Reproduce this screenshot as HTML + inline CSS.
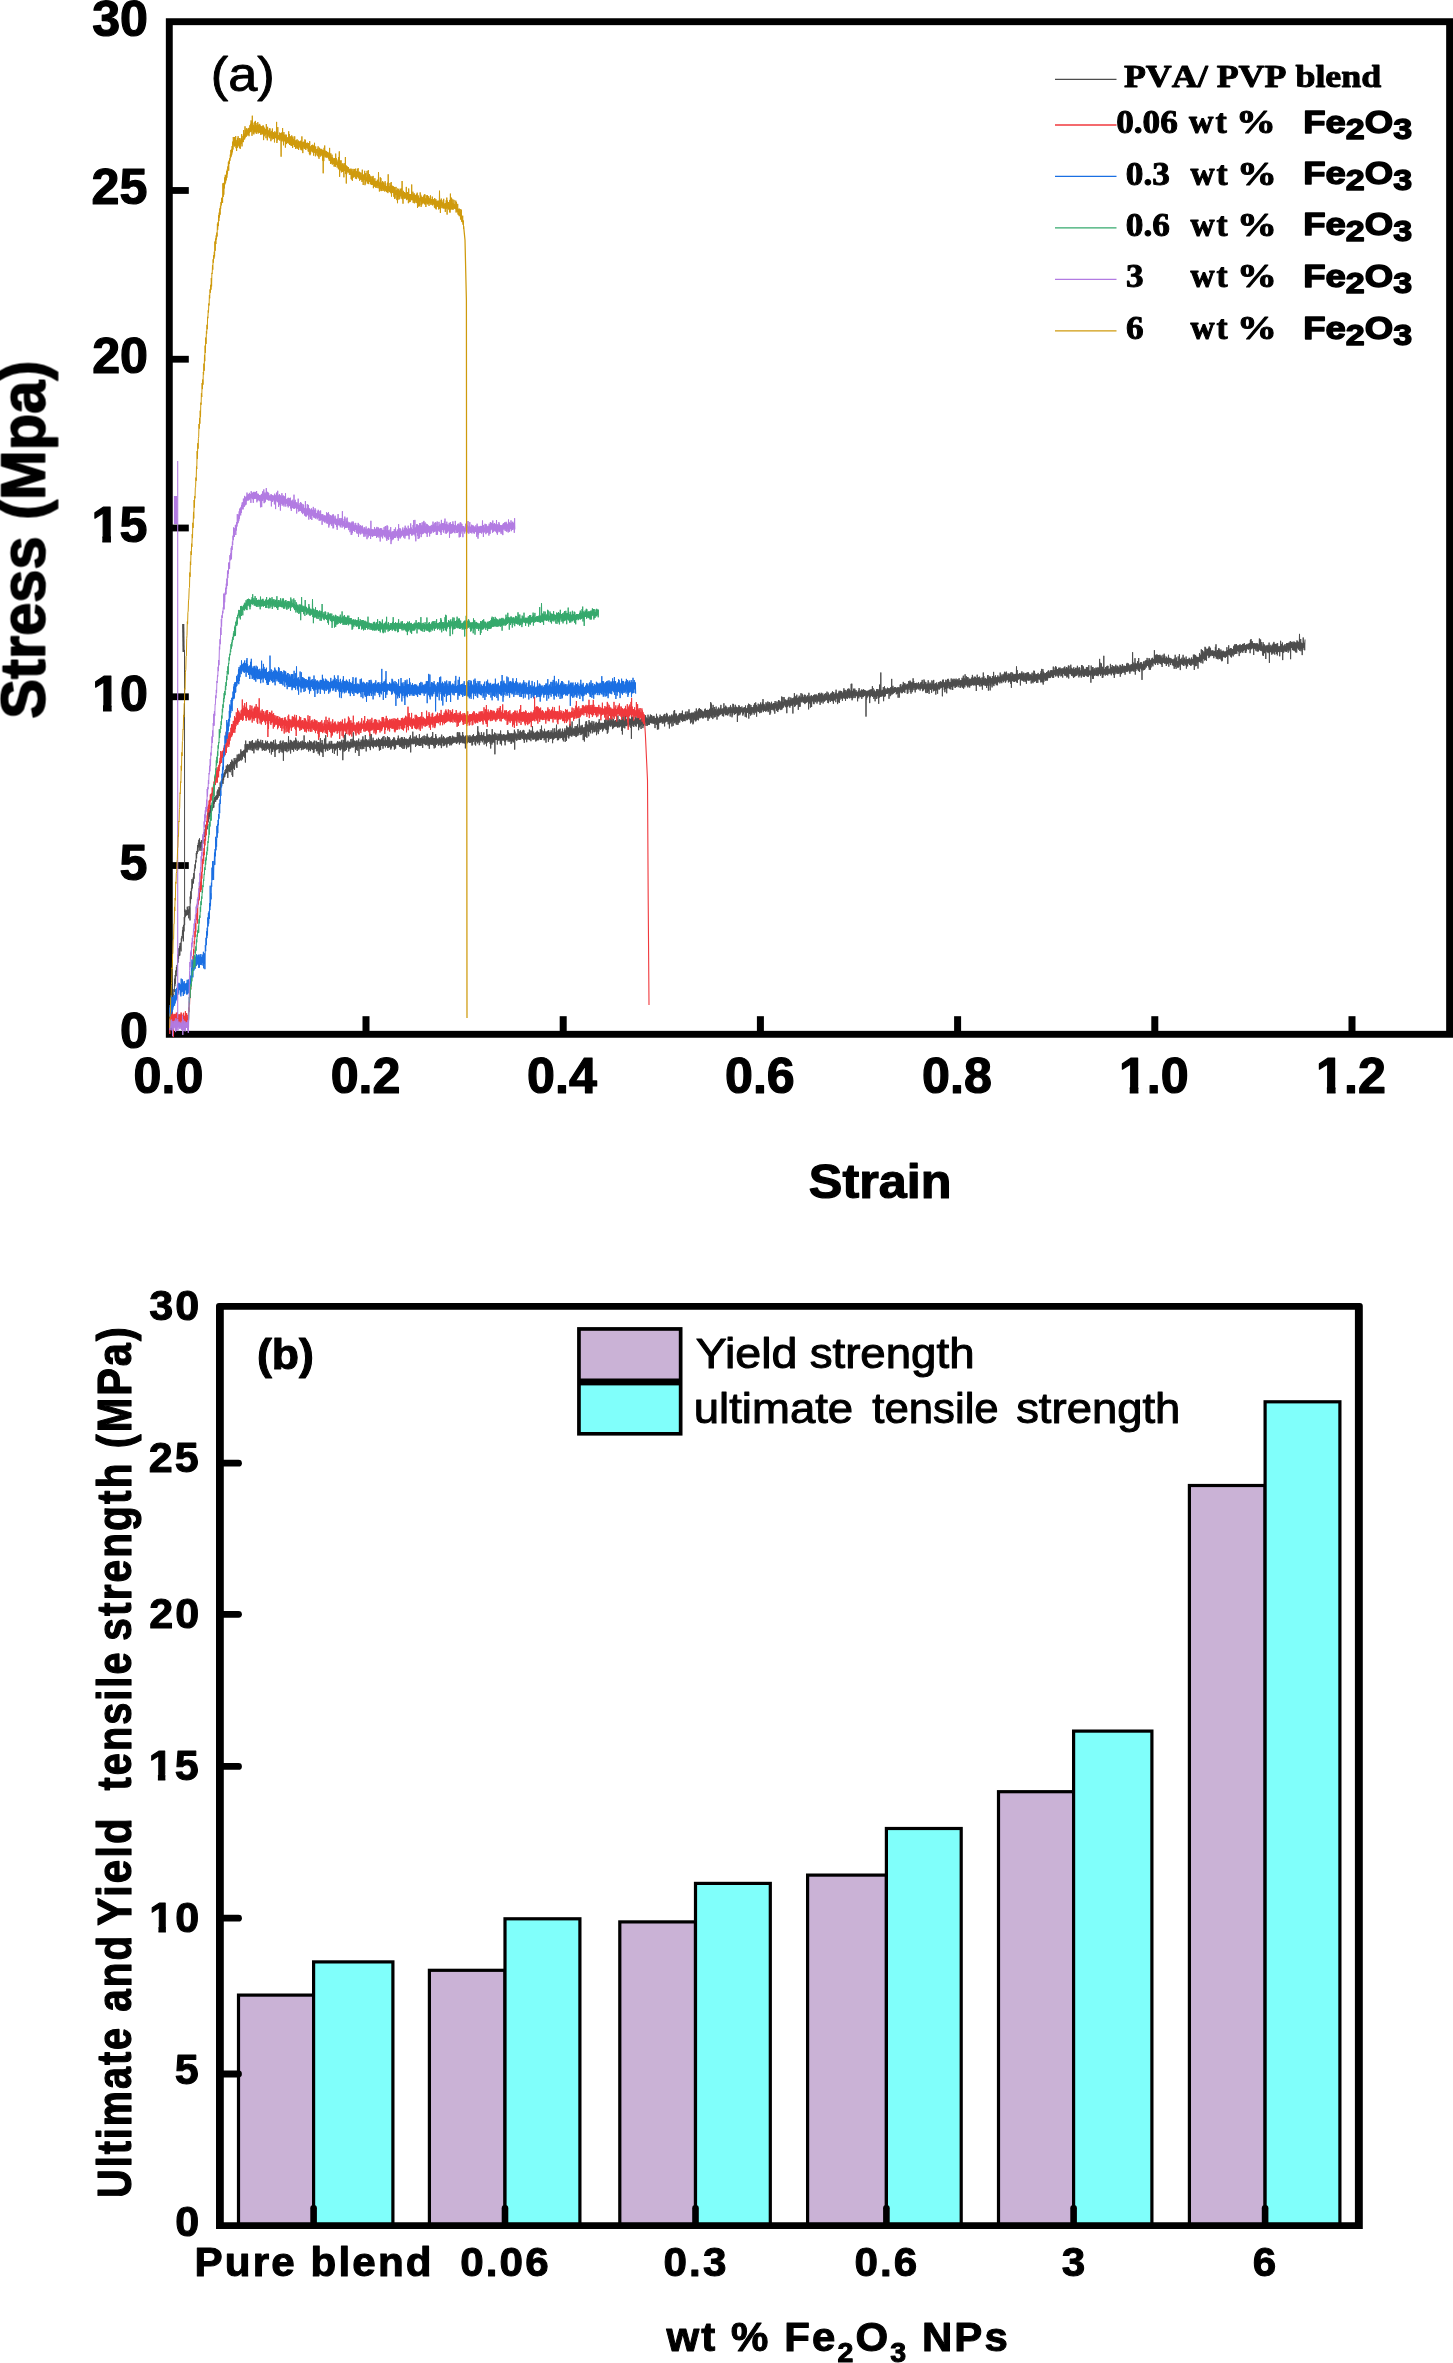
<!DOCTYPE html>
<html><head><meta charset="utf-8"><title>Figure</title>
<style>html,body{margin:0;padding:0;background:#fff;}body{width:1453px;height:2363px;overflow:hidden;font-family:"Liberation Sans",sans-serif;}</style>
</head><body>
<svg width="1453" height="2363" viewBox="0 0 1453 2363" style="display:block">
<rect x="0" y="0" width="1453" height="2363" fill="#fff"/>
<defs><clipPath id="c1" clipPathUnits="userSpaceOnUse"><path d="M-20,-120 H400 V40 H55.6 V-12.6 H38.7 V10 H21.5 V-12.6 H-20 Z"/></clipPath></defs>
<rect x="169.3" y="21.7" width="1280.3" height="1012.5999999999999" fill="none" stroke="#000" stroke-width="6.9"/>
<rect x="169.3" y="862.13" width="19.50" height="6.8" fill="#000"/>
<rect x="169.3" y="693.37" width="19.50" height="6.8" fill="#000"/>
<rect x="169.3" y="524.60" width="19.50" height="6.8" fill="#000"/>
<rect x="169.3" y="355.83" width="19.50" height="6.8" fill="#000"/>
<rect x="169.3" y="187.07" width="19.50" height="6.8" fill="#000"/>
<rect x="362.50" y="1016.2" width="7" height="18.10" fill="#000"/>
<rect x="559.70" y="1016.2" width="7" height="18.10" fill="#000"/>
<rect x="756.90" y="1016.2" width="7" height="18.10" fill="#000"/>
<rect x="954.10" y="1016.2" width="7" height="18.10" fill="#000"/>
<rect x="1151.30" y="1016.2" width="7" height="18.10" fill="#000"/>
<rect x="1348.50" y="1016.2" width="7" height="18.10" fill="#000"/>
<g>
<path d="M169.5,1029.1 169.8,1030.2 170.1,1022.9 170.5,1025.7 170.8,1014.2 171.1,1019.9 171.4,1011.2 171.7,1017.9 172.1,1004.3 172.4,1010.2 172.7,998.1 173.0,1000.8 173.3,994.1 173.6,997.2 173.9,989.2 174.3,991.9 174.6,978.7 174.9,986.2 175.2,975.0 175.5,983.6 175.8,970.5 176.1,976.2 176.4,966.9 176.7,971.7 177.0,965.0 177.4,966.6 177.7,954.5 178.0,962.7 178.3,955.7 178.6,958.7 178.9,948.2 179.2,955.9 179.5,946.3 179.8,955.5 180.1,943.1 180.4,949.3 180.7,942.7 181.0,951.4 181.3,938.4 181.6,941.5 181.9,936.2 182.2,938.4 182.5,930.2 182.8,935.2 183.1,926.8 183.4,941.3 183.7,924.9 184.0,931.4 184.3,917.0 184.6,925.2 184.9,909.4 185.2,917.2 185.5,910.9 185.8,915.5 186.1,910.4 186.4,915.4 186.7,910.4 187.0,915.1 187.3,906.7 187.6,915.1 187.9,909.7 188.2,914.5 188.5,909.7 188.8,918.3 189.1,906.0 189.4,913.1 189.7,907.4 190.0,920.4 190.2,896.6 190.5,903.3 190.8,891.3 191.1,899.1 191.4,888.2 191.7,890.7 192.0,879.1 192.3,888.4 192.6,881.0 192.9,884.0 193.2,877.5 193.5,883.1 193.8,873.2 194.1,878.7 194.4,868.8 194.7,870.7 195.0,864.4 195.3,868.4 195.7,860.3 196.0,862.3 196.3,853.0 196.6,858.3 196.9,851.0 197.2,853.8 197.6,845.0 198.0,851.7 198.3,842.8 198.6,847.4 198.9,839.8 199.2,846.7 199.5,838.4 199.8,850.6 200.2,841.9 200.5,847.8 200.8,842.0 201.1,850.9 201.4,840.3 201.7,847.0 202.0,840.3 202.3,845.4 202.6,839.5 202.9,843.8 203.2,835.7 203.5,840.7 203.8,832.6 204.1,837.1 204.4,832.4 204.7,836.9 205.0,829.1 205.3,833.7 205.6,824.9 205.9,829.6 206.2,824.6 206.6,828.3 206.9,822.1 207.2,829.3 207.5,813.5 207.8,822.9 208.1,812.5 208.4,821.7 208.7,811.0 209.0,819.2 209.3,810.7 209.6,816.7 209.9,810.2 210.2,816.3 210.5,805.4 210.8,813.9 211.1,806.4 211.4,810.1 211.7,805.1 212.0,810.5 212.3,801.7 212.6,808.4 212.9,803.2 213.2,807.8 213.5,800.5 213.8,807.5 214.1,797.6 214.4,803.6 214.8,797.1 215.1,801.9 215.4,796.6 215.7,801.7 216.0,795.7 216.3,799.8 216.6,795.1 216.9,799.3 217.2,791.4 217.5,799.3 217.8,789.6 218.1,797.8 218.4,789.9 218.7,795.5 219.0,787.0 219.3,796.1 219.6,788.1 219.9,792.3 220.2,782.4 220.5,790.5 220.8,784.4 221.1,786.9 221.4,780.8 221.7,785.9 222.0,779.3 222.4,783.2 222.7,776.1 223.0,783.9 223.3,773.5 223.6,780.2 223.9,774.3 224.2,777.4 224.5,772.3 224.8,776.7 225.1,770.0 225.4,774.4 225.7,769.2 226.0,772.1 226.3,765.6 226.6,773.3 226.9,767.3 227.2,772.4 227.5,764.4 227.8,777.9 228.1,765.0 228.4,770.7 228.7,765.6 229.0,771.7 229.3,764.4 229.6,771.5 229.9,764.6 230.2,772.2 230.5,762.2 230.8,770.1 231.2,763.5 231.5,769.7 231.8,759.6 232.1,775.2 232.4,760.9 232.7,776.8 233.0,761.4 233.3,768.6 233.6,762.5 233.9,767.5 234.2,758.0 234.5,769.8 234.8,760.6 235.1,764.3 235.4,760.2 235.7,763.5 236.0,757.9 236.3,766.4 236.6,758.9 236.9,767.9 237.2,754.6 237.5,762.4 237.8,757.4 238.1,761.5 238.4,754.5 238.7,761.1 239.0,753.8 239.3,761.1 239.6,755.0 239.9,760.1 240.2,753.8 240.5,759.8 240.8,749.4 241.2,760.6 241.5,751.6 241.8,756.8 242.1,753.0 242.4,759.4 242.7,751.1 243.0,756.8 243.3,751.3 243.6,756.1 243.9,749.9 244.2,756.1 244.5,749.8 244.8,757.9 245.1,744.2 245.4,762.5 245.7,740.6 246.0,752.5 246.3,744.5 246.6,751.9 246.9,744.3 247.2,752.3 247.5,743.9 247.8,749.9 248.2,745.8 248.5,748.9 248.8,744.1 249.1,750.1 249.4,741.3 249.7,748.2 250.0,741.8 250.3,748.7 250.6,742.7 250.9,750.2 251.2,741.1 251.5,747.7 251.8,744.2 252.1,750.5 252.4,740.0 252.7,750.8 253.0,742.9 253.3,748.9 253.6,742.9 253.9,753.3 254.2,743.4 254.5,747.4 254.8,742.7 255.1,749.4 255.4,742.9 255.7,748.1 256.0,740.6 256.3,747.4 256.6,743.4 256.9,750.2 257.2,742.2 257.5,747.4 257.8,738.9 258.1,750.3 258.4,741.0 258.7,748.9 259.0,741.9 259.3,747.1 259.6,741.7 259.9,747.4 260.2,743.1 260.5,746.7 260.8,739.8 261.1,748.1 261.4,743.5 261.7,748.3 262.0,742.2 262.3,750.7 262.6,740.1 262.9,747.4 263.2,743.2 263.6,750.1 263.9,744.2 264.2,749.7 264.5,743.5 264.8,750.9 265.1,744.2 265.4,747.9 265.7,740.6 266.0,750.5 266.3,742.3 266.6,749.7 266.9,742.4 267.2,749.0 267.5,740.9 267.8,748.4 268.1,743.0 268.4,748.1 268.7,744.5 269.0,750.1 269.3,743.6 269.6,752.6 269.9,744.0 270.2,748.1 270.5,741.9 270.8,748.5 271.1,741.7 271.4,754.5 271.7,741.9 272.0,750.4 272.3,742.5 272.6,752.0 272.9,744.5 273.2,749.6 273.5,740.3 273.8,748.8 274.1,743.6 274.4,751.5 274.7,744.8 275.0,757.0 275.3,739.6 275.6,750.6 275.9,743.1 276.2,749.8 276.5,744.8 276.8,749.1 277.1,744.7 277.4,749.3 277.7,744.8 278.0,748.9 278.3,744.1 278.6,749.0 278.9,744.3 279.2,753.1 279.5,744.1 279.8,748.8 280.1,741.3 280.4,749.4 280.7,740.6 281.0,751.8 281.3,743.2 281.6,750.1 281.9,745.0 282.2,752.6 282.5,741.8 282.8,750.1 283.1,740.5 283.4,760.8 283.7,744.9 284.0,750.5 284.3,742.3 284.6,748.6 284.9,744.9 285.2,751.2 285.5,742.6 285.8,750.9 286.1,742.3 286.4,750.6 286.7,742.2 287.0,752.2 287.3,743.5 287.6,748.4 287.9,743.9 288.2,748.8 288.5,736.2 288.8,751.2 289.1,742.7 289.4,748.2 289.7,742.9 290.0,749.7 290.3,739.9 290.6,753.5 290.9,743.4 291.2,748.0 291.5,740.7 291.8,749.5 292.1,743.2 292.4,749.9 292.7,741.8 293.0,748.9 293.3,742.8 293.6,751.6 293.9,740.7 294.2,748.6 294.5,740.7 294.8,748.0 295.1,741.0 295.4,749.7 295.7,737.7 296.0,747.2 296.3,739.7 296.6,748.4 296.9,743.2 297.2,751.0 297.5,742.8 297.8,749.3 298.1,740.8 298.4,749.3 298.7,742.7 299.0,749.3 299.3,742.4 299.6,747.7 299.9,743.3 300.2,748.0 300.5,741.7 300.8,747.6 301.1,741.3 301.4,750.2 301.7,744.0 302.0,749.6 302.3,740.6 302.6,747.4 302.9,742.6 303.2,749.6 303.5,741.8 303.8,748.5 304.1,735.4 304.4,748.8 304.7,742.7 305.0,747.4 305.3,742.0 305.6,748.2 305.9,743.3 306.2,748.4 306.5,743.6 306.8,749.6 307.1,743.8 307.4,747.3 307.7,741.8 308.0,749.4 308.3,744.0 308.6,751.5 308.9,742.6 309.2,750.0 309.5,740.0 309.8,747.8 310.1,741.7 310.4,751.1 310.7,741.5 311.0,749.2 311.3,741.6 311.6,748.5 311.9,742.3 312.2,749.5 312.5,743.5 312.8,749.9 313.1,743.7 313.4,752.9 313.7,741.9 314.0,752.5 314.3,740.6 314.6,749.2 314.9,744.5 315.2,748.3 315.5,744.8 315.8,748.9 316.1,740.8 316.4,751.2 316.7,741.7 317.0,751.2 317.3,742.2 317.6,750.6 317.9,743.6 318.2,753.7 318.5,742.0 318.8,749.5 319.1,742.3 319.4,755.4 319.7,744.1 320.0,751.3 320.3,738.1 320.6,751.2 320.9,744.8 321.2,752.3 321.5,743.1 321.8,752.0 322.1,740.0 322.4,752.9 322.7,743.3 323.0,757.0 323.3,744.6 323.6,748.8 323.9,745.2 324.2,748.8 324.5,738.6 324.8,748.4 325.1,744.9 325.4,751.5 325.7,735.2 326.0,749.0 326.3,743.7 326.6,749.1 326.9,744.0 327.2,750.3 327.5,745.0 327.8,750.9 328.1,743.5 328.4,748.3 328.7,744.0 329.0,748.2 329.3,741.4 329.6,750.0 329.9,743.9 330.2,749.0 330.5,743.8 330.8,747.5 331.1,740.9 331.4,747.7 331.7,741.1 332.0,749.1 332.3,743.8 332.6,752.8 332.9,744.5 333.2,748.3 333.5,744.3 333.8,748.7 334.1,743.6 334.4,754.0 334.7,743.9 335.0,749.2 335.3,744.3 335.6,750.4 335.9,743.7 336.2,749.1 336.5,743.8 336.8,748.1 337.1,742.6 337.4,755.6 337.7,741.0 338.0,747.4 338.3,743.1 338.6,747.7 338.9,742.0 339.2,747.2 339.5,741.6 339.8,750.0 340.1,742.8 340.4,750.3 340.7,742.1 341.0,749.4 341.3,740.9 341.6,747.2 341.9,739.8 342.2,749.0 342.5,743.0 342.8,760.2 343.1,742.3 343.4,750.0 343.7,740.1 344.0,751.7 344.3,734.9 344.6,750.5 344.9,742.8 345.2,750.9 345.5,732.9 345.8,747.1 346.1,742.9 346.4,749.9 346.7,741.8 347.0,747.6 347.3,742.4 347.6,746.7 347.9,740.7 348.2,748.2 348.5,742.9 348.8,751.5 349.1,741.7 349.4,748.8 349.7,742.1 350.0,746.9 350.3,742.2 350.6,748.5 350.9,739.1 351.2,747.5 351.5,742.7 351.8,746.9 352.1,738.8 352.4,746.9 352.7,741.3 353.0,747.8 353.3,732.3 353.6,746.2 353.9,740.2 354.2,746.7 354.5,741.3 354.8,745.9 355.1,740.9 355.4,752.7 355.7,742.7 356.0,747.3 356.3,741.0 356.6,750.1 356.9,740.2 357.2,746.7 357.5,741.9 357.8,750.8 358.1,741.4 358.4,746.0 358.7,738.6 359.0,756.0 359.3,742.0 359.6,745.7 359.9,741.7 360.2,748.5 360.5,742.2 360.8,749.1 361.1,739.8 361.4,745.7 361.7,741.4 362.0,749.3 362.3,739.4 362.6,748.7 362.9,736.4 363.2,746.2 363.5,740.5 363.8,749.0 364.1,739.7 364.4,746.5 364.7,741.1 365.0,746.4 365.3,735.1 365.6,746.6 365.9,739.0 366.2,751.4 366.5,739.5 366.8,745.2 367.1,739.8 367.4,746.3 367.7,740.9 368.0,747.0 368.3,741.3 368.6,745.4 368.9,739.4 369.2,746.6 369.5,740.9 369.8,748.1 370.1,733.8 370.4,750.1 370.7,742.1 371.0,745.9 371.3,734.1 371.6,745.8 371.9,739.7 372.2,746.5 372.5,740.7 372.8,746.9 373.1,737.7 373.4,748.3 373.7,740.1 374.0,746.7 374.3,741.4 374.6,745.5 374.9,740.3 375.2,745.5 375.5,740.5 375.8,746.8 376.1,740.7 376.4,747.1 376.7,738.8 377.0,744.9 377.3,739.9 377.6,745.7 377.9,741.1 378.2,746.3 378.5,737.8 378.8,747.2 379.1,740.5 379.4,750.6 379.7,739.0 380.0,745.0 380.3,739.8 380.6,749.9 380.9,740.4 381.2,745.7 381.5,738.5 381.8,745.9 382.1,739.9 382.4,745.9 382.7,736.8 383.0,748.7 383.3,740.0 383.6,746.0 383.9,736.0 384.2,745.7 384.5,740.8 384.8,745.7 385.1,739.8 385.4,747.4 385.7,737.4 386.0,745.8 386.3,739.9 386.6,745.6 386.9,740.1 387.2,745.7 387.5,736.3 387.8,747.9 388.1,741.1 388.4,747.6 388.7,737.1 389.0,745.0 389.3,737.5 389.6,747.2 389.9,738.8 390.2,745.8 390.5,741.4 390.8,749.5 391.1,740.5 391.4,748.2 391.7,740.6 392.0,744.8 392.3,740.5 392.6,746.0 392.9,739.0 393.2,746.5 393.5,737.7 393.8,744.9 394.1,737.3 394.4,749.6 394.7,738.5 395.0,746.5 395.3,740.2 395.6,748.6 395.9,741.6 396.2,744.9 396.5,740.7 396.8,744.7 397.1,740.1 397.4,744.6 397.7,738.4 398.0,745.1 398.3,735.6 398.6,744.2 398.9,740.3 399.2,745.3 399.5,739.3 399.8,746.9 400.1,738.2 400.5,746.5 400.8,740.4 401.1,744.5 401.4,737.1 401.7,747.7 402.0,740.9 402.3,745.6 402.6,737.4 402.9,748.9 403.2,739.3 403.5,745.4 403.8,739.2 404.1,748.9 404.4,737.1 404.7,747.6 405.0,738.7 405.3,744.7 405.6,739.3 405.9,745.2 406.2,738.6 406.5,749.1 406.8,739.9 407.1,747.4 407.4,739.2 407.7,744.6 408.0,739.5 408.3,747.3 408.6,739.7 408.9,747.0 409.2,738.2 409.5,745.4 409.8,737.0 410.1,744.2 410.4,735.4 410.7,752.4 411.0,738.5 411.3,743.7 411.6,739.3 411.9,744.3 412.2,738.5 412.5,743.3 412.8,731.7 413.1,744.1 413.4,739.0 413.7,744.2 414.0,736.6 414.3,743.6 414.6,739.2 414.9,743.5 415.2,736.7 415.5,746.9 415.8,739.5 416.1,745.8 416.4,735.5 416.7,743.4 417.0,738.8 417.3,745.0 417.6,737.9 417.9,745.1 418.2,738.8 418.5,745.1 418.8,738.7 419.1,745.8 419.4,734.1 419.7,745.9 420.0,739.0 420.3,745.2 420.6,738.0 420.9,745.9 421.2,738.5 421.5,742.9 421.8,737.2 422.1,745.3 422.4,738.6 422.7,747.9 423.0,736.1 423.3,743.6 423.6,739.2 423.9,743.4 424.2,735.5 424.5,744.1 424.8,737.8 425.1,744.5 425.4,739.6 425.7,745.2 426.0,736.0 426.3,744.6 426.6,737.0 426.9,744.9 427.2,733.8 427.5,743.4 427.8,736.7 428.1,746.1 428.4,737.5 428.7,744.5 429.0,739.3 429.3,748.8 429.6,737.8 429.9,744.3 430.2,739.8 430.5,743.9 430.8,737.3 431.1,745.0 431.5,736.5 431.8,744.4 432.1,740.5 432.4,744.7 432.7,732.0 433.0,744.3 433.3,738.4 433.6,746.0 433.9,738.1 434.2,748.4 434.5,738.1 434.8,743.6 435.1,739.5 435.4,747.5 435.7,734.0 436.0,744.5 436.3,736.5 436.6,744.8 436.9,738.8 437.2,743.7 437.5,739.1 437.8,743.3 438.1,738.2 438.4,745.7 438.7,739.6 439.0,745.0 439.3,737.3 439.6,743.4 439.9,737.9 440.2,745.3 440.5,739.0 440.8,745.2 441.1,736.7 441.4,748.1 441.7,734.6 442.0,743.2 442.3,737.6 442.6,742.9 442.9,739.1 443.2,746.2 443.5,736.1 443.8,745.2 444.1,737.2 444.4,745.6 444.7,738.5 445.0,743.8 445.3,738.5 445.6,744.1 445.9,739.1 446.2,745.3 446.5,738.0 446.8,747.5 447.1,737.2 447.4,744.2 447.7,739.1 448.0,742.8 448.3,736.9 448.6,743.7 448.9,737.6 449.2,742.7 449.5,736.1 449.8,745.5 450.1,736.1 450.4,743.8 450.7,736.3 451.0,745.1 451.3,738.7 451.6,745.2 451.9,737.8 452.2,743.9 452.5,735.7 452.8,742.6 453.1,737.2 453.4,743.1 453.7,736.6 454.0,742.4 454.3,738.2 454.6,742.5 454.9,736.9 455.2,741.6 455.5,738.1 455.8,742.6 456.1,737.0 456.4,743.9 456.7,737.7 457.0,743.3 457.3,732.5 457.6,742.4 457.9,732.0 458.2,742.2 458.5,734.9 458.8,740.9 459.1,732.6 459.4,744.5 459.7,732.5 460.0,742.8 460.3,735.7 460.6,742.6 460.9,735.6 461.2,740.8 461.5,736.4 461.8,742.4 462.1,737.5 462.4,743.2 462.7,732.0 463.0,742.2 463.3,735.2 463.6,743.2 463.9,737.2 464.2,743.2 464.5,737.0 464.8,743.4 465.1,735.9 465.4,748.4 465.7,735.8 466.0,742.4 466.3,735.5 466.6,741.5 466.9,735.4 467.2,743.3 467.5,737.9 467.8,742.7 468.1,735.6 468.4,742.0 468.7,737.2 469.0,741.3 469.3,737.5 469.6,743.0 469.9,735.2 470.2,741.9 470.5,736.7 470.8,742.9 471.1,736.9 471.4,741.8 471.7,736.6 472.0,745.6 472.3,736.6 472.6,744.9 472.9,735.0 473.2,742.0 473.5,734.2 473.8,741.4 474.1,736.8 474.4,740.2 474.7,736.2 475.0,744.5 475.3,736.5 475.6,745.5 475.9,736.3 476.2,741.9 476.5,735.4 476.8,740.7 477.1,736.3 477.4,743.4 477.8,726.2 478.1,742.5 478.4,731.6 478.7,741.9 479.0,732.6 479.3,745.2 479.6,734.9 479.9,742.8 480.2,735.6 480.5,740.2 480.8,735.2 481.1,740.9 481.4,732.2 481.7,740.3 482.0,736.5 482.3,742.3 482.6,735.4 482.9,740.7 483.2,734.7 483.5,740.1 483.8,732.4 484.1,744.6 484.4,736.1 484.7,742.3 485.0,736.1 485.3,742.3 485.6,736.6 485.9,743.7 486.2,737.0 486.5,746.2 486.8,729.0 487.1,742.9 487.4,734.9 487.7,740.9 488.0,734.5 488.3,742.0 488.6,735.1 488.9,742.0 489.2,734.5 489.5,740.8 489.8,734.2 490.1,743.7 490.4,735.1 490.7,748.5 491.0,735.1 491.3,741.6 491.6,735.8 491.9,744.6 492.2,729.1 492.5,742.7 492.8,734.4 493.1,742.4 493.4,734.6 493.7,741.8 494.0,736.1 494.3,743.1 494.6,732.5 494.9,754.3 495.2,733.2 495.5,739.9 495.8,735.6 496.1,739.7 496.4,735.5 496.7,740.0 497.0,733.6 497.3,744.5 497.6,736.1 497.9,741.0 498.2,735.8 498.5,740.0 498.8,733.8 499.1,740.6 499.4,733.8 499.7,739.8 500.0,734.2 500.3,744.1 500.6,730.5 500.9,742.9 501.2,735.6 501.5,745.4 501.8,734.1 502.1,739.6 502.4,735.4 502.7,740.5 503.0,735.4 503.3,740.5 503.6,734.1 503.9,740.1 504.2,734.7 504.5,741.8 504.8,734.7 505.1,745.3 505.4,735.2 505.7,741.3 506.0,734.9 506.3,740.1 506.6,734.7 506.9,739.1 507.2,735.7 507.5,739.7 507.8,730.2 508.1,741.6 508.4,732.4 508.7,739.4 509.0,733.6 509.3,741.7 509.6,733.6 509.9,738.8 510.2,733.6 510.5,741.2 510.8,733.6 511.1,744.0 511.4,733.3 511.7,743.1 512.0,735.1 512.3,741.0 512.6,733.7 512.9,741.6 513.2,733.2 513.5,742.3 513.8,734.2 514.1,738.1 514.4,729.7 514.7,749.6 515.0,731.6 515.3,738.2 515.6,733.9 515.9,739.8 516.2,733.5 516.5,740.6 516.8,734.6 517.1,740.3 517.4,734.6 517.7,738.0 518.0,729.1 518.3,739.7 518.6,734.2 518.9,738.0 519.2,731.3 519.5,739.9 519.8,733.0 520.1,739.3 520.4,730.4 520.7,739.8 521.0,733.0 521.3,737.6 521.6,731.9 521.9,738.5 522.2,734.3 522.5,738.7 522.8,730.6 523.1,738.1 523.4,729.9 523.7,740.2 524.0,730.5 524.3,742.8 524.6,733.5 524.9,738.0 525.2,733.3 525.5,739.4 525.8,734.3 526.1,737.6 526.4,734.4 526.7,742.2 527.0,734.0 527.3,739.5 527.6,732.8 527.9,737.7 528.2,732.5 528.5,739.2 528.8,732.8 529.1,739.6 529.4,729.6 529.7,740.1 530.0,730.6 530.3,737.5 530.6,733.4 530.9,741.2 531.2,730.6 531.5,737.8 531.9,732.8 532.2,738.4 532.5,726.3 532.8,739.6 533.1,734.2 533.4,739.5 533.7,731.6 534.0,737.6 534.3,733.5 534.6,739.3 534.9,733.0 535.2,737.7 535.5,732.5 535.8,741.5 536.1,733.7 536.4,740.6 536.7,731.7 537.0,740.3 537.3,730.7 537.6,740.0 537.9,732.9 538.2,740.3 538.5,731.9 538.8,739.7 539.1,732.6 539.4,738.4 539.7,732.9 540.0,737.6 540.3,729.2 540.6,739.9 540.9,731.1 541.2,739.9 541.5,725.6 541.8,738.7 542.1,730.4 542.4,737.7 542.7,733.3 543.0,738.0 543.3,731.7 543.6,738.0 543.9,731.4 544.2,740.3 544.5,728.8 544.8,737.4 545.1,731.3 545.4,739.3 545.7,732.7 546.0,742.7 546.3,732.0 546.6,738.0 546.9,731.4 547.2,737.5 547.5,730.8 547.8,738.1 548.1,731.2 548.4,741.8 548.7,730.0 549.0,739.7 549.3,733.0 549.6,737.7 549.9,731.8 550.2,738.5 550.5,732.3 550.8,738.9 551.1,730.3 551.4,738.3 551.7,731.9 552.0,737.4 552.3,733.1 552.6,743.2 552.9,728.4 553.2,739.8 553.5,733.2 553.8,738.2 554.1,731.6 554.4,738.5 554.7,728.3 555.0,737.4 555.3,731.9 555.6,738.1 555.9,732.3 556.2,738.0 556.5,724.7 556.8,737.4 557.1,730.7 557.4,740.2 557.7,733.0 558.0,740.2 558.3,730.5 558.6,739.8 558.9,729.3 559.2,738.3 559.5,730.0 559.8,737.4 560.1,728.6 560.4,738.3 560.7,732.6 561.0,736.3 561.3,732.5 561.6,738.0 561.9,731.4 562.2,736.8 562.5,728.7 562.8,739.7 563.1,731.9 563.4,741.3 563.7,732.0 564.0,737.7 564.3,730.2 564.6,737.3 564.9,728.4 565.2,741.9 565.5,730.5 565.8,738.7 566.1,731.3 566.4,740.9 566.7,725.7 567.0,735.0 567.3,727.3 567.6,735.0 567.9,730.4 568.2,737.5 568.5,727.6 568.8,738.5 569.1,730.8 569.4,736.1 569.7,724.5 570.0,735.7 570.3,723.9 570.6,735.2 570.9,727.3 571.2,736.2 571.5,727.9 571.8,736.6 572.1,721.5 572.4,735.1 572.7,729.6 573.0,735.4 573.3,729.1 573.6,734.1 573.9,727.9 574.2,736.0 574.5,729.3 574.8,734.2 575.1,726.1 575.4,735.6 575.7,728.2 576.0,737.1 576.3,726.1 576.6,736.5 576.9,728.9 577.2,733.4 577.5,724.4 577.8,735.9 578.1,727.5 578.4,734.5 578.7,728.6 579.0,733.0 579.3,718.5 579.6,733.0 579.9,726.2 580.2,735.1 580.5,727.9 580.8,732.6 581.1,725.4 581.4,734.6 581.7,726.5 582.0,733.6 582.3,724.9 582.6,733.7 582.9,727.6 583.2,740.1 583.5,728.1 583.8,732.9 584.1,727.1 584.4,741.5 584.7,727.6 585.0,734.8 585.3,724.2 585.6,736.5 585.9,721.5 586.3,736.9 586.6,721.2 586.9,737.9 587.2,725.1 587.5,731.1 587.8,724.5 588.1,731.8 588.4,725.5 588.7,736.3 589.0,720.1 589.3,731.5 589.6,722.2 589.9,732.0 590.2,723.0 590.5,733.3 590.8,722.7 591.1,729.6 591.4,723.2 591.7,729.7 592.0,720.9 592.3,733.4 592.6,725.1 592.9,731.8 593.2,723.6 593.5,729.6 593.8,721.4 594.1,732.3 594.4,725.9 594.7,732.0 595.0,723.8 595.3,729.6 595.6,723.2 595.9,731.5 596.2,721.9 596.5,735.2 596.8,724.8 597.1,732.3 597.4,723.1 597.7,728.8 598.0,722.9 598.3,734.1 598.6,721.8 598.9,731.5 599.2,719.2 599.5,729.0 599.8,722.8 600.1,729.5 600.4,723.7 600.7,729.6 601.0,722.8 601.3,728.3 601.6,723.0 601.9,728.9 602.2,723.3 602.5,731.5 602.8,722.8 603.1,730.4 603.4,723.3 603.7,728.8 604.0,723.1 604.3,727.7 604.6,719.9 604.9,728.6 605.2,721.2 605.5,728.4 605.8,719.0 606.1,730.1 606.4,722.5 606.7,730.0 607.0,719.6 607.3,733.7 607.6,721.4 607.9,732.6 608.2,716.4 608.5,729.4 608.8,719.8 609.1,725.7 609.4,721.6 609.7,725.2 610.0,718.1 610.3,726.7 610.6,720.7 610.9,725.4 611.2,718.9 611.5,725.2 611.8,716.2 612.1,726.5 612.4,721.0 612.7,729.1 613.0,718.6 613.3,727.9 613.6,719.2 613.9,725.9 614.2,721.5 614.5,727.1 614.8,720.8 615.1,726.0 615.4,720.2 615.7,726.5 616.0,720.1 616.3,726.5 616.6,719.8 616.9,725.7 617.3,721.6 617.6,727.6 617.9,715.6 618.2,727.3 618.5,721.9 618.8,725.7 619.1,719.9 619.4,727.3 619.7,719.2 620.0,725.6 620.3,720.3 620.6,726.4 620.9,720.3 621.2,724.9 621.5,718.2 621.8,731.0 622.1,716.4 622.4,734.5 622.7,719.3 623.0,727.9 623.3,720.5 623.6,726.1 623.9,714.7 624.2,727.4 624.5,718.5 624.8,728.4 625.1,720.0 625.4,725.9 625.7,714.7 626.0,725.7 626.3,719.7 626.6,726.1 626.9,719.0 627.2,725.4 627.5,720.3 627.8,724.3 628.1,719.7 628.4,727.2 628.7,715.7 629.0,726.6 629.3,718.5 629.6,724.4 629.9,720.3 630.2,724.9 630.5,719.3 630.8,727.9 631.1,718.6 631.4,738.8 631.7,715.7 632.0,725.9 632.3,717.8 632.6,723.6 632.9,716.8 633.2,726.3 633.5,717.2 633.8,726.9 634.1,719.5 634.4,724.4 634.7,719.9 635.0,724.6 635.3,716.5 635.6,726.0 635.9,718.4 636.2,726.7 636.5,718.6 636.8,723.7 637.1,707.0 637.4,723.2 637.7,717.2 638.0,724.2 638.3,716.0 638.6,730.2 638.9,717.2 639.2,726.8 639.5,719.8 639.8,727.4 640.2,719.4 640.5,725.6 640.8,720.0 641.1,729.0 641.4,717.9 641.7,725.0 642.0,720.2 642.3,723.8 642.6,719.0 642.9,728.1 643.2,720.0 643.5,726.1 643.8,718.7 644.1,724.7 644.4,718.2 644.7,723.0 645.0,717.8 645.3,722.5 645.6,715.3 645.9,725.8 646.2,717.4 646.5,723.9 646.8,718.8 647.1,726.0 647.4,718.4 647.7,725.0 648.0,714.7 648.3,724.7 648.6,718.9 648.9,724.7 649.2,716.6 649.5,724.7 649.8,718.4 650.1,723.0 650.4,714.5 650.7,722.9 651.0,718.6 651.3,723.3 651.6,715.1 651.9,723.1 652.2,719.0 652.5,722.6 652.8,716.4 653.1,724.0 653.4,716.2 653.7,723.0 654.0,715.9 654.3,723.9 654.6,717.6 655.0,728.1 655.3,718.0 655.6,722.8 655.9,718.3 656.2,724.8 656.5,713.8 656.8,724.4 657.1,716.5 657.4,729.6 657.7,716.8 658.0,727.1 658.3,718.4 658.6,729.3 658.9,718.8 659.2,723.1 659.5,717.1 659.8,722.3 660.1,714.7 660.4,722.6 660.7,717.0 661.0,721.9 661.3,716.1 661.6,722.1 661.9,716.1 662.2,723.4 662.5,717.5 662.8,723.7 663.1,716.4 663.4,721.6 663.7,715.3 664.0,723.3 664.3,714.2 664.6,726.4 664.9,713.9 665.2,722.5 665.5,716.7 665.8,721.7 666.1,716.3 666.4,721.4 666.7,712.9 667.0,721.4 667.3,714.3 667.6,721.5 667.9,716.3 668.2,724.3 668.5,717.3 668.8,720.7 669.1,716.7 669.4,728.5 669.8,715.3 670.1,721.8 670.4,716.5 670.7,723.4 671.0,717.2 671.3,722.0 671.6,714.6 671.9,726.5 672.2,715.4 672.5,721.4 672.8,716.9 673.1,725.9 673.4,713.8 673.7,720.7 674.0,710.8 674.3,723.2 674.6,710.0 674.9,722.3 675.2,716.0 675.5,722.2 675.8,713.5 676.1,724.3 676.4,713.8 676.7,724.5 677.0,716.3 677.3,721.4 677.6,716.6 677.9,725.0 678.2,715.4 678.5,723.2 678.8,714.8 679.1,720.6 679.4,713.5 679.7,722.5 680.0,713.3 680.3,718.9 680.6,714.3 680.9,720.2 681.2,713.2 681.5,720.6 681.8,713.4 682.1,720.0 682.4,710.6 682.7,721.8 683.0,714.5 683.3,720.5 683.6,714.7 683.9,721.0 684.2,714.5 684.5,721.0 684.8,714.8 685.1,721.2 685.4,712.0 685.7,718.2 686.0,711.4 686.3,718.6 686.6,714.8 686.9,720.2 687.2,714.1 687.5,719.8 687.8,711.5 688.1,719.2 688.4,713.7 688.7,718.4 689.0,709.3 689.3,717.8 689.6,713.0 689.9,719.7 690.2,714.6 690.5,723.4 690.8,713.2 691.1,719.4 691.4,712.7 691.7,722.4 692.0,713.0 692.3,718.4 692.6,712.7 692.9,724.3 693.2,713.1 693.5,723.3 693.8,712.5 694.1,719.1 694.4,713.5 694.7,719.8 695.0,711.2 695.3,721.3 695.6,712.1 696.0,721.2 696.3,708.5 696.6,719.8 696.9,711.9 697.2,719.8 697.5,711.7 697.8,717.4 698.1,710.3 698.4,720.3 698.7,709.2 699.0,718.3 699.3,708.0 699.6,716.8 699.9,711.8 700.2,718.2 700.5,709.1 700.8,717.6 701.1,710.3 701.4,717.1 701.7,709.8 702.0,717.4 702.3,711.0 702.6,718.3 702.9,712.4 703.2,718.4 703.5,711.7 703.8,717.6 704.1,711.4 704.4,715.5 704.7,709.4 705.0,717.2 705.3,708.6 705.6,717.6 705.9,710.2 706.2,716.6 706.5,710.0 706.8,717.2 707.1,710.4 707.4,717.9 707.7,709.8 708.0,720.8 708.3,710.0 708.6,717.3 708.9,711.4 709.2,718.6 709.5,708.8 709.8,717.8 710.1,710.8 710.4,715.8 710.7,702.1 711.0,716.6 711.3,703.5 711.6,717.6 711.9,710.2 712.2,715.2 712.5,707.9 712.8,719.1 713.1,704.9 713.4,715.0 713.7,710.5 714.0,717.6 714.3,707.0 714.6,716.8 714.9,709.4 715.2,717.1 715.5,709.4 715.8,715.2 716.1,706.6 716.4,715.2 716.7,710.7 717.0,719.6 717.3,709.9 717.6,715.9 717.9,708.8 718.2,716.5 718.5,707.6 718.8,716.1 719.1,708.7 719.4,714.8 719.7,709.5 720.0,714.4 720.3,707.6 720.6,714.4 720.9,704.9 721.2,714.1 721.5,708.8 721.8,713.8 722.1,709.2 722.4,716.1 722.7,708.5 723.0,713.5 723.3,708.5 723.6,716.5 723.9,703.3 724.2,713.7 724.5,707.3 724.8,712.9 725.1,707.0 725.4,715.2 725.7,705.7 726.0,713.4 726.3,706.8 726.6,715.0 726.9,708.6 727.2,715.3 727.5,709.3 727.8,715.4 728.1,707.2 728.4,714.1 728.7,708.0 729.0,713.3 729.3,708.7 729.6,713.0 729.9,706.9 730.2,716.5 730.5,705.3 730.8,712.7 731.1,706.9 731.4,712.9 731.7,708.7 732.0,717.3 732.3,708.4 732.6,715.3 732.9,703.8 733.2,713.2 733.5,704.0 733.8,712.7 734.1,706.9 734.4,714.7 734.7,708.2 735.0,714.1 735.3,704.8 735.6,714.0 735.9,707.8 736.2,713.0 736.5,706.8 736.8,713.1 737.1,708.6 737.4,722.0 737.7,707.4 738.0,715.8 738.3,707.3 738.6,714.8 738.9,705.1 739.2,712.5 739.5,706.3 739.8,715.2 740.1,707.5 740.4,713.6 740.7,707.0 741.0,712.2 741.3,708.8 741.6,712.1 741.9,706.5 742.2,712.5 742.5,708.7 742.8,715.6 743.1,708.1 743.4,714.2 743.7,707.7 744.0,712.0 744.3,707.4 744.6,712.3 744.9,707.2 745.2,716.8 745.5,705.5 745.8,713.2 746.1,708.7 746.4,717.4 746.7,708.3 747.0,713.0 747.3,707.9 747.6,712.6 747.9,705.3 748.2,711.9 748.5,703.7 748.8,718.6 749.1,706.9 749.4,714.0 749.7,704.2 750.0,712.2 750.3,707.7 750.6,715.6 750.9,705.0 751.2,713.8 751.5,707.2 751.8,714.7 752.1,707.9 752.4,711.5 752.7,707.3 753.0,712.9 753.3,707.0 753.6,712.9 753.9,704.9 754.2,714.7 754.5,703.3 754.8,711.4 755.1,706.8 755.4,712.2 755.7,702.4 756.0,713.2 756.3,705.0 756.6,716.7 756.9,707.4 757.2,711.3 757.5,706.7 757.9,711.3 758.2,703.7 758.5,712.0 758.8,706.7 759.1,710.9 759.4,704.9 759.7,713.2 760.0,704.2 760.3,711.4 760.6,702.5 760.9,712.8 761.2,704.5 761.5,712.3 761.8,704.7 762.1,710.5 762.4,702.5 762.7,709.4 763.0,699.1 763.3,712.1 763.6,703.8 763.9,711.0 764.2,705.7 764.5,710.6 764.8,704.3 765.1,710.3 765.4,706.5 765.7,711.7 766.0,702.3 766.3,711.1 766.6,703.6 766.9,709.5 767.2,704.4 767.5,710.3 767.8,701.5 768.1,712.1 768.4,704.1 768.7,710.9 769.0,702.1 769.3,709.0 769.6,702.4 769.9,714.8 770.3,704.8 770.6,713.3 770.9,703.3 771.2,708.3 771.5,701.8 771.8,710.0 772.1,704.0 772.4,708.9 772.7,704.6 773.0,710.2 773.3,703.0 773.6,709.4 773.9,703.5 774.2,711.4 774.5,703.0 774.8,713.7 775.1,701.0 775.4,708.1 775.7,703.0 776.0,708.7 776.3,704.1 776.6,710.7 776.9,701.5 777.2,710.5 777.5,704.2 777.8,712.0 778.1,701.9 778.4,709.9 778.7,700.0 779.0,709.3 779.3,700.7 779.6,708.3 779.9,703.1 780.2,706.6 780.5,702.4 780.8,710.1 781.1,701.0 781.4,709.3 781.7,696.5 782.0,709.4 782.3,701.9 782.6,707.6 782.9,697.0 783.2,707.7 783.5,702.2 783.8,706.6 784.1,697.1 784.4,705.3 784.7,699.8 785.0,705.2 785.3,699.5 785.6,706.8 785.9,700.8 786.2,707.5 786.5,700.6 786.8,713.2 787.1,699.8 787.4,707.0 787.7,700.7 788.0,706.1 788.3,698.2 788.6,704.7 789.0,696.9 789.3,706.7 789.6,700.5 789.9,707.7 790.2,700.4 790.5,705.7 790.8,697.5 791.1,705.7 791.4,699.7 791.7,704.5 792.0,698.2 792.3,706.0 792.6,698.5 792.9,713.5 793.2,699.1 793.5,703.7 793.8,697.6 794.1,704.8 794.4,693.1 794.7,706.9 795.0,695.9 795.3,706.0 795.6,697.5 795.9,703.0 796.2,696.3 796.5,704.6 796.8,694.7 797.1,704.4 797.4,698.0 797.7,704.3 798.0,697.8 798.3,709.8 798.6,697.5 798.9,703.3 799.2,695.7 799.5,706.6 799.8,696.6 800.1,706.8 800.4,697.8 800.7,701.5 801.0,693.1 801.3,701.7 801.6,697.0 801.9,702.4 802.2,693.8 802.5,701.1 802.8,695.1 803.1,702.1 803.4,696.9 803.7,702.7 804.0,697.3 804.3,703.0 804.6,694.7 804.9,704.1 805.2,694.9 805.5,703.1 805.8,697.4 806.1,703.0 806.4,697.3 806.7,702.0 807.0,695.9 807.4,701.5 807.7,695.3 808.0,702.2 808.3,697.1 808.6,709.4 808.9,692.8 809.2,702.9 809.5,696.9 809.8,703.6 810.1,696.0 810.4,707.6 810.7,697.5 811.0,704.3 811.3,695.1 811.6,707.0 811.9,696.4 812.2,700.9 812.5,696.8 812.8,701.5 813.1,695.9 813.4,703.6 813.7,695.0 814.0,704.2 814.3,694.9 814.6,701.1 814.9,694.4 815.2,702.2 815.5,694.8 815.8,702.1 816.1,696.1 816.4,700.5 816.7,694.5 817.0,703.6 817.3,696.0 817.6,701.6 817.9,695.5 818.2,701.1 818.5,693.0 818.8,701.3 819.1,695.1 819.4,701.7 819.8,692.8 820.1,704.9 820.4,694.0 820.7,700.8 821.0,696.3 821.3,702.6 821.6,692.8 821.9,701.2 822.2,695.2 822.5,701.3 822.8,693.5 823.1,703.5 823.4,696.1 823.7,700.5 824.0,695.0 824.3,701.7 824.6,693.9 824.9,701.1 825.2,696.5 825.5,700.2 825.8,693.0 826.1,700.0 826.4,694.1 826.7,699.9 827.0,691.6 827.3,700.7 827.6,695.2 827.9,703.0 828.2,692.6 828.5,703.2 828.8,694.0 829.1,700.5 829.4,695.3 829.7,699.9 830.0,695.2 830.3,702.0 830.6,693.7 830.9,699.3 831.2,693.5 831.5,700.6 831.8,692.7 832.2,701.0 832.5,691.4 832.8,701.3 833.1,693.5 833.4,703.8 833.7,692.1 834.0,700.1 834.3,693.9 834.6,700.4 834.9,693.9 835.2,698.3 835.5,692.7 835.8,702.2 836.1,689.7 836.4,698.4 836.7,693.4 837.0,698.7 837.3,693.7 837.6,704.1 837.9,693.7 838.2,698.4 838.5,692.6 838.8,702.3 839.1,690.8 839.4,702.9 839.7,691.8 840.0,699.7 840.3,690.8 840.6,697.6 840.9,691.9 841.2,698.4 841.5,691.2 841.8,698.5 842.1,692.8 842.4,700.8 842.7,692.8 843.0,696.5 843.3,691.4 843.6,697.9 843.9,688.3 844.2,698.8 844.6,690.2 844.9,697.9 845.2,689.9 845.5,701.0 845.8,692.1 846.1,697.6 846.4,691.6 846.7,698.2 847.0,690.3 847.3,699.0 847.6,688.9 847.9,695.8 848.2,690.8 848.5,697.3 848.8,688.4 849.1,697.8 849.4,689.4 849.7,698.4 850.0,690.3 850.3,695.7 850.6,691.7 850.9,697.8 851.2,683.9 851.5,697.7 851.8,683.7 852.1,700.3 852.4,690.9 852.7,698.4 853.0,691.2 853.3,695.8 853.6,688.7 853.9,697.9 854.2,689.7 854.5,695.4 854.8,688.6 855.1,698.1 855.4,691.6 855.7,696.3 856.0,690.0 856.3,695.8 856.6,691.8 857.0,696.2 857.3,692.2 857.6,701.3 857.9,691.6 858.2,697.4 858.5,690.5 858.8,698.4 859.1,688.1 859.4,696.4 859.7,691.5 860.0,696.1 860.3,691.4 860.6,697.1 860.9,690.6 861.2,696.0 861.5,689.6 861.8,698.9 862.1,690.0 862.4,696.9 862.7,690.4 863.0,697.1 863.3,689.2 863.6,696.6 863.9,689.8 864.2,696.0 864.5,690.1 864.8,695.5 865.1,691.6 865.4,695.1 865.7,690.4 866.0,716.6 866.3,691.5 866.6,699.5 866.9,691.1 867.2,697.6 867.5,690.8 867.8,695.7 868.1,691.1 868.4,695.2 868.7,690.5 869.0,696.5 869.4,689.8 869.7,703.1 870.0,691.9 870.3,697.3 870.6,689.7 870.9,695.2 871.2,689.2 871.5,696.1 871.8,689.9 872.1,695.6 872.4,686.2 872.7,697.0 873.0,688.0 873.3,696.0 873.6,691.4 873.9,699.0 874.2,689.7 874.5,697.1 874.8,691.4 875.1,701.3 875.4,691.5 875.7,696.8 876.0,692.0 876.3,699.0 876.6,689.2 876.9,696.3 877.2,691.2 877.5,695.8 877.8,689.0 878.1,698.5 878.4,690.8 878.7,703.8 879.0,689.5 879.3,697.6 879.6,684.6 879.9,696.7 880.2,689.8 880.5,696.7 880.8,672.5 881.1,695.9 881.4,690.9 881.8,696.8 882.1,689.8 882.4,695.6 882.7,690.2 883.0,695.5 883.3,687.1 883.6,701.2 883.9,689.4 884.2,696.8 884.5,686.3 884.8,696.4 885.1,688.3 885.4,696.2 885.7,689.8 886.0,694.0 886.3,689.9 886.6,693.6 886.9,688.6 887.2,694.0 887.5,687.7 887.8,693.4 888.1,688.8 888.4,693.0 888.7,688.3 889.0,698.8 889.3,688.7 889.6,693.3 889.9,688.4 890.2,696.2 890.5,687.4 890.8,695.3 891.1,687.9 891.4,693.5 891.7,678.9 892.0,694.6 892.3,687.6 892.6,694.0 892.9,685.8 893.2,693.7 893.5,688.3 893.8,692.9 894.2,687.7 894.5,692.6 894.8,687.0 895.1,692.0 895.4,687.3 895.7,692.0 896.0,687.5 896.3,694.3 896.6,688.2 896.9,692.8 897.2,688.1 897.5,693.7 897.8,687.2 898.1,697.7 898.4,687.7 898.7,692.6 899.0,687.3 899.3,697.6 899.6,687.8 899.9,693.1 900.2,684.7 900.5,691.6 900.8,684.1 901.1,691.1 901.4,686.7 901.7,693.2 902.0,686.7 902.4,693.1 902.7,684.8 903.0,691.7 903.3,681.9 903.6,691.5 903.9,685.6 904.2,692.1 904.5,683.4 904.8,692.9 905.1,683.4 905.4,689.5 905.7,685.3 906.0,689.4 906.4,685.0 906.7,689.3 907.0,683.9 907.3,693.9 907.6,683.9 907.9,693.3 908.2,685.0 908.5,688.5 908.8,681.0 909.1,689.8 909.4,682.6 909.7,687.9 910.0,680.6 910.3,692.1 910.7,681.6 911.0,693.7 911.3,683.4 911.6,689.7 911.9,682.2 912.2,692.1 912.5,682.6 912.8,689.4 913.1,678.3 913.4,687.8 913.7,681.0 914.0,690.2 914.3,683.1 914.6,687.8 914.9,683.7 915.2,692.4 915.5,683.0 915.8,689.3 916.1,684.8 916.4,689.5 916.7,682.8 917.0,688.5 917.3,684.9 917.6,688.2 917.9,683.2 918.2,689.3 918.5,682.3 918.9,689.3 919.2,684.6 919.5,688.2 919.8,683.8 920.1,690.6 920.4,682.7 920.7,688.9 921.0,682.5 921.3,688.5 921.6,681.9 921.9,688.2 922.2,679.9 922.5,691.2 922.8,684.4 923.1,690.6 923.4,684.1 923.7,690.1 924.0,679.5 924.3,688.9 924.6,680.8 924.9,689.0 925.2,683.6 925.5,692.3 925.8,682.0 926.1,693.1 926.4,684.5 926.7,688.8 927.0,683.7 927.3,693.0 927.6,683.7 927.9,692.1 928.2,680.3 928.5,691.0 928.8,683.8 929.1,693.9 929.4,684.0 929.7,688.6 930.0,682.5 930.3,689.5 930.6,683.6 930.9,690.0 931.3,683.9 931.6,692.8 931.9,680.4 932.2,689.3 932.5,683.7 932.8,689.0 933.1,681.2 933.4,691.3 933.7,679.9 934.0,689.2 934.3,684.4 934.6,690.6 934.9,683.7 935.2,690.3 935.5,683.3 935.8,694.6 936.1,684.2 936.4,690.5 936.7,682.4 937.0,689.6 937.3,685.0 937.6,693.7 937.9,684.3 938.2,689.4 938.5,682.5 938.8,687.8 939.1,682.1 939.4,689.5 939.7,682.4 940.0,688.7 940.3,681.1 940.6,687.6 940.9,683.0 941.2,687.1 941.5,681.8 941.8,687.9 942.1,683.0 942.4,696.3 942.7,679.8 943.0,687.3 943.3,679.6 943.7,686.7 944.0,682.4 944.3,690.1 944.6,682.6 944.9,692.2 945.2,682.6 945.5,689.0 945.8,679.8 946.1,687.2 946.4,682.2 946.7,693.3 947.0,680.3 947.3,688.0 947.6,679.1 947.9,688.4 948.2,678.8 948.5,686.0 948.8,680.4 949.1,687.8 949.4,682.0 949.7,688.7 950.0,682.1 950.3,689.4 950.6,682.1 950.9,686.5 951.2,678.5 951.5,686.9 951.8,681.5 952.1,689.6 952.4,679.8 952.7,690.0 953.0,678.8 953.3,685.9 953.6,680.5 953.9,686.5 954.2,678.8 954.5,685.6 954.8,681.3 955.1,688.0 955.4,679.7 955.7,687.2 956.1,678.6 956.4,686.9 956.7,680.3 957.0,686.0 957.3,680.3 957.6,684.7 957.9,679.1 958.2,687.2 958.5,680.7 958.8,684.5 959.1,678.2 959.4,684.7 959.7,680.9 960.0,687.7 960.3,680.1 960.6,687.6 960.9,680.9 961.2,685.1 961.5,680.3 961.8,686.5 962.1,677.8 962.4,687.7 962.7,679.0 963.0,685.3 963.3,675.7 963.6,688.7 963.9,678.7 964.2,685.8 964.5,678.5 964.8,687.3 965.1,674.3 965.4,684.7 965.7,679.0 966.0,685.3 966.3,676.2 966.6,684.5 966.9,677.6 967.2,686.1 967.5,677.3 967.8,687.4 968.1,677.3 968.5,685.4 968.8,680.2 969.1,686.7 969.4,678.8 969.7,687.6 970.0,678.7 970.3,684.7 970.6,679.3 970.9,686.0 971.2,678.9 971.5,685.2 971.8,677.4 972.1,684.8 972.4,674.9 972.7,684.8 973.0,680.0 973.3,685.5 973.6,678.1 973.9,684.9 974.2,676.6 974.5,684.7 974.8,677.6 975.1,685.6 975.4,676.8 975.7,684.3 976.0,678.3 976.3,691.0 976.6,678.2 976.9,684.8 977.2,674.7 977.5,684.8 977.8,677.4 978.1,684.4 978.4,677.3 978.7,684.9 979.0,679.6 979.3,685.7 979.6,676.6 979.9,686.6 980.2,679.1 980.5,683.6 980.9,678.0 981.2,686.3 981.5,680.0 981.8,685.5 982.1,677.3 982.4,689.6 982.7,678.1 983.0,684.7 983.3,672.5 983.6,685.0 983.9,676.2 984.2,685.5 984.5,678.6 984.8,683.7 985.1,679.1 985.4,685.8 985.7,677.9 986.0,684.3 986.3,679.2 986.6,688.0 986.9,679.2 987.2,685.8 987.5,675.4 987.8,684.6 988.1,675.0 988.4,690.6 988.7,678.3 989.0,685.7 989.3,676.4 989.6,683.0 989.9,677.6 990.2,690.4 990.5,676.6 990.8,685.7 991.1,678.8 991.5,683.4 991.8,678.0 992.1,687.4 992.4,676.0 992.7,684.1 993.0,678.7 993.3,685.1 993.6,671.9 993.9,686.1 994.2,678.2 994.5,683.5 994.8,676.6 995.1,683.8 995.4,675.3 995.7,682.9 996.0,677.4 996.3,685.2 996.6,677.6 996.9,681.8 997.2,677.0 997.5,685.3 997.8,675.4 998.1,682.4 998.4,677.5 998.7,681.9 999.0,676.5 999.3,681.4 999.6,677.2 999.9,683.4 1000.2,672.6 1000.6,682.1 1000.9,675.2 1001.2,682.1 1001.5,676.4 1001.8,683.2 1002.1,674.3 1002.4,680.3 1002.7,676.6 1003.0,681.3 1003.3,675.2 1003.6,682.2 1003.9,673.8 1004.2,679.7 1004.5,671.8 1004.8,680.9 1005.1,673.3 1005.4,682.6 1005.7,672.5 1006.0,681.4 1006.3,671.6 1006.6,679.8 1006.9,675.0 1007.2,680.2 1007.5,675.0 1007.8,679.6 1008.1,673.3 1008.4,682.4 1008.7,674.3 1009.0,681.7 1009.3,674.0 1009.6,680.9 1009.9,673.6 1010.2,681.9 1010.5,673.5 1010.8,683.9 1011.1,672.1 1011.4,687.8 1011.7,676.0 1012.0,680.3 1012.3,672.6 1012.6,681.2 1012.9,673.6 1013.2,680.7 1013.5,674.8 1013.8,681.8 1014.1,674.1 1014.4,682.0 1014.7,674.5 1015.0,679.7 1015.3,673.9 1015.6,681.1 1015.9,674.3 1016.2,681.5 1016.5,666.4 1016.8,682.4 1017.1,670.1 1017.4,682.9 1017.7,673.6 1018.0,679.6 1018.3,674.4 1018.6,679.4 1018.9,674.1 1019.2,679.1 1019.5,673.2 1019.8,678.9 1020.1,674.1 1020.4,685.5 1020.7,673.6 1021.0,680.6 1021.3,672.9 1021.6,679.6 1021.9,671.4 1022.2,680.1 1022.5,673.6 1022.8,680.8 1023.1,674.6 1023.4,680.8 1023.7,672.6 1024.0,681.9 1024.3,675.8 1024.6,679.8 1024.9,673.4 1025.2,680.7 1025.5,673.4 1025.8,681.8 1026.1,675.6 1026.4,683.8 1026.7,672.9 1027.0,680.7 1027.3,672.3 1027.6,679.5 1027.9,674.0 1028.2,680.0 1028.5,672.4 1028.8,680.9 1029.1,673.8 1029.4,680.2 1029.7,675.5 1030.0,680.2 1030.3,674.9 1030.6,680.1 1030.9,674.2 1031.2,683.5 1031.5,675.5 1031.8,679.5 1032.1,672.7 1032.4,682.1 1032.7,676.2 1033.0,683.2 1033.3,673.7 1033.6,680.9 1033.9,670.6 1034.2,682.0 1034.5,671.0 1034.8,680.6 1035.1,673.6 1035.4,681.2 1035.7,675.2 1036.0,679.5 1036.3,674.1 1036.6,682.9 1036.9,674.6 1037.2,680.8 1037.5,674.1 1037.8,682.9 1038.1,672.9 1038.4,679.4 1038.7,674.9 1039.0,678.5 1039.3,674.9 1039.6,679.4 1039.9,674.1 1040.2,680.2 1040.5,673.3 1040.8,682.4 1041.1,671.1 1041.4,682.1 1041.7,668.9 1042.0,680.3 1042.3,673.7 1042.6,682.4 1042.9,669.1 1043.2,684.6 1043.5,671.7 1043.8,681.9 1044.1,672.7 1044.4,678.6 1044.7,674.1 1045.0,680.4 1045.4,673.0 1045.7,680.7 1046.0,674.2 1046.3,680.5 1046.6,672.0 1046.9,678.6 1047.2,673.9 1047.5,680.5 1047.8,671.4 1048.1,678.2 1048.4,670.4 1048.7,677.2 1049.0,671.8 1049.3,678.0 1049.6,672.9 1049.9,678.1 1050.2,670.6 1050.5,677.7 1050.8,670.4 1051.1,675.8 1051.4,670.2 1051.7,676.5 1052.1,670.7 1052.4,677.8 1052.7,670.4 1053.0,677.2 1053.3,666.6 1053.6,677.9 1053.9,670.7 1054.2,675.0 1054.5,670.2 1054.8,674.3 1055.1,667.5 1055.4,676.4 1055.7,666.2 1056.0,675.6 1056.3,667.3 1056.6,674.4 1056.9,669.8 1057.2,676.3 1057.5,669.3 1057.8,674.1 1058.1,669.0 1058.4,677.7 1058.8,667.7 1059.1,675.7 1059.4,668.1 1059.7,674.3 1060.0,667.5 1060.3,672.5 1060.6,668.9 1060.9,676.4 1061.2,668.8 1061.5,675.9 1061.8,668.5 1062.1,673.5 1062.4,669.5 1062.7,677.6 1063.0,668.0 1063.3,674.0 1063.6,669.0 1063.9,673.0 1064.2,667.1 1064.5,675.3 1064.8,666.5 1065.1,675.5 1065.4,668.7 1065.7,675.5 1066.0,668.9 1066.3,676.1 1066.6,667.0 1066.9,677.5 1067.2,667.7 1067.5,676.5 1067.8,669.0 1068.1,673.9 1068.4,665.5 1068.7,678.5 1069.0,665.8 1069.3,673.7 1069.6,669.7 1069.9,673.6 1070.2,668.9 1070.5,674.2 1070.8,664.7 1071.1,673.7 1071.4,667.8 1071.7,675.9 1072.0,668.4 1072.3,674.7 1072.6,669.1 1072.9,676.3 1073.2,668.6 1073.5,677.8 1073.8,667.2 1074.1,677.2 1074.4,669.4 1074.7,677.0 1075.0,669.0 1075.3,676.0 1075.6,667.9 1075.9,675.4 1076.2,667.8 1076.5,675.5 1076.8,670.5 1077.1,675.4 1077.4,665.8 1077.7,674.0 1078.0,668.5 1078.3,674.2 1078.6,668.7 1078.9,677.4 1079.2,667.1 1079.5,676.0 1079.8,667.7 1080.1,675.0 1080.4,670.9 1080.7,675.5 1081.0,670.1 1081.3,677.6 1081.6,665.0 1081.9,676.3 1082.2,665.3 1082.5,674.1 1082.8,670.8 1083.1,675.6 1083.4,666.5 1083.7,676.9 1084.0,668.7 1084.3,677.0 1084.6,669.7 1084.9,674.6 1085.2,669.4 1085.5,675.2 1085.8,668.9 1086.1,675.8 1086.4,667.1 1086.7,675.8 1087.0,670.5 1087.3,676.8 1087.6,667.2 1087.9,674.5 1088.2,667.8 1088.5,676.7 1088.8,665.2 1089.1,675.2 1089.4,670.7 1089.7,674.7 1090.0,670.6 1090.3,675.5 1090.6,670.8 1090.9,682.7 1091.2,665.6 1091.5,674.4 1091.8,669.8 1092.1,676.3 1092.4,667.2 1092.7,678.9 1093.0,667.1 1093.3,678.9 1093.6,669.5 1093.9,674.0 1094.2,669.7 1094.5,675.6 1094.8,668.2 1095.1,675.3 1095.4,670.4 1095.7,674.5 1096.0,667.5 1096.3,675.9 1096.6,668.1 1096.9,675.3 1097.2,670.0 1097.5,675.4 1097.8,667.4 1098.1,676.2 1098.4,667.7 1098.7,674.9 1099.0,668.3 1099.3,673.9 1099.6,658.9 1099.9,673.9 1100.2,662.7 1100.5,675.8 1100.8,669.1 1101.1,674.5 1101.4,663.4 1101.7,673.7 1102.0,669.5 1102.3,677.9 1102.6,666.8 1102.9,677.6 1103.2,669.1 1103.5,674.7 1103.8,655.8 1104.1,673.2 1104.4,668.9 1104.7,674.4 1105.0,669.2 1105.3,675.5 1105.6,667.2 1105.9,674.3 1106.2,667.8 1106.5,674.7 1106.8,666.2 1107.1,672.2 1107.4,665.8 1107.7,675.5 1108.0,665.9 1108.3,674.1 1108.6,669.1 1108.9,673.8 1109.2,669.6 1109.5,672.8 1109.8,668.6 1110.1,674.1 1110.4,663.9 1110.7,672.9 1111.0,667.5 1111.3,675.3 1111.6,667.2 1111.9,673.8 1112.2,665.0 1112.5,672.7 1112.8,668.8 1113.1,672.8 1113.4,666.1 1113.7,675.1 1114.0,666.8 1114.3,677.9 1114.6,666.8 1114.9,674.4 1115.2,666.2 1115.5,672.1 1115.8,664.7 1116.1,673.5 1116.4,667.9 1116.7,672.2 1117.0,665.8 1117.3,673.9 1117.6,665.9 1117.9,672.4 1118.2,668.0 1118.5,673.6 1118.8,666.7 1119.1,673.6 1119.4,668.0 1119.7,672.3 1120.0,664.8 1120.3,676.7 1120.6,665.2 1120.9,672.5 1121.2,666.2 1121.5,674.1 1121.8,666.9 1122.1,672.3 1122.4,664.0 1122.7,672.7 1123.0,665.7 1123.3,670.6 1123.6,666.8 1123.9,672.7 1124.2,665.8 1124.5,672.6 1124.8,665.9 1125.1,674.7 1125.4,666.1 1125.7,670.6 1126.0,666.4 1126.3,671.9 1126.6,663.8 1126.9,670.3 1127.2,662.9 1127.5,671.7 1127.8,665.7 1128.1,670.6 1128.4,663.5 1128.7,670.4 1129.0,664.8 1129.3,672.2 1129.6,666.4 1129.9,673.7 1130.2,664.6 1130.5,671.4 1130.8,665.7 1131.1,670.0 1131.4,664.4 1131.7,671.4 1132.0,664.3 1132.3,670.1 1132.6,652.2 1132.9,671.1 1133.2,665.4 1133.5,670.9 1133.8,662.6 1134.1,671.9 1134.4,664.4 1134.7,669.6 1135.0,658.2 1135.3,674.6 1135.6,663.3 1135.9,670.9 1136.3,663.5 1136.6,669.0 1136.9,664.0 1137.2,668.4 1137.5,661.3 1137.8,669.6 1138.1,664.1 1138.4,671.1 1138.7,658.0 1139.0,668.9 1139.3,663.8 1139.6,672.0 1139.9,663.5 1140.2,668.1 1140.5,662.5 1140.8,668.7 1141.1,662.2 1141.4,670.2 1141.7,662.6 1142.0,679.9 1142.3,664.4 1142.6,669.3 1142.9,664.2 1143.2,670.4 1143.5,661.7 1143.8,669.4 1144.1,661.3 1144.4,669.9 1144.7,663.9 1145.0,669.2 1145.3,660.7 1145.6,667.2 1145.9,660.4 1146.2,667.5 1146.5,660.3 1146.8,665.9 1147.1,657.9 1147.5,665.6 1147.8,660.5 1148.1,665.7 1148.4,660.8 1148.7,667.3 1149.0,658.2 1149.3,669.8 1149.6,658.6 1149.9,667.1 1150.2,660.0 1150.5,669.7 1150.8,660.0 1151.1,667.4 1151.4,659.3 1151.7,664.5 1152.0,658.1 1152.3,665.1 1152.6,657.8 1152.9,666.4 1153.2,659.1 1153.5,662.8 1153.8,659.3 1154.1,663.5 1154.4,650.2 1154.8,663.4 1155.1,657.2 1155.4,664.9 1155.7,655.2 1156.0,662.5 1156.3,654.4 1156.6,663.1 1156.9,656.9 1157.2,661.9 1157.5,654.7 1157.8,664.9 1158.1,656.6 1158.4,662.8 1158.7,655.0 1159.0,661.5 1159.3,655.6 1159.6,662.9 1159.9,654.8 1160.2,664.0 1160.5,656.7 1160.8,664.0 1161.1,655.6 1161.4,664.8 1161.8,657.6 1162.1,667.0 1162.4,658.0 1162.7,663.1 1163.0,654.8 1163.3,662.5 1163.6,657.4 1163.9,662.8 1164.2,653.7 1164.5,663.6 1164.8,655.8 1165.1,662.8 1165.4,658.6 1165.7,663.7 1166.0,657.8 1166.3,666.0 1166.6,656.7 1166.9,664.3 1167.2,658.2 1167.5,663.6 1167.8,657.9 1168.1,663.5 1168.5,654.8 1168.8,666.7 1169.1,659.1 1169.4,662.4 1169.7,657.8 1170.0,663.1 1170.3,658.7 1170.6,664.9 1170.9,658.1 1171.2,662.8 1171.5,659.4 1171.8,662.8 1172.1,659.0 1172.4,665.3 1172.7,659.9 1173.0,663.7 1173.3,660.1 1173.6,666.1 1173.9,658.8 1174.2,668.8 1174.5,658.6 1174.8,665.9 1175.2,654.8 1175.5,666.9 1175.8,660.1 1176.1,668.9 1176.4,657.5 1176.7,664.6 1177.0,661.2 1177.3,667.2 1177.6,661.3 1177.9,667.7 1178.2,656.4 1178.5,667.3 1178.8,661.3 1179.1,666.6 1179.4,654.1 1179.7,664.7 1180.0,660.3 1180.3,670.1 1180.6,658.9 1180.9,664.3 1181.2,659.2 1181.6,664.0 1181.9,657.7 1182.2,664.8 1182.5,660.4 1182.8,665.0 1183.1,654.8 1183.4,666.0 1183.7,659.3 1184.0,665.8 1184.3,657.7 1184.6,663.4 1184.9,659.4 1185.2,664.2 1185.5,659.7 1185.8,665.3 1186.1,656.5 1186.4,668.6 1186.7,659.3 1187.0,664.3 1187.3,659.4 1187.6,666.4 1187.9,659.1 1188.3,663.4 1188.6,659.3 1188.9,663.4 1189.2,657.8 1189.5,664.9 1189.8,658.5 1190.1,664.7 1190.4,659.7 1190.7,665.8 1191.0,659.8 1191.3,665.4 1191.6,657.5 1191.9,664.2 1192.2,659.2 1192.5,663.3 1192.8,659.4 1193.1,665.0 1193.4,654.6 1193.7,663.3 1194.0,655.9 1194.3,669.9 1194.6,654.6 1195.0,664.9 1195.3,655.2 1195.6,666.2 1195.9,655.8 1196.2,662.0 1196.5,657.2 1196.8,666.0 1197.1,657.6 1197.4,663.1 1197.7,656.9 1198.0,668.6 1198.3,657.7 1198.6,661.5 1198.9,657.1 1199.2,662.1 1199.5,653.2 1199.8,661.5 1200.1,656.7 1200.4,661.6 1200.7,654.7 1201.0,663.1 1201.3,649.3 1201.6,661.2 1201.9,655.3 1202.2,659.5 1202.5,650.2 1202.8,663.5 1203.2,653.4 1203.5,659.0 1203.8,651.3 1204.1,658.7 1204.4,652.6 1204.7,660.5 1205.0,646.8 1205.3,660.0 1205.6,647.6 1205.9,659.4 1206.2,651.6 1206.5,660.9 1206.8,648.8 1207.1,655.6 1207.4,648.9 1207.7,654.8 1208.0,650.3 1208.3,655.6 1208.6,647.8 1208.9,658.1 1209.2,646.4 1209.5,656.9 1209.8,647.4 1210.2,655.7 1210.5,648.4 1210.8,656.2 1211.1,651.4 1211.4,655.0 1211.7,650.5 1212.0,655.7 1212.3,650.8 1212.6,655.9 1212.9,650.2 1213.2,655.9 1213.5,651.6 1213.8,658.2 1214.2,651.0 1214.5,655.6 1214.8,650.9 1215.1,656.3 1215.4,646.9 1215.7,656.5 1216.0,644.3 1216.3,658.7 1216.6,652.2 1216.9,656.6 1217.2,650.1 1217.5,658.9 1217.8,650.3 1218.1,659.4 1218.5,648.5 1218.8,657.2 1219.1,648.4 1219.4,658.6 1219.7,650.3 1220.0,659.0 1220.3,652.2 1220.6,657.7 1220.9,649.5 1221.2,660.1 1221.5,651.6 1221.8,661.3 1222.1,650.9 1222.4,660.6 1222.7,651.9 1223.0,656.2 1223.3,650.7 1223.6,657.1 1223.9,651.5 1224.2,657.1 1224.5,651.9 1224.8,657.3 1225.1,651.5 1225.4,657.7 1225.7,651.8 1226.0,655.1 1226.3,651.0 1226.6,656.7 1226.9,647.2 1227.2,655.3 1227.5,650.1 1227.8,663.9 1228.1,650.2 1228.4,654.6 1228.7,645.3 1229.0,654.3 1229.3,648.8 1229.6,655.1 1229.9,649.2 1230.2,655.6 1230.5,648.3 1230.8,656.8 1231.1,648.0 1231.4,657.5 1231.7,649.5 1232.0,653.8 1232.3,649.0 1232.6,655.2 1232.9,649.1 1233.2,656.4 1233.5,646.5 1233.8,652.9 1234.1,645.7 1234.4,654.4 1234.7,644.5 1235.0,653.8 1235.3,644.3 1235.6,654.0 1235.9,646.7 1236.2,652.9 1236.5,644.1 1236.8,653.9 1237.1,647.5 1237.4,651.0 1237.7,645.5 1238.0,651.2 1238.3,646.1 1238.6,651.6 1238.9,645.2 1239.2,656.1 1239.5,644.9 1239.8,650.8 1240.1,644.3 1240.4,653.1 1240.7,645.9 1241.0,652.4 1241.3,645.1 1241.6,650.9 1241.9,645.0 1242.2,652.0 1242.5,644.2 1242.8,652.8 1243.1,643.9 1243.4,650.9 1243.7,644.0 1244.0,650.3 1244.3,643.1 1244.6,650.0 1244.9,645.6 1245.3,652.9 1245.6,644.9 1245.9,652.8 1246.2,645.2 1246.5,650.8 1246.8,644.2 1247.1,649.0 1247.4,645.1 1247.7,648.9 1248.0,643.8 1248.3,649.7 1248.6,644.1 1248.9,648.7 1249.2,643.3 1249.5,648.9 1249.8,642.9 1250.1,653.2 1250.4,640.0 1250.7,649.6 1251.0,639.0 1251.3,648.5 1251.6,641.7 1251.9,649.1 1252.2,641.2 1252.5,647.9 1252.8,643.0 1253.1,647.7 1253.4,643.3 1253.7,655.0 1254.0,644.0 1254.3,648.8 1254.6,643.2 1254.9,648.5 1255.2,643.4 1255.5,649.5 1255.8,644.0 1256.1,651.1 1256.4,643.3 1256.7,648.5 1257.0,644.0 1257.3,651.6 1257.6,643.4 1257.9,649.7 1258.2,644.7 1258.5,651.4 1258.8,644.5 1259.1,648.2 1259.4,638.5 1259.7,649.9 1260.0,643.3 1260.3,650.8 1260.6,639.5 1260.9,649.8 1261.2,642.0 1261.5,650.6 1261.8,644.6 1262.1,651.3 1262.5,646.5 1262.8,655.4 1263.1,642.2 1263.4,655.9 1263.7,644.2 1264.0,653.4 1264.3,644.5 1264.6,653.0 1264.9,646.6 1265.2,650.9 1265.5,646.4 1265.8,659.0 1266.1,645.2 1266.4,650.3 1266.7,646.0 1267.0,652.1 1267.3,646.0 1267.6,652.2 1267.9,644.9 1268.2,653.1 1268.5,645.1 1268.8,651.9 1269.1,642.6 1269.4,662.9 1269.7,645.7 1270.0,651.7 1270.3,647.6 1270.6,651.9 1270.9,644.8 1271.2,652.5 1271.5,646.4 1271.8,654.7 1272.1,646.6 1272.4,653.4 1272.7,644.6 1273.0,653.5 1273.3,643.3 1273.6,651.5 1273.9,641.9 1274.2,653.5 1274.5,643.8 1274.8,654.6 1275.1,644.0 1275.4,651.6 1275.7,644.1 1276.0,651.7 1276.3,643.7 1276.6,654.0 1277.0,645.0 1277.3,655.4 1277.6,643.1 1277.9,652.1 1278.2,646.7 1278.5,651.6 1278.8,646.4 1279.1,652.1 1279.4,646.5 1279.7,656.3 1280.0,646.5 1280.3,650.3 1280.6,640.8 1280.9,652.1 1281.2,646.0 1281.5,651.7 1281.8,644.1 1282.1,651.7 1282.4,642.5 1282.7,660.1 1283.0,645.5 1283.3,652.7 1283.6,646.5 1283.9,652.3 1284.2,645.4 1284.5,650.5 1284.8,644.3 1285.1,651.1 1285.5,646.0 1285.8,651.6 1286.1,644.1 1286.4,652.0 1286.7,643.2 1287.0,651.3 1287.3,643.1 1287.6,649.4 1287.9,643.5 1288.2,652.7 1288.5,643.5 1288.8,649.9 1289.1,642.5 1289.4,649.5 1289.7,642.9 1290.0,651.3 1290.3,641.1 1290.6,659.2 1290.9,643.7 1291.2,648.0 1291.5,641.9 1291.8,647.8 1292.1,644.4 1292.5,650.1 1292.8,641.8 1293.1,650.0 1293.4,642.9 1293.7,650.6 1294.0,641.5 1294.3,650.0 1294.6,642.2 1294.9,651.2 1295.2,643.2 1295.5,652.3 1295.8,642.4 1296.1,647.5 1296.4,642.8 1296.7,652.6 1297.0,640.4 1297.3,648.2 1297.7,641.4 1298.0,648.4 1298.3,641.9 1298.6,649.6 1298.9,644.2 1299.2,649.0 1299.5,633.9 1299.8,650.9 1300.1,642.0 1300.4,649.3 1300.7,639.0 1301.0,651.3 1301.3,642.7 1301.6,648.7 1301.9,643.5 1302.2,655.1 1302.6,643.3 1302.9,649.8 1303.2,637.5 1303.5,647.6 1303.8,641.6 1304.1,647.9 1304.4,643.2 1304.7,650.3 1305.0,639.5" fill="none" stroke="#4d4d4d" stroke-width="1.0" stroke-linejoin="round"/>
<path d="M184.6,912 L184.5,650" stroke="#4d4d4d" stroke-width="1" fill="none"/>
<path d="M183.2,624 L183.6,652" stroke="#4d4d4d" stroke-width="2.2" fill="none"/>
<path d="M169.5,1024.9 169.8,1033.9 170.2,1018.1 170.5,1022.8 170.8,1015.9 171.1,1024.9 171.4,1015.4 171.7,1022.9 172.0,1007.6 172.3,1022.0 172.6,1013.4 172.9,1020.9 173.2,1014.4 173.5,1037.1 173.8,1014.9 174.1,1021.8 174.4,1013.9 174.8,1021.6 175.1,1015.8 175.4,1027.3 175.7,1014.0 176.0,1021.0 176.3,1012.6 176.6,1024.4 176.9,1015.4 177.2,1021.1 177.5,1012.2 177.8,1025.2 178.1,1014.4 178.4,1024.9 178.7,1014.9 179.0,1022.8 179.3,1014.2 179.6,1025.2 179.9,1014.9 180.2,1023.4 180.5,1014.5 180.8,1020.6 181.1,1012.5 181.4,1020.8 181.7,1013.6 182.0,1025.6 182.3,1014.9 182.6,1022.5 182.9,1015.5 183.2,1023.8 183.6,1012.8 183.9,1021.6 184.2,1016.0 184.5,1021.3 184.8,1015.7 185.1,1023.6 185.4,1011.2 185.7,1022.9 186.0,1015.9 186.3,1023.2 186.6,1013.0 186.9,1021.6 187.2,1014.8 187.5,1021.5 187.9,1017.5 188.3,1027.2 188.7,1007.5 189.0,1012.2 189.3,1001.5 189.6,1004.3 189.9,994.0 190.2,998.1 190.5,987.2 190.8,989.2 191.2,979.8 191.5,982.4 191.8,968.7 192.1,974.0 192.4,961.7 192.7,968.9 193.0,956.2 193.3,959.4 193.6,949.2 193.9,953.3 194.2,941.1 194.6,944.1 194.9,931.0 195.2,937.2 195.5,920.9 195.8,932.3 196.1,917.9 196.4,920.1 196.7,909.6 197.0,914.0 197.3,903.7 197.6,923.6 197.9,899.4 198.2,904.5 198.5,891.5 198.8,900.8 199.1,888.2 199.4,899.5 199.7,885.7 200.0,892.1 200.4,881.7 200.7,892.0 201.0,874.7 201.3,889.8 201.6,871.8 201.9,878.6 202.2,858.8 202.5,871.7 202.8,860.2 203.1,863.9 203.4,852.1 203.7,861.0 204.0,848.1 204.3,855.2 204.6,838.9 205.0,845.4 205.3,831.8 205.6,840.6 205.9,825.0 206.3,835.3 206.6,821.1 206.9,825.6 207.2,815.3 207.6,825.4 207.9,806.7 208.2,812.2 208.5,804.8 208.8,812.3 209.1,800.6 209.4,809.5 209.7,799.8 210.0,805.1 210.3,794.6 210.6,801.7 210.9,793.8 211.2,800.4 211.6,792.9 211.9,800.2 212.2,787.4 212.5,796.2 212.8,788.4 213.1,796.6 213.4,785.8 213.7,794.4 214.0,781.6 214.3,788.5 214.6,776.7 214.9,785.2 215.2,776.2 215.5,784.9 215.8,773.5 216.1,782.6 216.4,770.6 216.7,780.3 217.0,767.3 217.3,782.6 217.6,769.7 218.0,777.0 218.3,766.7 218.6,777.3 218.9,764.9 219.2,771.1 219.5,761.2 219.8,766.4 220.1,757.8 220.4,763.8 220.7,751.0 221.0,762.2 221.3,755.4 221.6,762.8 221.9,751.5 222.2,758.0 222.5,750.8 222.8,757.5 223.1,750.9 223.4,755.4 223.7,747.8 224.0,755.7 224.3,745.5 224.6,752.4 224.9,745.3 225.2,755.2 225.5,744.6 225.8,751.7 226.1,732.4 226.4,752.9 226.7,737.4 227.0,747.6 227.3,740.2 227.6,745.7 227.9,732.4 228.2,743.4 228.5,736.1 228.8,747.0 229.1,734.1 229.4,744.3 229.7,732.3 230.0,740.7 230.3,733.9 230.6,738.1 230.9,727.8 231.2,736.8 231.5,724.2 231.8,736.4 232.1,728.8 232.4,734.9 232.7,724.2 233.0,732.9 233.3,720.9 233.6,732.4 233.9,721.0 234.2,730.1 234.5,716.0 234.8,732.8 235.1,717.5 235.4,729.1 235.7,718.3 236.0,726.2 236.3,712.3 236.6,723.9 236.9,717.0 237.2,724.4 237.5,708.3 237.8,724.6 238.1,715.9 238.4,722.5 238.7,710.6 239.0,722.0 239.3,712.4 239.6,720.3 239.9,714.2 240.2,719.2 240.5,713.7 240.8,719.8 241.1,710.4 241.4,719.6 241.7,709.7 242.0,718.7 242.3,699.5 242.6,721.0 242.9,708.9 243.2,719.9 243.5,707.9 243.8,716.0 244.1,705.5 244.4,714.9 244.7,703.1 245.0,715.9 245.3,708.6 245.6,717.8 245.9,706.9 246.2,720.9 246.5,702.2 246.8,718.3 247.1,708.6 247.4,717.1 247.7,710.3 248.0,716.7 248.3,710.3 248.6,720.2 248.9,710.3 249.2,718.4 249.5,709.2 249.8,720.3 250.1,705.2 250.4,719.3 250.7,710.3 251.0,718.5 251.3,709.8 251.6,717.1 251.9,705.7 252.2,722.6 252.6,711.6 252.9,718.1 253.2,708.5 253.5,718.8 253.8,711.8 254.1,720.8 254.4,707.6 254.7,718.2 255.0,706.5 255.3,717.8 255.6,707.4 255.9,718.1 256.2,704.1 256.5,717.2 256.8,710.0 257.1,722.4 257.4,706.8 257.7,723.8 258.0,712.3 258.3,718.1 258.6,707.6 258.9,718.3 259.2,698.3 259.5,719.4 259.8,713.2 260.1,723.4 260.4,712.7 260.7,721.0 261.0,710.6 261.3,724.5 261.6,713.3 261.9,720.4 262.2,709.4 262.5,721.8 262.8,713.7 263.1,718.8 263.4,711.0 263.7,720.5 264.0,713.2 264.3,720.9 264.6,715.0 264.9,722.3 265.2,711.4 265.5,724.9 265.8,715.0 266.1,720.0 266.4,710.3 266.7,721.1 267.0,713.4 267.3,723.8 267.6,710.1 267.9,737.0 268.2,714.1 268.5,728.9 268.8,716.2 269.1,720.9 269.4,712.1 269.7,720.9 270.0,715.1 270.3,723.5 270.6,712.7 270.9,724.9 271.2,713.1 271.5,722.8 271.8,710.7 272.1,722.4 272.4,714.1 272.7,722.2 273.0,715.5 273.3,728.6 273.6,713.2 273.9,723.7 274.2,716.9 274.5,726.7 274.8,715.1 275.1,725.2 275.4,718.7 275.7,723.7 276.0,715.8 276.3,724.6 276.7,717.4 277.0,724.4 277.3,716.2 277.6,729.2 277.9,716.0 278.2,727.7 278.5,718.8 278.8,726.2 279.1,719.4 279.4,725.4 279.7,716.9 280.0,724.4 280.3,718.3 280.6,727.9 280.9,719.7 281.2,725.4 281.5,718.3 281.8,731.1 282.1,719.7 282.4,725.8 282.7,717.9 283.0,728.6 283.3,720.4 283.6,724.7 283.9,720.5 284.2,733.6 284.5,717.9 284.8,730.2 285.1,717.1 285.4,725.8 285.7,719.1 286.0,732.4 286.3,720.3 286.6,728.4 286.9,721.4 287.2,731.7 287.5,721.3 287.8,726.3 288.1,715.9 288.4,731.8 288.7,714.7 289.0,733.1 289.3,718.9 289.6,729.5 289.9,719.6 290.2,725.3 290.5,720.4 290.8,727.5 291.1,719.5 291.4,730.8 291.7,721.1 292.0,726.0 292.3,716.3 292.6,727.4 292.9,716.6 293.2,726.7 293.5,717.2 293.8,726.5 294.1,718.4 294.4,725.8 294.7,714.8 295.0,728.8 295.3,719.4 295.6,730.0 295.9,717.6 296.2,736.0 296.5,715.1 296.8,727.4 297.1,721.4 297.4,726.4 297.7,720.9 298.0,726.4 298.3,719.8 298.6,727.1 298.9,721.6 299.2,728.2 299.5,716.4 299.8,730.8 300.1,722.4 300.4,728.3 300.7,717.1 301.0,730.0 301.3,720.6 301.6,729.5 301.9,721.5 302.2,728.4 302.5,720.0 302.8,727.9 303.1,720.5 303.4,729.2 303.7,722.5 304.0,727.7 304.3,718.0 304.6,731.6 304.9,721.0 305.2,731.5 305.5,718.6 305.8,727.9 306.1,720.6 306.4,732.4 306.7,722.0 307.0,727.6 307.3,722.0 307.7,729.1 308.0,715.3 308.3,730.9 308.6,719.5 308.9,731.5 309.2,723.1 309.5,728.5 309.8,716.0 310.1,729.0 310.4,723.5 310.7,731.9 311.0,721.1 311.3,728.3 311.6,720.4 311.9,731.6 312.2,722.2 312.5,728.4 312.8,719.7 313.1,727.9 313.4,721.8 313.7,729.9 314.0,723.4 314.3,729.5 314.6,719.1 314.9,731.1 315.2,721.3 315.5,733.1 315.8,720.2 316.1,730.4 316.4,720.9 316.7,730.5 317.0,720.7 317.3,728.6 317.6,724.4 317.9,733.8 318.2,722.1 318.5,739.8 318.8,722.6 319.1,737.5 319.4,722.6 319.7,732.1 320.0,722.7 320.3,731.7 320.6,721.8 320.9,730.3 321.2,724.6 321.5,731.7 321.8,720.2 322.1,731.5 322.4,723.8 322.7,733.1 323.0,723.4 323.3,731.6 323.6,726.0 323.9,730.2 324.2,722.4 324.5,730.1 324.8,720.2 325.1,732.8 325.4,724.1 325.7,732.2 326.0,716.7 326.3,733.9 326.6,724.4 326.9,733.8 327.2,720.0 327.5,736.9 327.8,724.6 328.1,729.7 328.5,721.9 328.8,730.0 329.1,717.8 329.4,731.5 329.7,722.6 330.0,731.7 330.3,724.9 330.6,732.8 330.9,721.5 331.2,737.5 331.5,724.6 331.8,735.6 332.1,723.6 332.4,735.3 332.7,719.3 333.0,732.1 333.3,723.4 333.6,731.4 333.9,723.7 334.2,732.4 334.5,722.4 334.8,732.2 335.1,721.5 335.4,730.6 335.7,723.3 336.0,731.1 336.3,725.6 336.6,730.7 336.9,724.5 337.2,733.7 337.5,725.2 337.8,732.9 338.1,721.6 338.4,730.8 338.8,723.6 339.1,731.1 339.4,722.2 339.7,739.0 340.0,724.8 340.3,731.3 340.6,721.5 340.9,730.5 341.2,724.3 341.5,730.2 341.8,721.8 342.1,735.8 342.4,719.5 342.7,731.2 343.0,725.0 343.3,737.5 343.6,723.7 343.9,731.0 344.2,724.6 344.5,729.8 344.8,718.6 345.1,731.5 345.4,724.6 345.7,731.3 346.0,722.9 346.3,733.9 346.6,724.1 346.9,730.3 347.2,723.5 347.5,729.2 347.8,721.7 348.1,734.4 348.4,716.6 348.8,729.5 349.1,717.8 349.4,735.6 349.7,720.5 350.0,732.8 350.3,723.5 350.6,734.3 350.9,720.3 351.2,729.0 351.5,723.1 351.8,736.5 352.1,722.7 352.4,732.1 352.7,723.3 353.0,730.7 353.3,715.7 353.6,730.3 353.9,722.3 354.2,731.4 354.5,725.0 354.8,729.9 355.1,724.8 355.4,733.6 355.7,725.4 356.0,735.5 356.3,723.4 356.6,729.6 356.9,722.3 357.2,732.9 357.5,722.8 357.8,730.3 358.1,723.6 358.4,734.0 358.7,721.3 359.0,734.5 359.3,723.6 359.6,730.3 359.9,725.0 360.2,731.0 360.5,723.4 360.8,733.0 361.1,721.8 361.4,730.2 361.7,718.2 362.0,728.5 362.3,723.9 362.6,728.6 362.9,723.8 363.2,728.4 363.5,720.7 363.8,731.4 364.1,722.4 364.4,729.0 364.7,716.0 365.0,731.8 365.3,723.4 365.6,730.7 365.9,723.6 366.2,730.3 366.5,721.4 366.8,730.7 367.1,723.1 367.4,729.5 367.7,718.9 368.0,730.6 368.3,722.7 368.6,731.5 368.9,719.9 369.2,732.4 369.5,722.6 369.8,735.9 370.1,719.3 370.4,730.8 370.7,722.7 371.0,727.8 371.3,721.1 371.6,730.4 371.9,717.8 372.2,728.7 372.5,723.2 372.8,730.2 373.1,723.6 373.4,729.0 373.7,722.6 374.0,733.3 374.3,719.8 374.6,731.2 374.9,719.3 375.2,730.9 375.5,719.4 375.8,734.4 376.1,723.2 376.4,732.6 376.7,719.8 377.0,730.0 377.3,722.5 377.6,730.0 377.9,723.7 378.2,729.7 378.5,723.6 378.8,730.0 379.1,719.8 379.4,729.8 379.7,723.2 380.0,732.5 380.3,721.3 380.6,730.0 380.9,723.1 381.2,731.2 381.5,721.8 381.8,730.5 382.1,717.2 382.4,728.6 382.7,717.0 383.0,726.9 383.3,717.2 383.6,727.0 383.9,721.4 384.2,727.4 384.5,722.5 384.8,733.9 385.1,718.5 385.4,730.0 385.7,721.4 386.0,726.8 386.3,715.9 386.6,727.3 386.9,719.1 387.2,727.7 387.5,718.5 387.8,730.5 388.1,722.1 388.4,729.0 388.7,720.4 389.0,728.5 389.3,720.6 389.6,731.5 389.9,718.9 390.2,727.7 390.5,719.9 390.8,727.8 391.1,721.7 391.4,727.3 391.7,718.9 392.0,728.9 392.3,721.2 392.6,728.2 392.9,718.7 393.2,728.9 393.5,720.2 393.8,727.8 394.1,718.3 394.4,731.4 394.7,721.3 395.0,732.3 395.3,718.8 395.6,730.5 395.9,718.9 396.2,729.8 396.5,719.5 396.8,728.4 397.1,721.6 397.4,729.8 397.7,717.9 398.0,728.6 398.3,719.8 398.6,726.0 398.9,720.8 399.2,729.4 399.5,720.5 399.8,725.8 400.1,720.4 400.5,725.6 400.8,720.8 401.1,728.7 401.4,718.1 401.7,728.7 402.0,720.6 402.3,729.5 402.6,717.8 402.9,729.4 403.2,720.7 403.5,730.5 403.8,718.9 404.1,726.6 404.4,717.8 404.7,728.2 405.0,720.4 405.3,725.0 405.6,715.8 405.9,724.6 406.2,719.7 406.5,732.3 406.8,716.6 407.1,727.0 407.4,717.5 407.7,727.1 408.0,706.7 408.3,730.2 408.6,713.8 408.9,726.0 409.2,713.1 409.5,724.4 409.8,717.7 410.1,725.9 410.4,719.6 410.7,726.7 411.0,717.5 411.3,724.4 411.6,712.9 411.9,728.8 412.2,718.9 412.5,728.8 412.8,719.1 413.1,725.5 413.4,718.3 413.7,724.8 414.0,719.3 414.3,726.2 414.6,719.7 414.9,728.2 415.2,714.8 415.5,728.6 415.8,718.1 416.1,728.6 416.4,714.9 416.7,729.3 417.0,716.2 417.3,728.5 417.6,717.9 417.9,727.4 418.2,717.0 418.5,726.5 418.8,718.9 419.1,729.4 419.4,717.0 419.7,724.6 420.0,719.9 420.3,730.9 420.6,716.6 420.9,726.4 421.2,719.5 421.5,724.6 421.8,712.0 422.1,728.5 422.4,718.9 422.7,724.6 423.0,716.8 423.3,724.9 423.6,717.6 423.9,726.1 424.2,718.6 424.5,723.9 424.8,718.4 425.1,726.7 425.4,719.5 425.7,726.2 426.0,719.2 426.3,725.6 426.6,710.7 426.9,726.0 427.2,717.4 427.5,723.8 427.8,716.1 428.1,724.8 428.4,716.2 428.7,724.6 429.0,712.2 429.3,727.6 429.6,714.0 429.9,724.1 430.2,719.1 430.5,730.0 430.8,716.7 431.1,724.6 431.5,717.1 431.8,723.4 432.1,713.5 432.4,725.0 432.7,712.8 433.0,727.5 433.3,717.6 433.6,722.5 433.9,717.0 434.2,725.7 434.5,716.5 434.8,728.1 435.1,717.0 435.4,726.3 435.7,716.1 436.0,722.3 436.3,714.5 436.6,723.1 436.9,717.2 437.2,723.0 437.5,712.7 437.8,721.1 438.1,715.8 438.4,723.3 438.7,716.4 439.0,722.0 439.3,713.2 439.6,722.0 439.9,713.8 440.2,725.3 440.5,714.4 440.8,721.8 441.1,709.9 441.4,721.7 441.7,714.9 442.0,722.1 442.3,715.4 442.6,725.2 442.9,715.3 443.2,722.9 443.5,714.9 443.8,720.6 444.1,712.7 444.4,724.2 444.7,713.3 445.0,719.9 445.3,710.9 445.6,723.0 445.9,709.5 446.2,722.2 446.5,711.3 446.8,721.7 447.1,713.2 447.4,721.2 447.7,712.7 448.0,721.3 448.3,709.4 448.6,720.5 448.9,710.0 449.2,721.1 449.5,714.6 449.8,721.4 450.1,714.6 450.4,722.3 450.7,710.4 451.0,721.5 451.3,712.1 451.6,721.8 451.9,712.8 452.3,719.4 452.6,709.3 452.9,722.6 453.2,714.0 453.5,719.3 453.8,714.7 454.1,720.6 454.4,713.0 454.7,722.1 455.0,713.1 455.3,719.7 455.6,713.4 455.9,722.5 456.2,710.1 456.5,721.0 456.8,714.8 457.1,726.9 457.4,714.7 457.7,722.7 458.0,712.8 458.3,725.9 458.6,715.0 458.9,721.7 459.2,715.2 459.5,722.4 459.8,712.7 460.1,722.1 460.4,711.4 460.7,720.8 461.0,715.6 461.3,720.2 461.6,714.4 461.9,720.0 462.2,715.8 462.6,722.0 462.9,713.3 463.2,724.9 463.5,715.4 463.8,724.4 464.1,713.3 464.4,721.1 464.7,713.2 465.0,723.8 465.3,714.7 465.6,721.2 465.9,715.1 466.2,724.0 466.5,715.5 466.8,726.1 467.1,715.3 467.4,723.6 467.7,711.3 468.0,720.7 468.3,715.8 468.6,722.3 468.9,715.5 469.2,725.5 469.5,714.0 469.8,724.9 470.1,714.1 470.4,721.6 470.7,714.5 471.0,720.7 471.3,714.4 471.6,720.9 471.9,714.3 472.2,725.3 472.6,712.8 472.9,724.8 473.2,714.3 473.5,720.3 473.8,711.2 474.1,720.0 474.4,711.8 474.7,722.4 475.0,715.3 475.3,723.5 475.6,714.7 475.9,722.6 476.2,713.0 476.5,722.2 476.8,713.7 477.1,722.2 477.4,714.2 477.7,723.1 478.0,714.2 478.3,720.1 478.6,713.7 478.9,721.2 479.2,711.6 479.5,721.3 479.8,714.9 480.1,722.0 480.4,712.1 480.7,720.9 481.0,711.2 481.3,720.7 481.6,711.9 481.9,720.2 482.2,711.2 482.5,721.6 482.8,712.9 483.1,724.5 483.4,714.1 483.7,719.0 484.0,707.3 484.3,720.4 484.6,712.6 484.9,719.6 485.2,709.2 485.5,721.8 485.8,709.7 486.1,723.8 486.4,705.1 486.7,724.0 487.0,712.7 487.3,726.8 487.6,711.9 487.9,718.0 488.2,709.5 488.5,720.2 488.8,713.0 489.1,718.0 489.4,712.8 489.7,719.3 490.0,711.4 490.3,721.1 490.6,709.9 490.9,721.1 491.2,711.4 491.5,718.4 491.8,710.1 492.1,720.8 492.4,711.7 492.7,720.2 493.0,711.6 493.4,718.9 493.7,710.7 494.0,719.6 494.3,711.0 494.6,718.7 494.9,713.2 495.2,720.4 495.5,713.7 495.8,721.6 496.1,712.5 496.4,719.4 496.7,711.2 497.0,720.1 497.3,708.5 497.6,718.6 497.9,712.2 498.2,717.5 498.5,710.5 498.8,718.8 499.1,707.9 499.4,718.7 499.7,708.3 500.0,721.1 500.3,706.0 500.6,717.7 500.9,713.3 501.2,721.4 501.5,712.2 501.8,718.5 502.1,710.4 502.4,718.8 502.7,704.4 503.0,718.7 503.3,713.0 503.6,717.8 503.9,713.1 504.2,718.4 504.5,710.5 504.8,719.6 505.1,713.7 505.4,718.6 505.7,710.6 506.0,720.7 506.3,710.2 506.6,718.4 506.9,711.8 507.2,724.9 507.5,714.8 507.8,724.3 508.1,712.2 508.4,720.3 508.7,711.2 509.0,721.5 509.3,713.4 509.6,720.9 509.9,710.2 510.2,722.8 510.5,714.5 510.8,719.6 511.1,713.6 511.4,720.4 511.7,714.7 512.0,721.2 512.3,714.8 512.6,726.6 512.9,712.8 513.2,720.8 513.5,712.3 513.8,724.7 514.1,712.0 514.4,728.0 514.7,710.7 515.0,721.0 515.3,710.7 515.6,720.1 515.9,713.2 516.2,722.6 516.5,713.2 516.8,725.9 517.1,710.7 517.4,719.4 517.7,714.0 518.0,721.7 518.3,714.7 518.6,720.0 518.9,712.8 519.2,723.1 519.5,709.5 519.8,720.2 520.1,712.9 520.4,720.6 520.7,705.0 521.0,725.0 521.3,712.0 521.6,720.6 521.9,712.6 522.2,720.2 522.5,712.1 522.8,721.9 523.1,714.8 523.4,721.2 523.7,711.6 524.0,719.5 524.4,712.0 524.7,723.4 525.0,711.9 525.3,725.3 525.6,710.4 525.9,719.4 526.2,711.4 526.5,721.8 526.8,715.2 527.1,723.9 527.4,713.2 527.7,725.1 528.0,713.1 528.3,720.2 528.6,712.6 528.9,724.0 529.2,713.1 529.5,722.8 529.8,713.0 530.1,719.9 530.4,713.2 530.7,722.2 531.0,711.6 531.3,727.1 531.6,713.6 531.9,718.9 532.2,712.6 532.5,720.7 532.8,714.1 533.1,720.2 533.4,712.3 533.7,720.2 534.0,710.2 534.3,721.1 534.6,696.7 534.9,721.3 535.2,707.2 535.5,718.5 535.8,712.7 536.1,718.9 536.4,706.4 536.7,720.4 537.0,712.9 537.3,720.9 537.6,706.5 537.9,723.7 538.2,707.1 538.5,717.9 538.8,709.5 539.1,718.7 539.4,708.7 539.7,721.9 540.0,708.4 540.3,719.3 540.6,707.6 540.9,719.4 541.2,710.8 541.5,719.0 541.8,712.4 542.1,719.8 542.4,710.0 542.7,720.1 543.0,711.2 543.3,719.2 543.6,711.8 543.9,719.9 544.2,713.7 544.5,718.0 544.9,712.8 545.2,719.7 545.5,710.9 545.8,723.6 546.1,713.2 546.4,719.4 546.7,711.4 547.0,719.4 547.3,710.7 547.6,718.2 547.9,707.4 548.2,721.1 548.5,710.4 548.8,719.7 549.1,709.1 549.4,721.2 549.7,712.7 550.0,718.8 550.3,710.7 550.6,718.3 550.9,711.0 551.2,719.1 551.5,709.6 551.8,717.8 552.1,713.2 552.4,718.8 552.7,706.9 553.0,722.5 553.3,710.8 553.6,718.2 553.9,713.0 554.2,718.0 554.5,707.4 554.8,719.5 555.2,711.6 555.5,718.9 555.8,711.1 556.1,719.5 556.4,711.6 556.7,718.0 557.0,711.8 557.3,722.3 557.6,711.3 557.9,724.2 558.2,711.4 558.5,719.9 558.8,713.2 559.1,719.1 559.4,705.7 559.7,719.2 560.0,710.1 560.3,719.3 560.6,712.3 560.9,719.4 561.2,712.4 561.5,718.4 561.8,710.7 562.1,717.9 562.4,713.5 562.7,721.1 563.0,713.6 563.3,721.1 563.6,711.2 563.9,720.4 564.2,713.0 564.5,723.1 564.8,712.2 565.1,721.2 565.5,709.0 565.8,717.9 566.1,712.2 566.4,723.0 566.7,710.0 567.0,718.3 567.3,709.6 567.6,721.3 567.9,712.3 568.2,718.3 568.5,712.9 568.8,719.4 569.1,711.7 569.4,719.8 569.7,712.5 570.0,725.7 570.3,712.7 570.6,717.6 570.9,712.2 571.2,717.3 571.5,711.0 571.8,717.6 572.1,707.5 572.4,716.8 572.7,711.7 573.0,717.4 573.3,712.0 573.6,720.7 573.9,708.3 574.2,718.9 574.5,710.0 574.8,718.8 575.1,711.0 575.5,716.1 575.8,705.7 576.1,717.7 576.4,701.0 576.7,718.4 577.0,707.3 577.3,717.9 577.6,708.5 577.9,716.0 578.2,710.5 578.5,717.8 578.8,706.2 579.1,715.8 579.4,711.0 579.7,717.7 580.0,708.5 580.3,716.7 580.6,710.1 580.9,715.7 581.2,708.2 581.5,714.3 581.8,709.3 582.1,714.1 582.4,705.3 582.7,714.7 583.0,707.4 583.3,713.2 583.6,705.4 583.9,715.4 584.2,706.5 584.5,712.4 584.8,707.0 585.1,713.0 585.4,706.3 585.7,712.7 586.0,704.9 586.3,714.7 586.6,707.2 586.9,716.9 587.2,706.0 587.5,712.7 587.8,705.4 588.1,713.3 588.4,705.1 588.7,714.3 589.0,699.8 589.3,718.1 589.7,705.4 590.0,712.4 590.3,707.2 590.6,714.0 590.9,705.0 591.2,714.4 591.5,707.4 591.8,714.9 592.1,704.8 592.4,716.9 592.7,705.1 593.0,714.7 593.3,699.9 593.6,715.2 593.9,704.8 594.2,712.9 594.5,707.1 594.8,712.6 595.1,708.3 595.4,715.2 595.7,706.9 596.0,714.0 596.3,707.0 596.7,717.2 597.0,708.4 597.3,713.4 597.6,707.1 597.9,716.3 598.2,707.5 598.5,713.1 598.8,704.9 599.1,714.4 599.4,708.6 599.7,712.9 600.0,706.9 600.3,714.0 600.6,708.7 600.9,720.3 601.2,707.8 601.5,715.6 601.8,708.5 602.1,714.2 602.4,702.7 602.7,714.9 603.0,708.7 603.3,713.5 603.6,709.2 603.9,714.5 604.2,708.3 604.6,717.5 604.9,706.0 605.2,714.8 605.5,707.8 605.8,719.9 606.1,707.4 606.4,714.3 606.7,706.8 607.0,719.3 607.3,701.9 607.6,713.9 607.9,703.5 608.2,720.2 608.5,708.2 608.8,713.1 609.1,704.9 609.4,716.0 609.7,706.8 610.0,714.0 610.3,707.8 610.6,718.9 610.9,707.7 611.2,715.9 611.5,709.4 611.8,719.6 612.1,708.7 612.4,716.2 612.8,709.0 613.1,713.9 613.4,709.1 613.7,717.5 614.0,701.9 614.3,718.8 614.6,707.7 614.9,714.3 615.2,708.4 615.5,715.9 615.8,705.4 616.1,716.6 616.4,709.0 616.7,721.5 617.0,709.1 617.3,714.5 617.6,707.6 617.9,713.7 618.2,705.3 618.5,713.9 618.8,706.8 619.1,716.0 619.4,703.5 619.7,715.0 620.0,706.5 620.3,715.2 620.6,709.6 620.9,716.7 621.3,706.6 621.6,719.9 621.9,708.3 622.2,716.5 622.5,708.4 622.8,716.4 623.1,710.0 623.4,714.9 623.7,709.3 624.0,717.2 624.3,708.5 624.6,720.3 624.9,708.7 625.2,716.0 625.5,705.9 625.8,716.0 626.1,708.9 626.4,717.0 626.7,710.3 627.0,716.4 627.3,704.2 627.6,722.4 627.9,710.2 628.2,729.8 628.5,707.5 628.8,716.8 629.1,705.8 629.5,715.9 629.8,704.5 630.1,714.9 630.4,707.1 630.7,714.6 631.0,701.9 631.3,716.5 631.6,697.9 631.9,716.9 632.2,706.6 632.5,714.7 632.8,709.5 633.1,715.1 633.4,709.1 633.7,720.6 634.0,710.5 634.3,716.0 634.6,707.3 634.9,717.5 635.2,711.6 635.5,716.2 635.8,710.2 636.1,715.8 636.4,702.1 636.7,715.6 637.0,707.1 637.3,718.1 637.6,704.2 638.0,717.9 638.3,710.3 638.6,717.9 638.9,708.5 639.2,717.5 639.5,710.2 639.8,719.7 640.1,708.0 640.4,717.7 640.7,712.2 641.0,717.4 641.3,712.6 641.6,718.4 641.9,708.4 642.2,721.7 642.5,710.6 642.8,718.8 643.1,712.3 643.4,723.5 643.7,714.3 644.0,723.9 644.3,714.6 644.6,723.3" fill="none" stroke="#f0383c" stroke-width="1.0" stroke-linejoin="round"/>
<path d="M644.6,722 L645.4,735 L647.5,780 L648.2,900 L649,1005" stroke="#f0383c" stroke-width="1.1" fill="none"/>
<path d="M169.5,1007.5 169.8,1016.5 170.1,1005.0 170.4,1015.4 170.7,1006.5 171.0,1013.9 171.3,995.4 171.6,1013.9 171.9,1003.2 172.2,1011.9 172.5,997.0 172.8,1009.6 173.1,1000.3 173.4,1007.2 173.7,995.3 174.0,1004.6 174.3,996.7 174.6,1005.7 174.9,995.1 175.2,1003.4 175.5,989.2 175.8,1001.2 176.1,992.8 176.4,999.6 176.7,987.9 177.0,998.2 177.4,984.3 177.8,995.0 178.2,983.8 178.5,993.3 178.8,982.8 179.1,990.2 179.4,983.5 179.7,989.8 180.0,984.6 180.3,994.6 180.6,984.5 180.9,996.4 181.2,978.6 181.5,992.3 181.8,983.1 182.1,989.7 182.4,979.4 182.7,991.8 183.0,984.5 183.3,996.0 183.6,982.6 183.9,994.3 184.2,981.0 184.5,993.6 184.8,983.9 185.1,990.4 185.4,983.5 185.7,989.9 186.0,984.7 186.3,993.6 186.6,982.9 186.9,994.7 187.2,979.8 187.5,993.9 187.8,983.7 188.1,991.1 188.4,979.5 188.7,993.2 189.0,982.9 189.3,993.6 189.6,981.4 189.9,985.8 190.2,978.7 190.5,984.8 190.8,975.6 191.1,979.8 191.4,968.0 191.7,978.6 192.0,959.5 192.3,976.4 192.6,967.8 192.9,977.3 193.2,962.3 193.5,970.6 193.8,959.7 194.0,970.4 194.2,955.5 194.5,964.1 194.8,957.1 195.1,968.8 195.4,956.9 195.7,966.2 196.0,956.4 196.3,965.9 196.6,954.2 197.0,964.4 197.3,956.7 197.6,963.6 197.9,955.2 198.2,965.1 198.5,954.9 198.8,968.0 199.1,954.5 199.4,967.5 199.7,957.0 200.0,963.1 200.3,955.6 200.6,964.9 200.9,954.0 201.2,964.2 201.5,957.3 201.8,965.1 202.1,956.8 202.5,963.0 202.8,954.6 203.1,965.7 203.4,951.8 203.7,968.3 204.0,953.4 204.3,964.1 204.6,953.5 204.9,969.2 205.3,945.2 205.7,951.2 206.0,937.8 206.3,945.2 206.6,931.3 206.9,938.2 207.2,927.7 207.5,935.4 207.8,917.4 208.1,926.4 208.4,913.0 208.7,923.6 209.0,911.4 209.3,919.0 209.6,903.1 209.9,910.1 210.2,885.7 210.5,906.2 210.8,893.2 211.1,899.3 211.4,882.7 211.7,886.7 212.0,867.6 212.3,880.1 212.6,861.2 212.9,874.2 213.3,865.4 213.6,879.9 213.9,861.0 214.2,865.1 214.5,852.6 214.8,864.8 215.1,849.1 215.4,856.3 215.7,836.8 216.0,850.3 216.3,838.9 216.6,846.6 216.9,825.9 217.2,837.6 217.5,824.3 217.8,833.2 218.1,819.9 218.4,825.3 218.7,814.0 219.0,818.7 219.3,803.4 219.7,813.2 220.0,799.5 220.3,803.8 220.6,790.6 220.9,795.8 221.2,780.8 221.6,787.3 221.9,773.8 222.2,778.3 222.5,766.8 222.8,776.2 223.1,757.4 223.4,769.6 223.8,751.7 224.1,756.6 224.4,745.5 224.7,747.4 225.0,735.6 225.3,743.5 225.6,735.8 225.9,742.5 226.2,731.6 226.5,737.1 226.8,720.0 227.2,738.7 227.5,723.7 227.8,734.2 228.1,722.2 228.4,730.6 228.7,718.9 229.0,726.4 229.3,710.9 229.6,721.3 229.9,704.5 230.2,717.5 230.5,706.2 230.8,713.1 231.1,700.0 231.5,709.2 231.8,697.9 232.1,711.1 232.4,697.3 232.7,700.8 233.0,691.6 233.3,698.7 233.6,686.7 233.9,699.1 234.2,684.1 234.5,697.6 234.8,682.4 235.1,692.9 235.4,682.2 235.7,692.2 236.0,682.1 236.3,686.6 236.6,675.9 236.9,685.7 237.2,677.8 237.6,682.8 237.9,674.5 238.2,683.4 238.5,669.4 238.8,684.2 239.1,667.0 239.4,680.9 239.7,668.7 240.0,677.2 240.3,665.4 240.6,672.9 240.9,666.0 241.2,674.1 241.5,660.4 241.8,672.1 242.1,664.4 242.4,670.4 242.8,664.4 243.1,670.6 243.4,662.8 243.7,672.1 244.0,664.4 244.3,672.9 244.6,660.5 244.9,671.0 245.2,663.1 245.5,671.7 245.8,663.7 246.1,676.8 246.4,660.2 246.7,672.1 247.0,658.1 247.3,672.5 247.6,664.2 247.9,672.3 248.2,666.4 248.6,674.8 248.9,666.5 249.2,674.6 249.5,666.0 249.8,679.0 250.1,665.0 250.4,674.3 250.7,661.8 251.0,674.5 251.3,658.8 251.6,675.3 251.9,668.0 252.2,679.0 252.5,668.2 252.8,677.8 253.1,666.5 253.4,677.6 253.7,668.4 254.0,679.7 254.3,665.9 254.6,679.5 254.9,667.4 255.2,680.2 255.5,668.7 255.8,681.7 256.1,665.7 256.4,678.3 256.8,669.2 257.1,676.0 257.4,666.7 257.7,679.2 258.0,670.4 258.3,678.9 258.6,669.5 258.9,676.7 259.2,671.0 259.5,679.1 259.8,668.8 260.1,678.0 260.4,671.7 260.7,683.2 261.0,670.8 261.3,679.5 261.6,660.7 261.9,678.7 262.2,668.7 262.5,678.2 262.8,671.8 263.1,682.5 263.4,663.9 263.7,678.9 264.0,666.9 264.3,677.6 264.6,669.1 264.9,678.1 265.2,669.9 265.5,680.1 265.8,669.0 266.1,677.9 266.4,667.7 266.7,683.1 267.0,672.5 267.3,685.0 267.6,672.2 267.9,682.1 268.2,672.0 268.5,684.8 268.8,671.4 269.1,679.2 269.4,671.2 269.7,681.7 270.0,655.6 270.3,679.8 270.6,672.0 270.9,678.4 271.2,669.3 271.5,681.1 271.8,670.1 272.1,679.8 272.4,672.2 272.7,682.7 273.0,672.1 273.3,678.7 273.6,670.8 273.9,682.1 274.2,671.6 274.5,681.5 274.8,667.6 275.1,685.3 275.4,669.7 275.7,679.1 276.0,671.5 276.3,679.2 276.7,670.6 277.0,681.3 277.3,672.4 277.6,679.3 277.9,671.7 278.2,680.3 278.5,667.2 278.8,682.1 279.1,667.8 279.4,681.9 279.7,672.9 280.0,683.8 280.3,671.2 280.6,683.1 280.9,673.8 281.2,684.0 281.5,671.0 281.8,682.5 282.1,672.1 282.4,684.2 282.7,674.7 283.0,685.4 283.3,674.1 283.6,681.2 283.9,670.4 284.2,681.1 284.5,671.1 284.8,686.8 285.1,671.2 285.4,682.2 285.7,671.8 286.0,682.3 286.3,674.7 286.6,685.1 286.9,675.7 287.2,689.2 287.5,673.3 287.8,684.0 288.1,673.1 288.4,686.6 288.7,677.3 289.0,686.9 289.3,674.3 289.6,686.8 289.9,676.1 290.2,686.2 290.5,677.5 290.8,686.7 291.1,674.5 291.4,686.2 291.7,674.1 292.0,690.2 292.3,674.3 292.6,688.4 292.9,674.3 293.2,687.3 293.5,679.0 293.8,687.1 294.1,670.8 294.4,687.8 294.7,678.2 295.0,687.5 295.3,673.2 295.6,689.8 295.9,680.2 296.2,685.5 296.5,666.4 296.8,686.1 297.1,678.6 297.4,688.8 297.7,678.5 298.0,690.5 298.3,677.2 298.6,694.7 298.9,679.5 299.2,686.6 299.5,679.8 299.8,685.9 300.1,671.5 300.4,687.4 300.7,681.0 301.0,692.4 301.3,672.3 301.6,688.3 301.9,679.9 302.2,687.3 302.5,677.2 302.8,688.5 303.1,677.5 303.4,687.7 303.7,678.5 304.0,692.0 304.3,678.4 304.6,687.3 304.9,680.0 305.2,691.1 305.5,679.3 305.8,686.4 306.1,679.1 306.4,687.6 306.7,680.9 307.0,686.5 307.3,679.9 307.7,687.3 308.0,680.6 308.3,689.4 308.6,676.8 308.9,689.3 309.2,681.4 309.5,693.6 309.8,676.8 310.1,688.3 310.4,680.7 310.7,691.1 311.0,680.6 311.3,686.9 311.6,679.7 311.9,687.0 312.2,681.5 312.5,689.0 312.8,679.1 313.1,687.4 313.4,681.2 313.7,690.5 314.0,675.5 314.3,690.2 314.6,680.5 314.9,697.0 315.2,679.3 315.5,689.3 315.8,682.1 316.1,689.8 316.4,680.7 316.7,687.4 317.0,681.5 317.3,693.7 317.6,680.4 317.9,692.9 318.2,681.5 318.5,689.1 318.8,682.3 319.1,689.4 319.4,682.8 319.7,688.3 320.0,680.5 320.3,693.9 320.6,679.9 320.9,689.8 321.2,680.0 321.5,688.5 321.8,680.5 322.1,688.0 322.4,674.8 322.7,689.7 323.0,678.5 323.3,689.3 323.6,679.6 323.9,690.5 324.2,681.2 324.5,693.6 324.8,681.5 325.1,690.5 325.4,678.7 325.7,688.1 326.0,680.6 326.3,690.8 326.6,679.6 326.9,689.0 327.2,681.0 327.5,689.3 327.8,680.8 328.1,689.5 328.4,681.4 328.7,693.7 329.0,681.9 329.3,688.7 329.6,682.7 329.9,692.3 330.2,682.2 330.5,691.0 330.8,677.9 331.1,688.3 331.4,681.7 331.7,687.8 332.0,681.3 332.3,687.9 332.6,681.2 332.9,690.8 333.2,679.5 333.5,689.4 333.8,680.7 334.1,688.3 334.4,675.4 334.7,687.9 335.0,677.8 335.3,691.3 335.6,680.5 335.9,691.9 336.2,681.4 336.5,687.8 336.8,679.0 337.1,689.8 337.4,682.2 337.7,688.5 338.0,675.4 338.3,688.6 338.6,679.9 338.9,691.4 339.2,682.2 339.5,697.4 339.8,682.6 340.1,689.6 340.4,678.9 340.7,691.9 341.0,681.4 341.3,698.1 341.6,683.4 341.9,693.3 342.2,683.3 342.5,689.1 342.8,679.7 343.1,692.0 343.4,676.2 343.7,690.5 344.0,683.6 344.3,693.3 344.6,681.2 344.9,692.5 345.2,681.2 345.5,690.3 345.8,682.0 346.1,692.5 346.4,679.7 346.7,690.5 347.0,680.8 347.3,690.0 347.6,681.4 347.9,690.3 348.2,682.2 348.5,693.2 348.8,684.1 349.1,691.5 349.4,679.3 349.7,693.4 350.0,682.5 350.3,696.1 350.6,682.5 350.9,691.5 351.2,683.4 351.5,690.8 351.8,683.0 352.1,693.0 352.4,681.4 352.7,694.0 353.0,677.1 353.3,690.5 353.6,684.6 353.9,696.0 354.2,684.6 354.5,692.3 354.8,684.0 355.1,691.6 355.4,678.3 355.7,692.8 356.0,677.5 356.3,692.3 356.6,684.0 356.9,693.3 357.2,686.3 357.5,694.1 357.8,683.5 358.1,693.4 358.4,684.2 358.7,692.6 359.0,684.1 359.3,691.9 359.6,685.3 359.9,692.7 360.2,679.2 360.5,693.5 360.8,681.3 361.1,697.1 361.4,678.6 361.7,692.0 362.0,686.4 362.3,692.0 362.6,682.8 362.9,698.3 363.2,681.8 363.5,691.9 363.8,685.1 364.1,691.7 364.4,682.7 364.7,695.3 365.0,684.5 365.3,696.8 365.6,684.1 365.9,695.4 366.2,683.1 366.5,701.8 366.8,682.1 367.1,691.5 367.4,685.6 367.7,695.9 368.0,682.6 368.3,693.6 368.6,683.2 368.9,695.5 369.2,680.1 369.5,695.9 369.8,680.1 370.1,690.4 370.4,684.4 370.7,693.2 371.0,679.8 371.3,696.0 371.6,681.7 371.9,694.0 372.2,683.7 372.5,691.0 372.8,685.0 373.1,699.4 373.4,683.3 373.7,694.3 374.0,683.3 374.3,691.7 374.6,683.8 374.9,695.6 375.2,682.2 375.5,692.5 375.8,680.3 376.1,691.6 376.4,684.6 376.7,691.3 377.0,684.2 377.3,693.0 377.6,682.7 377.9,690.8 378.2,683.4 378.5,692.6 378.8,682.0 379.1,694.9 379.4,683.6 379.7,697.1 380.0,684.5 380.3,693.4 380.6,684.4 380.9,691.6 381.2,682.2 381.5,694.3 381.8,668.9 382.1,691.1 382.4,683.0 382.7,690.8 383.0,684.9 383.3,699.9 383.6,682.4 383.9,690.8 384.2,681.1 384.5,691.9 384.8,682.1 385.1,690.3 385.4,679.4 385.7,698.0 386.0,671.1 386.3,693.6 386.6,683.8 386.9,694.8 387.2,683.7 387.5,691.3 387.8,684.7 388.1,690.1 388.4,684.5 388.7,689.7 389.0,684.1 389.3,690.8 389.6,682.4 389.9,690.6 390.2,683.5 390.5,691.3 390.8,684.1 391.1,691.0 391.4,683.6 391.7,694.7 392.0,678.8 392.3,693.9 392.6,679.6 392.9,692.4 393.2,681.7 393.5,690.7 393.8,683.7 394.1,691.0 394.4,683.6 394.7,693.2 395.0,681.0 395.3,694.2 395.6,684.5 395.9,705.9 396.2,682.0 396.5,694.7 396.8,684.0 397.1,692.2 397.4,685.7 397.7,698.4 398.0,683.5 398.3,696.3 398.6,679.3 398.9,693.4 399.2,686.1 399.5,698.0 399.8,686.1 400.1,693.2 400.4,686.5 400.7,692.8 401.0,678.0 401.3,694.1 401.6,683.2 401.9,701.5 402.2,682.6 402.5,695.6 402.8,684.3 403.1,695.8 403.4,686.4 403.7,692.9 404.0,682.2 404.3,698.2 404.6,686.1 404.9,705.0 405.2,680.2 405.5,696.2 405.8,681.5 406.1,695.6 406.4,684.6 406.7,694.7 407.0,679.6 407.3,697.2 407.6,684.4 407.9,693.6 408.3,684.1 408.6,694.1 408.9,685.7 409.2,693.2 409.5,678.1 409.8,695.9 410.1,682.4 410.4,694.3 410.7,687.8 411.0,693.6 411.3,684.8 411.6,694.1 411.9,685.3 412.2,695.6 412.5,683.1 412.8,692.6 413.1,687.3 413.4,695.5 413.7,685.2 414.0,696.0 414.3,684.8 414.6,694.2 414.9,684.1 415.2,693.2 415.5,684.6 415.8,694.5 416.1,687.4 416.4,695.2 416.7,684.7 417.0,693.9 417.3,686.4 417.6,697.0 417.9,686.6 418.2,693.1 418.5,687.1 418.8,694.0 419.1,685.6 419.4,694.8 419.7,683.0 420.0,692.3 420.3,683.3 420.6,695.1 420.9,681.9 421.2,693.1 421.5,686.3 421.8,692.9 422.1,682.5 422.4,692.2 422.7,685.2 423.0,693.5 423.3,685.2 423.6,692.8 423.9,684.7 424.2,695.8 424.5,685.6 424.8,692.5 425.1,683.9 425.4,693.4 425.7,683.9 426.0,693.5 426.3,681.3 426.6,692.2 426.9,681.3 427.2,703.2 427.5,681.2 427.8,692.1 428.1,684.2 428.4,695.0 428.7,673.9 429.0,695.4 429.3,687.0 429.6,697.1 429.9,674.6 430.2,699.4 430.5,686.9 430.8,694.2 431.1,683.6 431.4,694.7 431.7,682.0 432.0,696.4 432.3,682.7 432.6,696.2 432.9,686.6 433.2,693.0 433.5,683.1 433.8,694.1 434.1,681.1 434.4,691.5 434.7,684.1 435.0,691.7 435.3,684.8 435.6,711.4 435.9,686.4 436.2,693.2 436.5,686.5 436.8,696.4 437.1,683.5 437.4,697.0 437.7,682.0 438.0,693.4 438.3,684.8 438.6,691.3 438.9,682.6 439.2,700.3 439.5,677.4 439.8,692.0 440.1,684.4 440.4,691.9 440.7,676.6 441.0,694.1 441.3,683.4 441.6,700.5 441.9,686.7 442.2,694.3 442.5,681.8 442.8,705.5 443.1,686.8 443.4,695.5 443.7,683.3 444.0,694.5 444.3,686.1 444.6,696.8 444.9,681.3 445.2,693.8 445.5,682.5 445.8,692.5 446.1,685.9 446.4,701.8 446.7,680.5 447.0,696.0 447.3,685.6 447.6,694.3 447.9,683.7 448.2,695.1 448.5,686.2 448.8,692.4 449.1,681.2 449.4,695.1 449.7,682.5 450.0,692.4 450.3,681.4 450.6,702.0 450.9,684.4 451.2,691.5 451.5,685.8 451.8,692.7 452.1,685.0 452.4,693.3 452.7,683.6 453.0,694.9 453.3,685.4 453.6,693.0 453.9,684.1 454.2,695.4 454.6,685.9 454.9,691.1 455.2,680.8 455.5,692.9 455.8,675.9 456.1,693.0 456.4,686.1 456.7,691.8 457.0,686.1 457.3,692.5 457.6,685.2 457.9,699.7 458.2,679.8 458.5,694.9 458.8,685.7 459.1,695.9 459.4,676.9 459.7,695.4 460.0,685.5 460.3,693.9 460.6,684.9 460.9,691.5 461.2,684.2 461.5,694.6 461.8,684.4 462.1,692.6 462.4,684.2 462.7,696.9 463.0,683.5 463.3,691.8 463.6,685.1 463.9,695.3 464.2,681.2 464.5,696.0 464.8,685.4 465.1,692.6 465.4,685.5 465.7,695.5 466.0,685.0 466.3,693.4 466.6,683.0 466.9,696.3 467.2,681.3 467.5,695.4 467.8,685.0 468.1,696.4 468.4,681.8 468.7,696.3 469.0,680.0 469.3,698.3 469.6,686.0 469.9,694.2 470.2,683.0 470.5,696.5 470.8,680.5 471.1,698.9 471.4,681.3 471.7,694.0 472.0,684.4 472.3,692.8 472.6,685.4 472.9,692.3 473.2,685.9 473.5,699.2 473.8,679.8 474.1,693.8 474.4,685.1 474.7,693.3 475.0,678.6 475.3,696.0 475.6,681.0 475.9,693.7 476.2,683.4 476.5,692.5 476.8,683.6 477.1,696.7 477.4,686.4 477.7,697.8 478.0,681.0 478.3,692.8 478.6,682.7 478.9,693.8 479.2,685.6 479.5,693.5 479.8,681.0 480.1,694.4 480.4,686.9 480.7,695.0 481.0,684.3 481.3,695.4 481.6,684.9 481.9,693.2 482.2,686.0 482.5,693.0 482.8,686.1 483.1,697.8 483.4,684.4 483.7,696.0 484.0,683.8 484.3,693.2 484.6,681.7 484.9,700.0 485.2,686.1 485.5,692.1 485.8,687.0 486.1,696.8 486.4,681.4 486.7,692.6 487.0,683.2 487.3,692.5 487.6,679.7 487.9,694.0 488.2,687.1 488.5,694.2 488.8,682.8 489.1,694.9 489.4,683.9 489.7,692.7 490.0,686.4 490.3,692.1 490.6,682.9 490.9,697.6 491.2,684.8 491.5,692.3 491.8,686.2 492.1,700.3 492.4,683.9 492.7,695.4 493.0,685.3 493.3,695.9 493.6,683.8 493.9,693.5 494.2,686.0 494.5,696.8 494.8,683.5 495.1,696.3 495.4,678.7 495.7,692.3 496.0,685.7 496.3,694.3 496.6,684.5 496.9,698.0 497.2,683.8 497.5,692.4 497.8,685.2 498.1,700.5 498.4,682.9 498.7,692.5 499.0,686.3 499.3,694.1 499.6,686.4 499.9,693.0 500.2,685.0 500.5,694.6 500.8,681.4 501.2,695.8 501.5,681.0 501.8,694.7 502.1,675.0 502.4,692.2 502.7,684.3 503.0,701.7 503.3,682.2 503.6,697.2 503.9,680.7 504.2,694.8 504.5,683.1 504.8,691.4 505.1,685.7 505.4,692.0 505.7,683.6 506.0,695.7 506.3,684.8 506.6,693.7 506.9,676.5 507.2,692.4 507.5,685.6 507.8,695.7 508.1,677.4 508.4,693.0 508.7,683.5 509.0,691.9 509.3,681.5 509.6,697.7 509.9,682.8 510.2,693.1 510.5,681.1 510.8,692.1 511.1,681.6 511.4,692.7 511.7,683.6 512.0,694.3 512.3,682.4 512.6,693.4 512.9,678.3 513.2,691.3 513.5,681.6 513.8,696.9 514.1,683.4 514.4,693.4 514.7,683.2 515.0,695.0 515.3,682.6 515.6,691.3 515.9,681.1 516.2,690.7 516.5,678.3 516.8,694.7 517.1,686.3 517.4,692.6 517.7,682.4 518.0,695.1 518.3,685.5 518.6,692.6 518.9,683.8 519.2,692.8 519.5,683.5 519.8,696.8 520.1,682.6 520.4,691.4 520.7,684.7 521.0,696.9 521.3,685.7 521.6,697.0 521.9,683.7 522.2,694.0 522.5,684.2 522.8,693.2 523.1,682.5 523.4,698.4 523.7,680.3 524.0,692.1 524.3,683.5 524.6,693.6 524.9,682.2 525.2,697.6 525.5,685.2 525.8,692.5 526.1,683.9 526.4,693.3 526.7,682.8 527.0,694.3 527.3,687.0 527.6,693.6 527.9,687.5 528.2,694.6 528.5,681.9 528.8,699.5 529.1,680.4 529.4,694.0 529.7,686.8 530.0,693.4 530.3,685.7 530.6,693.5 530.9,685.3 531.2,698.1 531.5,687.0 531.8,695.2 532.1,680.9 532.4,692.4 532.7,686.9 533.0,696.9 533.3,687.0 533.6,698.3 533.9,685.8 534.2,695.6 534.5,682.4 534.8,694.6 535.1,687.4 535.4,694.9 535.7,687.8 536.0,694.5 536.3,686.7 536.6,697.4 536.9,688.5 537.2,693.7 537.5,680.4 537.8,696.9 538.1,687.3 538.4,694.4 538.7,685.8 539.0,697.0 539.3,683.6 539.6,696.9 539.9,683.9 540.2,701.6 540.5,685.6 540.8,696.6 541.1,687.1 541.4,695.1 541.7,685.6 542.0,693.3 542.3,688.0 542.6,693.2 542.9,685.5 543.2,694.8 543.5,687.2 543.8,697.6 544.1,687.6 544.4,694.7 544.7,685.0 545.0,694.9 545.3,685.4 545.6,694.2 545.9,683.5 546.2,693.3 546.5,683.7 546.8,700.7 547.1,685.9 547.5,694.9 547.8,679.1 548.1,695.2 548.4,686.3 548.7,698.5 549.0,685.5 549.3,693.3 549.6,684.5 549.9,694.9 550.2,686.7 550.5,692.8 550.8,681.9 551.1,696.7 551.4,686.9 551.7,692.9 552.0,681.9 552.3,693.9 552.6,682.8 552.9,692.6 553.2,679.9 553.5,695.9 553.8,686.5 554.1,699.5 554.4,675.9 554.7,695.4 555.0,682.6 555.3,694.9 555.6,686.1 555.9,695.7 556.2,681.2 556.5,696.9 556.8,684.8 557.1,693.5 557.4,684.4 557.7,693.1 558.0,682.7 558.3,696.5 558.6,679.2 558.9,694.1 559.2,685.0 559.5,693.1 559.8,685.7 560.1,699.0 560.4,683.9 560.7,694.1 561.0,682.8 561.3,696.2 561.6,681.0 561.9,698.6 562.2,681.1 562.5,697.7 562.8,682.0 563.1,691.6 563.4,685.3 563.7,694.7 564.0,683.6 564.3,693.8 564.6,685.0 564.9,693.9 565.2,684.2 565.5,695.4 565.8,684.4 566.1,693.1 566.4,687.2 566.7,695.2 567.0,684.3 567.3,695.8 567.6,686.7 567.9,694.4 568.2,686.1 568.5,693.6 568.8,680.6 569.1,693.8 569.4,684.6 569.7,692.9 570.0,684.9 570.3,705.9 570.6,682.9 570.9,692.7 571.2,682.6 571.5,696.2 571.8,684.9 572.1,692.8 572.4,683.4 572.7,697.8 573.0,682.5 573.3,693.0 573.6,687.2 573.9,697.4 574.2,685.3 574.5,695.5 574.8,686.6 575.1,694.9 575.4,682.5 575.7,694.1 576.0,687.8 576.3,697.0 576.6,684.1 576.9,697.8 577.2,684.1 577.5,692.7 577.8,682.6 578.1,695.6 578.4,685.4 578.7,694.1 579.0,686.4 579.3,693.1 579.6,686.4 579.9,699.0 580.2,683.7 580.5,693.9 580.8,679.8 581.1,694.8 581.4,684.9 581.7,695.7 582.0,684.3 582.3,696.5 582.6,685.0 582.9,701.2 583.2,682.9 583.5,696.1 583.8,686.7 584.1,695.6 584.4,687.3 584.7,694.0 585.0,687.1 585.3,692.5 585.6,685.9 585.9,694.5 586.2,684.9 586.5,694.3 586.8,683.0 587.1,693.0 587.4,684.3 587.7,692.7 588.0,685.5 588.3,691.9 588.6,686.4 588.9,693.5 589.2,683.4 589.5,694.3 589.8,682.4 590.1,696.9 590.4,684.5 590.7,697.0 591.0,680.3 591.3,691.9 591.6,684.6 591.9,697.8 592.2,683.4 592.5,695.0 592.8,683.2 593.1,692.0 593.4,686.2 593.7,698.8 594.0,685.8 594.3,693.3 594.6,684.1 594.9,694.7 595.2,686.4 595.5,693.6 595.8,684.8 596.1,693.0 596.4,681.8 596.7,692.4 597.0,684.0 597.3,695.1 597.6,682.8 597.9,691.9 598.2,683.5 598.5,693.0 598.8,685.1 599.1,695.2 599.4,684.2 599.7,694.7 600.0,682.8 600.3,693.1 600.6,683.6 600.9,691.2 601.2,686.0 601.5,694.0 601.8,676.2 602.1,694.6 602.4,681.0 602.7,691.5 603.0,684.8 603.3,696.7 603.6,681.3 603.9,695.1 604.2,684.5 604.5,692.3 604.8,683.3 605.1,696.6 605.4,682.3 605.7,693.0 606.0,686.0 606.3,696.2 606.6,681.3 606.9,695.8 607.2,682.5 607.5,692.4 607.8,680.8 608.1,698.2 608.4,683.4 608.7,693.7 609.0,680.4 609.3,693.2 609.6,682.5 609.9,690.8 610.2,681.5 610.5,693.6 610.8,685.4 611.1,691.3 611.4,682.4 611.7,694.2 612.0,681.3 612.3,690.4 612.6,678.4 612.9,691.1 613.2,684.2 613.5,691.6 613.8,681.3 614.1,692.5 614.4,677.0 614.7,695.0 615.0,684.1 615.3,691.9 615.6,681.1 615.9,699.0 616.2,684.1 616.5,691.9 616.8,683.6 617.1,695.7 617.4,682.5 617.7,692.3 618.0,685.3 618.3,691.4 618.6,679.2 618.9,691.9 619.2,680.2 619.5,692.9 619.8,682.9 620.1,698.1 620.4,683.9 620.7,691.1 621.0,683.4 621.3,693.4 621.6,678.7 621.9,691.8 622.2,681.3 622.5,694.8 622.8,680.9 623.1,693.1 623.4,681.1 623.7,690.5 624.0,684.7 624.3,692.7 624.6,684.7 624.9,689.5 625.2,681.8 625.5,691.6 625.8,681.5 626.1,693.5 626.4,678.9 626.7,689.5 627.0,682.4 627.3,692.2 627.6,680.2 627.9,696.9 628.2,683.5 628.5,694.9 628.8,681.7 629.1,689.8 629.4,680.6 629.7,692.6 630.0,682.7 630.3,691.8 630.6,682.6 630.9,690.5 631.2,680.1 631.5,697.1 631.8,682.2 632.1,688.7 632.4,682.4 632.7,693.4 633.0,677.8 633.3,692.9 633.6,682.4 633.9,689.6 634.2,680.0 634.5,689.0 634.8,681.9 635.1,692.9 635.4,682.6 635.7,693.8" fill="none" stroke="#1a6fe3" stroke-width="1.0" stroke-linejoin="round"/>
<path d="M188.3,1023.3 188.8,1018.2 189.2,997.1 189.5,1002.7 189.8,990.0 190.1,998.0 190.4,986.6 190.7,989.9 191.0,983.8 191.3,986.4 191.6,978.4 191.9,981.3 192.2,970.8 192.5,975.4 192.8,969.6 193.1,970.7 193.4,963.7 193.7,967.3 194.0,959.4 194.3,963.6 194.6,954.9 194.9,967.5 195.2,950.3 195.5,953.4 195.8,946.4 196.1,950.7 196.5,939.5 196.8,942.3 197.1,934.6 197.4,936.7 197.7,930.3 198.1,933.1 198.4,925.7 198.7,932.7 199.0,919.2 199.3,923.4 199.6,915.5 200.0,917.8 200.3,906.9 200.6,911.7 200.9,901.3 201.2,905.1 201.6,896.5 201.9,898.8 202.2,890.6 202.5,892.8 202.8,885.3 203.1,887.1 203.5,879.5 203.8,880.7 204.1,873.9 204.4,874.6 204.7,867.4 205.1,870.0 205.4,859.9 205.7,864.7 206.0,857.4 206.3,860.3 206.6,851.8 206.9,854.9 207.3,846.9 207.6,851.1 207.9,841.3 208.2,842.9 208.5,836.3 208.8,837.3 209.1,823.9 209.4,834.6 209.7,821.7 210.0,826.5 210.3,818.7 210.6,820.5 210.9,812.9 211.2,820.6 211.5,805.7 211.8,811.2 212.1,802.9 212.4,806.8 212.7,796.0 213.0,800.8 213.3,792.1 213.6,792.6 213.9,783.9 214.2,796.5 214.5,780.4 214.8,781.0 215.1,774.6 215.4,777.4 215.7,768.5 216.0,769.9 216.3,760.4 216.6,765.5 216.9,756.8 217.2,763.1 217.5,751.4 217.8,755.9 218.1,745.3 218.4,748.5 218.7,742.1 219.0,743.1 219.3,729.2 219.6,737.9 219.9,731.4 220.2,732.8 220.5,725.9 220.8,728.9 221.1,721.2 221.4,724.9 221.7,715.6 222.0,718.5 222.3,708.8 222.6,712.3 222.9,704.4 223.2,707.8 223.5,698.1 223.8,702.2 224.1,693.2 224.4,698.5 224.7,691.1 225.1,695.2 225.4,685.8 225.7,689.9 226.0,682.1 226.3,685.9 226.6,676.1 226.9,680.1 227.2,671.0 227.6,673.6 227.9,666.3 228.2,674.4 228.5,663.0 228.8,664.1 229.1,657.3 229.4,660.4 229.7,653.8 230.1,655.2 230.4,649.6 230.7,652.1 231.0,644.2 231.3,648.8 231.6,642.5 231.9,646.4 232.2,639.7 232.5,642.3 232.8,636.9 233.1,639.9 233.4,633.5 233.7,637.0 234.0,631.1 234.3,636.0 234.6,626.8 234.9,635.4 235.2,625.4 235.5,635.7 235.8,621.8 236.1,625.4 236.4,620.6 236.7,626.0 237.0,617.0 237.3,624.4 237.6,615.2 237.9,618.4 238.2,613.6 238.5,615.5 238.8,609.9 239.1,614.9 239.4,610.4 239.7,617.5 240.0,610.3 240.3,619.4 240.6,606.1 240.9,615.9 241.2,606.4 241.5,615.9 241.8,605.9 242.1,611.6 242.4,607.2 242.8,615.3 243.1,606.5 243.4,610.0 243.7,605.2 244.0,610.2 244.3,603.7 244.6,610.4 244.9,602.7 245.2,608.1 245.5,603.7 245.8,609.1 246.1,600.2 246.4,609.7 246.7,601.6 247.0,610.1 247.3,599.2 247.6,605.7 247.9,599.3 248.2,605.7 248.5,598.7 248.8,604.3 249.1,600.9 249.4,606.8 249.7,599.1 250.0,609.3 250.3,599.9 250.6,606.6 250.9,600.5 251.2,603.9 251.5,599.6 251.8,604.1 252.1,597.1 252.4,604.5 252.7,594.2 253.0,604.1 253.3,599.9 253.6,603.5 253.9,598.1 254.2,605.5 254.5,600.0 254.8,605.4 255.1,596.1 255.4,605.3 255.7,600.8 256.0,606.2 256.3,598.1 256.6,606.8 256.9,600.1 257.2,604.9 257.5,600.3 257.8,606.8 258.1,599.9 258.4,604.8 258.7,599.8 259.0,606.7 259.3,599.9 259.6,605.8 259.9,600.0 260.2,609.3 260.5,596.6 260.8,606.2 261.2,599.9 261.5,606.4 261.8,599.8 262.1,605.5 262.4,599.1 262.7,606.0 263.0,598.8 263.3,606.8 263.6,600.6 263.9,605.5 264.2,601.4 264.5,605.9 264.8,601.0 265.1,605.3 265.4,599.6 265.7,607.9 266.0,601.2 266.3,607.3 266.6,597.0 266.9,608.0 267.2,600.0 267.5,604.5 267.8,601.3 268.1,604.6 268.4,599.5 268.7,608.4 269.0,600.4 269.3,604.3 269.6,597.8 269.9,608.2 270.2,598.2 270.5,606.2 270.8,599.2 271.1,606.7 271.4,600.9 271.7,604.3 272.0,597.2 272.3,609.0 272.6,599.5 272.9,605.3 273.2,600.1 273.6,605.6 273.9,599.0 274.2,607.2 274.5,601.0 274.8,604.7 275.1,599.9 275.4,606.9 275.7,600.0 276.0,606.6 276.3,599.5 276.6,608.1 276.9,596.2 277.2,608.0 277.5,601.8 277.8,610.0 278.1,600.2 278.4,607.2 278.7,600.0 279.0,606.9 279.3,601.9 279.6,606.2 279.9,600.3 280.2,605.7 280.5,598.3 280.8,606.9 281.1,600.7 281.4,607.0 281.7,602.0 282.0,607.4 282.3,598.5 282.6,606.6 282.9,601.8 283.2,607.4 283.5,598.5 283.8,608.8 284.1,601.1 284.4,608.4 284.7,602.8 285.0,607.3 285.3,600.2 285.6,605.9 286.0,600.2 286.3,608.8 286.6,602.5 286.9,609.8 287.2,602.7 287.5,606.9 287.8,601.1 288.1,608.6 288.4,601.2 288.7,608.5 289.0,601.4 289.3,607.3 289.6,601.7 289.9,607.0 290.2,602.5 290.5,611.0 290.8,597.5 291.1,607.6 291.4,601.2 291.7,606.2 292.0,599.4 292.3,606.7 292.6,602.9 292.9,607.1 293.2,603.1 293.5,607.7 293.8,598.4 294.1,608.7 294.4,604.0 294.7,610.1 295.0,600.1 295.3,609.6 295.6,605.0 295.9,612.5 296.2,602.2 296.5,609.8 296.8,603.8 297.1,611.6 297.4,605.1 297.7,612.7 298.0,605.1 298.3,610.2 298.6,606.6 298.9,614.0 299.2,604.3 299.5,612.7 299.8,607.3 300.1,610.8 300.4,604.6 300.7,620.2 301.0,607.5 301.3,611.2 301.6,597.1 301.9,611.9 302.2,605.6 302.5,611.8 302.8,607.4 303.1,611.7 303.4,606.5 303.7,614.2 304.0,605.8 304.3,611.0 304.6,607.1 304.9,615.9 305.2,600.0 305.5,611.3 305.8,606.9 306.1,612.3 306.4,606.9 306.7,614.9 307.0,608.2 307.3,613.5 307.7,609.1 308.0,613.3 308.3,607.8 308.6,613.4 308.9,604.1 309.2,615.0 309.5,606.8 309.8,615.6 310.1,609.2 310.4,615.4 310.7,608.7 311.0,614.2 311.3,609.5 311.6,614.6 311.9,609.8 312.2,614.2 312.5,599.2 312.8,617.0 313.1,608.5 313.4,623.2 313.7,609.2 314.0,614.8 314.3,611.1 314.6,617.5 314.9,609.5 315.2,616.6 315.5,607.3 315.8,617.3 316.1,610.4 316.4,618.0 316.7,610.2 317.0,618.9 317.3,610.1 317.6,616.3 317.9,611.2 318.2,618.9 318.5,612.3 318.8,616.6 319.1,611.2 319.4,616.9 319.7,610.4 320.0,620.6 320.3,613.1 320.6,617.1 320.9,611.2 321.2,620.9 321.5,611.2 321.8,619.1 322.1,604.0 322.4,617.2 322.7,613.9 323.0,617.5 323.3,614.3 323.6,619.3 323.9,612.2 324.2,620.2 324.5,614.2 324.8,617.7 325.1,611.4 325.4,618.6 325.7,611.9 326.0,619.0 326.3,615.0 326.6,619.8 326.9,615.2 327.2,619.1 327.5,614.6 327.8,622.8 328.1,612.3 328.5,624.6 328.8,613.2 329.1,619.3 329.4,614.1 329.7,618.9 330.0,615.7 330.3,620.5 330.6,613.5 330.9,621.1 331.2,617.0 331.5,621.8 331.8,613.6 332.1,627.9 332.4,616.1 332.7,621.1 333.0,617.2 333.3,621.1 333.6,615.5 333.9,620.9 334.2,617.1 334.5,627.5 334.8,616.5 335.1,620.4 335.4,614.8 335.7,626.8 336.0,615.4 336.3,623.7 336.6,617.4 336.9,624.8 337.2,616.2 337.5,623.5 337.8,616.2 338.1,623.9 338.4,617.1 338.8,621.9 339.1,616.6 339.4,623.1 339.7,617.0 340.0,622.3 340.3,614.7 340.6,623.7 340.9,617.5 341.2,622.7 341.5,617.9 341.8,622.4 342.1,611.4 342.4,622.6 342.7,616.8 343.0,625.0 343.3,617.0 343.6,623.9 343.9,615.8 344.2,624.8 344.5,615.2 344.8,623.4 345.1,618.7 345.4,624.7 345.7,616.9 346.0,623.4 346.3,618.2 346.6,625.0 346.9,617.3 347.2,624.0 347.5,615.7 347.8,622.6 348.1,619.4 348.4,625.3 348.8,615.6 349.1,624.3 349.4,618.1 349.7,623.3 350.0,619.2 350.3,623.4 350.6,618.0 350.9,624.3 351.2,618.0 351.5,624.3 351.8,620.2 352.1,629.7 352.4,619.7 352.7,628.8 353.0,620.2 353.3,625.7 353.6,619.3 353.9,626.8 354.2,621.1 354.5,624.7 354.8,619.8 355.1,624.5 355.4,619.6 355.7,625.6 356.0,620.1 356.3,626.6 356.6,620.4 356.9,626.6 357.2,621.1 357.5,626.1 357.8,619.9 358.1,625.5 358.4,617.2 358.7,629.1 359.0,621.3 359.3,629.0 359.6,621.1 359.9,626.0 360.2,619.2 360.5,625.1 360.8,621.7 361.1,626.4 361.4,620.5 361.7,629.5 362.0,620.2 362.3,628.7 362.6,620.1 362.9,627.4 363.2,620.0 363.5,630.4 363.8,622.5 364.1,629.5 364.4,621.1 364.7,627.5 365.0,620.7 365.3,629.9 365.6,621.5 365.9,628.0 366.2,623.1 366.5,627.8 366.8,621.7 367.1,627.5 367.4,622.3 367.7,629.5 368.0,616.7 368.3,627.2 368.6,623.3 368.9,629.0 369.2,622.7 369.5,626.8 369.8,623.4 370.1,629.9 370.4,623.6 370.7,628.0 371.0,623.2 371.3,629.1 371.6,623.8 371.9,630.0 372.2,623.7 372.5,630.3 372.8,624.5 373.1,630.4 373.4,622.3 373.7,629.5 374.0,621.9 374.3,629.7 374.6,621.9 374.9,630.9 375.2,624.5 375.5,629.9 375.8,623.5 376.1,629.3 376.4,622.3 376.7,630.4 377.0,623.4 377.3,629.0 377.6,619.2 377.9,629.5 378.2,624.2 378.5,630.9 378.8,624.1 379.1,627.6 379.4,621.0 379.7,630.7 380.0,623.9 380.3,632.4 380.6,621.7 380.9,629.5 381.2,624.2 381.5,629.1 381.8,622.9 382.1,629.2 382.4,619.5 382.7,632.3 383.0,623.6 383.3,633.2 383.6,624.9 383.9,631.5 384.2,623.8 384.5,629.1 384.8,622.9 385.1,632.5 385.4,622.9 385.7,628.8 386.0,621.6 386.3,629.6 386.6,616.8 386.9,628.4 387.2,623.7 387.5,629.1 387.8,625.8 388.1,631.6 388.4,622.0 388.7,629.4 389.0,625.3 389.3,631.0 389.6,625.5 389.9,630.0 390.2,623.2 390.5,629.9 390.8,623.4 391.1,629.0 391.4,623.5 391.7,629.4 392.0,623.2 392.3,630.7 392.6,621.9 392.9,628.6 393.2,617.2 393.5,629.3 393.8,625.2 394.1,629.4 394.4,623.1 394.7,630.6 395.0,623.6 395.3,631.2 395.6,622.2 395.9,630.8 396.2,623.3 396.5,628.2 396.8,623.1 397.1,629.1 397.4,623.4 397.7,632.3 398.0,622.7 398.3,632.0 398.6,619.2 398.9,628.1 399.2,623.1 399.5,628.7 399.8,624.4 400.1,627.4 400.5,623.6 400.8,629.0 401.1,621.6 401.4,629.0 401.7,622.7 402.0,630.4 402.3,621.0 402.6,628.3 402.9,623.8 403.2,630.3 403.5,624.6 403.8,627.9 404.1,623.5 404.4,629.2 404.7,623.5 405.0,630.2 405.3,624.0 405.6,630.4 405.9,624.2 406.2,631.4 406.5,623.2 406.8,631.6 407.1,624.4 407.4,635.1 407.7,621.6 408.0,628.5 408.3,622.5 408.6,631.3 408.9,624.2 409.2,630.1 409.5,621.4 409.8,628.7 410.1,623.5 410.4,632.4 410.7,623.4 411.0,632.2 411.3,622.9 411.6,633.8 411.9,625.7 412.2,630.6 412.5,624.3 412.8,630.2 413.1,624.5 413.4,630.6 413.7,623.7 414.0,629.1 414.3,623.6 414.6,630.5 414.9,622.6 415.2,629.4 415.5,623.6 415.8,627.4 416.1,620.1 416.4,628.0 416.7,623.5 417.0,633.4 417.3,623.4 417.6,628.5 417.9,622.7 418.2,629.3 418.5,622.2 418.8,628.2 419.1,623.5 419.4,629.3 419.7,622.5 420.0,628.5 420.3,623.1 420.6,629.9 420.9,617.1 421.2,631.0 421.5,624.5 421.8,630.4 422.1,623.0 422.4,631.4 422.7,624.9 423.0,629.1 423.3,622.8 423.6,629.0 423.9,624.9 424.2,632.0 424.5,623.9 424.8,630.8 425.1,622.2 425.4,629.3 425.7,625.3 426.0,628.7 426.3,624.0 426.6,630.5 426.9,617.5 427.2,630.1 427.5,624.1 427.8,630.8 428.1,626.0 428.4,630.3 428.7,623.1 429.0,631.7 429.3,622.0 429.6,632.2 429.9,624.3 430.2,628.9 430.5,623.9 430.8,631.6 431.1,625.1 431.5,629.2 431.8,622.5 432.1,630.0 432.4,621.4 432.7,630.5 433.0,623.2 433.3,628.5 433.6,621.4 433.9,627.7 434.2,621.1 434.5,630.7 434.8,623.0 435.1,628.8 435.4,623.2 435.7,628.5 436.0,620.9 436.3,627.1 436.6,619.2 436.9,628.2 437.2,623.0 437.5,629.6 437.8,624.0 438.1,629.0 438.4,623.0 438.7,627.3 439.0,622.7 439.3,628.1 439.6,622.2 439.9,630.2 440.2,623.3 440.5,628.4 440.8,618.1 441.1,627.7 441.4,619.8 441.7,632.3 442.0,623.9 442.3,628.0 442.6,622.2 442.9,628.9 443.2,623.9 443.5,630.7 443.8,622.0 444.1,627.8 444.4,623.4 444.7,628.1 445.0,617.2 445.3,630.4 445.6,614.8 445.9,629.6 446.2,615.4 446.5,631.3 446.8,622.9 447.1,628.5 447.4,622.6 447.7,626.6 448.0,623.1 448.3,626.7 448.6,620.1 448.9,626.6 449.2,621.3 449.5,628.8 449.8,621.6 450.1,636.1 450.4,619.5 450.7,628.4 451.0,621.5 451.3,626.0 451.6,621.7 451.9,626.4 452.3,619.2 452.6,634.2 452.9,617.4 453.2,627.5 453.5,622.0 453.8,629.4 454.1,617.7 454.4,628.9 454.7,621.0 455.0,629.0 455.3,621.0 455.6,625.7 455.9,621.8 456.2,627.8 456.5,620.2 456.8,626.8 457.1,616.7 457.4,628.2 457.7,621.0 458.0,626.5 458.3,618.5 458.6,627.8 458.9,619.6 459.2,628.6 459.5,618.5 459.8,629.0 460.1,620.8 460.4,628.5 460.7,620.7 461.0,627.9 461.3,623.4 461.6,627.9 461.9,623.6 462.2,629.6 462.6,623.0 462.9,629.0 463.2,622.5 463.5,627.5 463.8,621.5 464.1,629.9 464.4,621.2 464.7,636.5 465.0,620.4 465.3,629.1 465.6,621.9 465.9,628.6 466.2,615.8 466.5,627.1 466.8,619.8 467.1,628.7 467.4,621.1 467.7,626.5 468.0,622.9 468.3,627.8 468.6,619.3 468.9,627.0 469.2,620.7 469.5,626.9 469.8,623.3 470.1,628.7 470.4,622.6 470.7,631.6 471.0,622.5 471.3,630.7 471.6,622.8 471.9,629.0 472.2,622.3 472.6,627.7 472.9,622.5 473.2,633.3 473.5,618.4 473.8,628.6 474.1,623.5 474.4,629.4 474.7,620.2 475.0,634.7 475.3,623.0 475.6,628.0 475.9,621.9 476.2,627.2 476.5,622.1 476.8,628.9 477.1,623.5 477.4,627.4 477.7,622.8 478.0,629.0 478.3,623.8 478.6,630.8 478.9,623.5 479.2,628.5 479.5,624.6 479.8,628.5 480.1,623.1 480.4,634.9 480.7,621.0 481.0,632.9 481.3,621.4 481.6,629.5 481.9,623.0 482.2,628.3 482.5,620.3 482.8,629.7 483.1,621.1 483.4,628.9 483.7,619.3 484.0,628.4 484.3,621.6 484.6,627.3 484.9,623.0 485.2,627.3 485.5,621.8 485.8,629.8 486.1,623.7 486.4,627.7 486.7,623.5 487.0,627.5 487.3,621.8 487.6,630.9 487.9,621.9 488.2,629.0 488.5,622.6 488.8,628.0 489.1,621.2 489.4,628.9 489.7,621.2 490.0,627.9 490.3,621.7 490.6,628.7 490.9,620.1 491.2,628.3 491.5,618.1 491.8,626.9 492.1,616.7 492.4,626.5 492.7,619.4 493.0,626.9 493.4,617.3 493.7,626.5 494.0,621.3 494.3,626.4 494.6,619.1 494.9,625.2 495.2,616.9 495.5,625.9 495.8,619.8 496.1,626.9 496.4,618.5 496.7,625.6 497.0,619.4 497.3,626.8 497.6,619.5 497.9,624.8 498.2,620.8 498.5,626.4 498.8,619.8 499.1,624.2 499.4,618.7 499.7,625.8 500.0,620.5 500.3,626.8 500.6,618.8 500.9,624.1 501.2,618.9 501.5,626.1 501.8,617.9 502.1,630.7 502.4,619.6 502.7,625.0 503.0,617.9 503.3,625.1 503.6,619.1 503.9,625.6 504.2,620.2 504.5,623.9 504.8,619.4 505.1,625.5 505.4,618.2 505.7,625.4 506.0,614.7 506.3,624.9 506.6,617.1 506.9,623.1 507.2,619.1 507.5,624.0 507.8,612.8 508.1,622.4 508.4,617.1 508.7,622.9 509.0,619.3 509.3,629.7 509.6,617.5 509.9,623.6 510.2,619.1 510.5,625.0 510.8,616.6 511.1,623.1 511.4,616.7 511.7,623.1 512.0,619.3 512.3,627.6 512.6,617.6 512.9,624.8 513.2,618.0 513.5,622.7 513.8,617.1 514.1,622.7 514.4,619.2 514.7,626.2 515.0,618.0 515.3,623.5 515.6,615.9 515.9,622.4 516.2,616.1 516.5,623.8 516.8,618.4 517.1,622.7 517.4,617.4 517.7,624.5 518.0,612.3 518.3,623.3 518.6,614.8 518.9,624.5 519.2,619.8 519.5,625.7 519.8,614.5 520.1,623.5 520.4,619.0 520.7,625.1 521.0,618.3 521.3,622.4 521.6,619.0 521.9,627.1 522.2,615.6 522.5,624.2 522.8,617.4 523.1,622.2 523.4,616.6 523.7,622.3 524.0,612.7 524.4,622.3 524.7,618.8 525.0,622.9 525.3,617.9 525.6,625.9 525.9,617.7 526.2,623.2 526.5,618.3 526.8,622.9 527.1,617.8 527.4,622.2 527.7,618.0 528.0,623.6 528.3,616.3 528.6,626.6 528.9,617.6 529.2,622.6 529.5,615.2 529.8,624.3 530.1,615.6 530.4,624.5 530.7,615.1 531.0,622.9 531.3,617.1 531.6,621.9 531.9,617.0 532.2,621.7 532.5,616.4 532.8,622.1 533.1,612.6 533.4,625.6 533.7,614.9 534.0,623.0 534.3,618.2 534.6,621.3 534.9,612.9 535.2,622.1 535.5,617.2 535.8,621.8 536.1,617.1 536.4,621.0 536.7,616.4 537.0,621.6 537.3,616.0 537.6,621.9 537.9,616.0 538.2,620.8 538.5,616.7 538.8,622.1 539.1,615.4 539.4,621.6 539.7,607.1 540.0,622.6 540.3,615.6 540.6,623.0 540.9,617.1 541.2,621.2 541.5,603.2 541.8,621.8 542.1,615.3 542.4,621.7 542.7,613.5 543.0,622.3 543.3,614.7 543.6,624.9 543.9,611.4 544.2,620.3 544.5,614.3 544.9,620.3 545.2,611.6 545.5,619.7 545.8,615.7 546.1,620.6 546.4,615.3 546.7,620.9 547.0,613.9 547.3,620.3 547.6,609.8 547.9,619.9 548.2,610.6 548.5,621.4 548.8,615.8 549.1,620.2 549.4,615.9 549.7,619.3 550.0,611.5 550.3,622.2 550.6,613.2 550.9,621.9 551.2,614.2 551.5,623.5 551.8,613.6 552.1,621.2 552.4,614.1 552.7,620.2 553.0,614.5 553.3,620.4 553.6,611.2 553.9,621.5 554.2,614.6 554.5,620.2 554.8,614.5 555.2,620.0 555.5,615.0 555.8,623.5 556.1,615.7 556.4,618.8 556.7,612.5 557.0,623.9 557.3,613.0 557.6,621.3 557.9,615.1 558.2,620.7 558.5,612.1 558.8,622.4 559.1,613.4 559.4,624.4 559.7,613.5 560.0,619.8 560.3,609.8 560.6,618.2 560.9,614.9 561.2,621.6 561.5,614.0 561.8,618.2 562.1,614.1 562.4,621.3 562.7,613.3 563.0,623.4 563.3,615.2 563.6,621.2 563.9,612.6 564.2,621.1 564.5,611.0 564.8,620.7 565.1,613.4 565.5,620.2 565.8,610.8 566.1,617.9 566.4,613.2 566.7,624.2 567.0,614.1 567.3,618.6 567.6,613.2 567.9,619.8 568.2,607.6 568.5,620.4 568.8,611.8 569.1,619.0 569.4,614.3 569.7,622.7 570.0,614.7 570.3,622.1 570.6,611.8 570.9,622.4 571.2,614.9 571.5,620.8 571.8,614.7 572.1,619.4 572.4,610.8 572.7,621.3 573.0,615.2 573.3,620.2 573.6,614.1 573.9,619.8 574.2,611.6 574.5,622.6 574.8,612.2 575.1,622.5 575.4,615.0 575.7,624.3 576.0,614.6 576.3,620.0 576.6,614.0 576.9,619.0 577.2,614.2 577.5,618.5 577.8,614.1 578.1,620.2 578.4,614.5 578.7,620.0 579.0,614.3 579.3,618.9 579.6,612.8 580.0,617.3 580.3,610.6 580.6,619.5 580.9,611.4 581.2,618.7 581.5,613.2 581.8,618.8 582.1,609.0 582.4,617.7 582.7,606.6 583.0,621.5 583.3,611.4 583.6,619.0 583.9,613.1 584.2,625.9 584.5,612.3 584.8,616.8 585.1,610.5 585.4,616.9 585.7,611.5 586.0,617.0 586.3,608.8 586.6,618.7 586.9,609.3 587.2,617.2 587.5,611.8 587.8,617.5 588.1,612.8 588.4,617.6 588.7,611.3 589.0,618.2 589.3,612.2 589.6,618.3 589.9,611.2 590.2,619.7 590.5,611.4 590.8,618.8 591.1,610.4 591.5,619.4 591.8,611.5 592.1,615.9 592.4,608.4 592.7,615.1 593.0,609.1 593.3,615.4 593.6,609.1 593.9,619.5 594.2,609.1 594.5,617.8 594.8,612.1 595.1,617.8 595.4,611.9 595.7,615.8 596.0,609.6 596.4,616.3 596.7,608.8 597.0,615.5 597.3,609.5 597.6,615.1 597.9,610.6 598.2,617.3 598.5,609.5" fill="none" stroke="#35a96c" stroke-width="1.0" stroke-linejoin="round"/>
<path d="M177.7,461 L177.7,1018" stroke="#b27be2" stroke-width="1.1" fill="none"/>
<path d="M175.6,496 L175.6,524" stroke="#b27be2" stroke-width="3.4" fill="none"/>
<path d="M169.8,1019.3 170.1,1030.2 170.4,1020.4 170.7,1027.9 171.0,1020.8 171.3,1027.5 171.6,1019.6 171.9,1030.4 172.2,1022.5 172.5,1036.2 172.8,1021.1 173.1,1026.8 173.4,1023.3 173.7,1029.6 174.0,1021.0 174.4,1027.6 174.7,1020.7 175.0,1027.1 175.3,1021.6 175.6,1032.1 175.9,1018.3 176.2,1031.0 176.5,1020.6 176.8,1030.3 177.1,1023.6 177.4,1027.5 177.7,1018.7 178.0,1030.5 178.3,1022.8 178.6,1027.0 178.9,1021.5 179.2,1028.0 179.5,1022.5 179.8,1028.9 180.1,1022.5 180.4,1027.2 180.7,1023.6 181.0,1028.7 181.3,1022.5 181.6,1029.7 181.9,1023.9 182.2,1030.2 182.5,1015.5 182.8,1034.9 183.1,1019.3 183.4,1030.1 183.8,1023.5 184.1,1029.2 184.4,1020.8 184.7,1031.1 185.0,1021.3 185.3,1031.3 185.6,1023.2 185.9,1027.5 186.2,1022.1 186.5,1028.0 186.8,1022.9 187.1,1027.6 187.4,1021.9 187.7,1030.4 188.0,1020.2 188.3,1032.8 188.6,1026.4 188.9,1010.7 189.3,983.9 189.6,970.3 189.9,962.0 190.2,967.4 190.5,952.5 190.8,958.5 191.1,950.4 191.4,956.1 191.7,942.7 192.0,947.3 192.3,937.9 192.6,943.8 192.9,935.4 193.2,936.9 193.5,928.7 193.8,931.6 194.1,923.6 194.4,929.0 194.8,919.1 195.1,923.1 195.4,914.6 195.7,919.6 196.1,906.6 196.4,913.1 196.7,905.2 197.0,908.1 197.4,898.9 197.7,906.1 198.0,897.3 198.3,898.9 198.6,889.3 198.9,892.5 199.2,882.3 199.5,885.7 199.8,873.2 200.2,875.8 200.5,867.1 200.8,868.3 201.1,856.3 201.4,861.2 201.7,852.2 202.0,856.0 202.3,843.4 202.6,850.4 202.9,834.3 203.2,840.7 203.5,832.0 203.8,835.7 204.1,821.5 204.4,827.3 204.7,814.4 205.0,821.9 205.3,810.4 205.6,817.8 205.9,807.0 206.2,811.6 206.6,799.7 206.9,809.0 207.2,789.0 207.5,796.5 207.8,787.1 208.1,789.2 208.4,780.1 208.7,784.0 209.0,773.1 209.3,774.3 209.6,765.8 209.9,771.3 210.2,759.0 210.5,766.1 210.8,752.6 211.1,755.5 211.4,746.3 211.7,748.0 212.0,736.5 212.3,743.0 212.6,730.5 212.9,736.9 213.2,723.2 213.5,726.0 213.8,713.9 214.1,725.7 214.4,711.3 214.8,715.7 215.1,704.3 215.4,704.7 215.7,695.4 216.0,698.2 216.3,689.9 216.6,692.8 216.9,681.0 217.2,682.9 217.5,675.1 217.8,676.4 218.1,666.8 218.4,671.1 218.7,660.0 219.0,665.2 219.4,646.7 219.7,649.4 220.0,639.2 220.3,644.2 220.7,627.7 221.0,635.0 221.3,619.1 221.6,626.5 221.9,615.4 222.2,618.0 222.6,610.9 222.9,613.3 223.2,607.5 223.5,609.1 223.8,593.6 224.1,609.4 224.4,594.3 224.7,602.3 225.1,592.6 225.4,594.6 225.7,587.7 226.0,594.3 226.3,583.7 226.6,588.8 226.9,578.6 227.2,585.8 227.5,570.8 227.8,578.1 228.1,570.2 228.4,573.7 228.7,562.7 229.0,569.1 229.3,562.3 229.6,568.7 229.9,555.2 230.3,560.3 230.6,553.4 230.9,559.7 231.2,547.8 231.5,558.9 231.8,546.0 232.1,549.9 232.4,541.6 232.7,545.0 233.0,535.7 233.3,540.2 233.6,527.4 233.9,536.7 234.2,530.6 234.5,537.0 234.8,528.1 235.1,531.8 235.4,525.0 235.8,535.0 236.1,524.6 236.4,530.5 236.7,522.1 237.0,526.5 237.3,514.1 237.6,523.8 237.9,517.1 238.2,522.7 238.5,514.6 238.8,520.8 239.2,511.3 239.5,518.7 239.8,508.6 240.1,514.4 240.4,508.4 240.7,515.4 241.0,506.9 241.3,513.0 241.6,504.9 241.9,509.5 242.2,502.5 242.5,508.9 242.8,502.4 243.1,509.4 243.4,498.6 243.7,506.7 244.0,500.8 244.3,506.8 244.6,495.9 244.9,505.2 245.2,496.8 245.5,505.2 245.8,498.0 246.1,504.6 246.4,496.5 246.7,501.1 247.0,492.6 247.3,499.6 247.6,494.8 247.9,500.7 248.2,494.8 248.5,500.2 248.8,494.0 249.1,500.1 249.4,492.9 249.7,499.0 250.0,494.2 250.3,497.8 250.6,494.2 250.9,502.9 251.2,491.2 251.5,498.1 251.8,493.6 252.1,498.6 252.4,492.8 252.7,499.2 253.0,492.7 253.3,502.8 253.6,491.9 253.9,499.1 254.2,493.1 254.5,498.9 254.8,491.9 255.1,498.0 255.4,492.6 255.7,498.8 256.0,491.9 256.3,498.9 256.6,491.0 256.9,502.3 257.2,493.7 257.5,500.7 257.8,493.8 258.1,499.7 258.4,493.9 258.7,500.2 259.0,495.5 259.3,501.2 259.6,495.1 259.9,499.8 260.2,495.6 260.5,507.3 260.8,495.3 261.1,500.4 261.4,494.0 261.7,507.1 262.0,493.8 262.3,500.7 262.6,491.4 262.9,500.7 263.2,495.4 263.5,499.1 263.8,489.4 264.1,503.2 264.4,493.5 264.7,502.6 265.0,492.4 265.3,501.8 265.7,493.6 266.0,499.3 266.3,488.1 266.6,498.8 266.9,491.6 267.2,499.9 267.5,492.0 267.8,499.4 268.1,492.5 268.4,500.4 268.7,493.2 269.0,500.4 269.3,495.6 269.6,499.5 269.9,495.5 270.2,500.8 270.5,495.7 270.8,500.1 271.1,494.0 271.4,506.4 271.7,495.0 272.0,501.5 272.3,495.2 272.6,502.0 272.9,495.7 273.2,500.6 273.5,495.8 273.8,499.9 274.1,495.6 274.4,504.4 274.7,493.7 275.0,502.4 275.3,495.9 275.6,509.1 275.9,495.0 276.2,500.0 276.5,492.6 276.8,501.3 277.1,496.2 277.4,502.2 277.7,490.8 278.0,500.9 278.3,496.5 278.6,506.9 278.9,494.9 279.2,501.4 279.5,494.1 279.8,505.2 280.1,495.4 280.4,510.6 280.7,495.6 281.0,501.6 281.3,497.4 281.6,503.8 281.9,493.2 282.2,505.6 282.5,496.0 282.8,503.7 283.1,495.3 283.4,504.9 283.7,496.4 284.0,506.5 284.3,496.3 284.6,503.1 284.9,498.4 285.2,504.5 285.5,493.2 285.8,506.6 286.1,498.9 286.4,503.6 286.7,499.4 287.0,503.2 287.3,499.7 287.6,505.9 287.9,497.9 288.2,507.4 288.5,497.8 288.9,505.1 289.2,498.0 289.5,506.1 289.8,499.7 290.1,505.0 290.4,497.7 290.7,508.5 291.0,500.4 291.3,510.9 291.6,501.2 291.9,506.0 292.2,500.8 292.5,508.1 292.8,499.7 293.1,507.8 293.4,501.9 293.7,508.6 294.0,494.7 294.3,508.8 294.6,501.4 294.9,508.1 295.2,499.8 295.5,507.9 295.8,502.6 296.1,508.4 296.4,502.7 296.7,513.5 297.0,502.4 297.3,508.7 297.6,504.4 297.9,508.3 298.2,498.7 298.5,511.5 298.8,504.9 299.1,511.0 299.4,505.4 299.7,511.2 300.0,503.1 300.3,510.9 300.6,502.0 300.9,511.0 301.2,502.9 301.5,512.5 301.8,503.8 302.1,510.8 302.4,506.7 302.7,514.1 303.0,504.1 303.3,513.1 303.6,505.0 303.9,511.6 304.2,507.9 304.5,515.2 304.8,508.1 305.1,516.0 305.4,501.1 305.7,516.4 306.0,508.0 306.3,516.5 306.6,509.0 307.0,514.9 307.3,504.2 307.6,514.5 307.9,508.1 308.2,515.8 308.5,504.9 308.8,519.6 309.1,508.2 309.4,514.2 309.7,508.6 310.0,517.2 310.3,509.5 310.6,518.9 310.9,510.7 311.2,516.0 311.5,508.4 311.8,520.0 312.1,509.7 312.4,515.3 312.7,510.0 313.0,516.0 313.3,506.9 313.6,517.3 313.9,512.4 314.2,517.6 314.5,510.0 314.8,517.6 315.1,508.3 315.4,518.6 315.7,509.7 316.0,518.0 316.3,513.2 316.6,516.6 316.9,513.0 317.2,519.3 317.6,511.4 317.9,518.1 318.2,509.8 318.5,518.0 318.8,510.8 319.1,520.7 319.4,514.0 319.7,520.3 320.0,511.4 320.3,520.5 320.6,510.5 320.9,520.1 321.2,514.6 321.5,519.8 321.8,514.4 322.1,524.8 322.4,514.2 322.7,520.3 323.0,514.5 323.3,521.2 323.6,516.0 323.9,521.3 324.2,515.2 324.5,522.4 324.8,515.8 325.1,522.2 325.4,516.1 325.7,520.4 326.0,515.4 326.3,523.4 326.6,512.3 326.9,520.1 327.2,514.4 327.5,523.6 327.8,513.1 328.1,521.8 328.5,512.3 328.8,527.5 329.1,514.3 329.4,525.2 329.7,517.1 330.0,524.2 330.3,515.2 330.6,523.4 330.9,515.8 331.2,524.3 331.5,516.3 331.8,526.0 332.1,515.4 332.4,523.4 332.7,514.7 333.0,528.4 333.3,514.3 333.6,528.1 333.9,516.8 334.2,522.6 334.5,518.9 334.8,523.6 335.1,515.7 335.4,524.7 335.7,517.9 336.0,524.4 336.3,519.3 336.6,527.0 336.9,519.1 337.2,529.8 337.5,518.7 337.8,524.8 338.1,514.1 338.4,524.7 338.8,520.2 339.1,525.6 339.4,518.6 339.7,525.1 340.0,518.1 340.3,527.3 340.6,520.5 340.9,525.3 341.2,518.0 341.5,524.9 341.8,519.6 342.1,527.7 342.4,511.2 342.7,525.9 343.0,521.2 343.3,526.5 343.6,521.0 343.9,526.1 344.2,518.9 344.5,529.2 344.8,516.6 345.1,527.9 345.4,523.0 345.7,527.7 346.0,518.5 346.3,527.9 346.6,521.3 346.9,527.0 347.2,517.6 347.5,527.3 347.8,521.5 348.1,527.8 348.4,522.6 348.8,530.1 349.1,522.9 349.4,527.6 349.7,522.4 350.0,532.2 350.3,524.1 350.6,530.6 350.9,522.8 351.2,534.9 351.5,522.7 351.8,534.7 352.1,521.5 352.4,533.0 352.7,523.2 353.0,528.3 353.3,521.6 353.6,531.0 353.9,523.2 354.2,530.8 354.5,525.6 354.8,532.0 355.1,524.8 355.4,530.0 355.7,522.9 356.0,529.6 356.3,525.5 356.6,532.8 356.9,525.1 357.2,533.8 357.5,526.5 357.9,530.7 358.2,522.9 358.5,536.9 358.8,524.0 359.1,530.9 359.4,525.8 359.7,533.2 360.0,526.8 360.3,534.4 360.6,525.2 360.9,534.1 361.2,526.1 361.5,531.4 361.8,527.7 362.1,533.4 362.4,525.6 362.7,532.7 363.0,528.4 363.3,534.1 363.6,529.5 363.9,536.8 364.2,527.1 364.5,534.3 364.8,528.1 365.1,536.5 365.4,529.0 365.8,534.0 366.1,526.5 366.4,534.3 366.7,529.7 367.0,539.2 367.3,529.3 367.6,533.8 367.9,528.6 368.2,537.4 368.5,527.9 368.8,535.2 369.1,529.3 369.4,535.7 369.7,528.6 370.0,534.9 370.3,530.3 370.6,539.0 370.9,520.8 371.2,535.0 371.5,529.0 371.8,536.2 372.1,529.9 372.4,536.9 372.7,529.2 373.0,535.0 373.3,530.2 373.6,536.1 373.9,529.4 374.2,535.9 374.5,527.0 374.8,535.3 375.1,529.1 375.4,535.7 375.7,529.4 376.0,536.0 376.3,528.2 376.6,538.0 376.9,526.9 377.2,535.6 377.5,529.6 377.8,537.0 378.1,527.3 378.4,535.8 378.7,528.1 379.0,537.7 379.3,528.8 379.6,535.5 379.9,529.3 380.2,541.5 380.5,528.2 380.8,536.4 381.1,531.4 381.4,535.5 381.7,528.3 382.0,537.2 382.3,529.9 382.6,538.4 382.9,530.5 383.2,535.3 383.5,530.2 383.8,535.2 384.1,527.1 384.4,536.6 384.7,530.0 385.0,537.2 385.3,526.1 385.6,535.8 385.9,526.2 386.2,538.2 386.5,530.4 386.8,540.8 387.1,525.3 387.4,539.1 387.7,526.2 388.0,537.2 388.3,530.7 388.6,539.9 388.9,530.2 389.2,537.0 389.5,531.9 389.8,536.0 390.1,529.5 390.4,538.9 390.7,527.1 391.0,544.1 391.3,532.7 391.6,541.2 391.9,531.6 392.2,539.2 392.5,531.6 392.8,539.7 393.1,531.7 393.4,539.1 393.7,531.0 394.0,535.8 394.3,529.1 394.6,538.0 394.9,532.0 395.2,537.9 395.5,527.5 395.8,537.5 396.1,531.2 396.4,535.7 396.7,531.7 397.0,536.4 397.4,529.5 397.7,538.0 398.0,530.7 398.3,540.7 398.6,524.2 398.9,537.6 399.2,530.2 399.5,536.8 399.8,528.2 400.1,538.5 400.4,528.7 400.7,537.5 401.0,531.4 401.3,536.6 401.6,531.1 401.9,534.6 402.2,529.5 402.5,535.6 402.8,527.5 403.1,534.8 403.4,529.8 403.7,537.5 404.0,530.3 404.3,535.3 404.6,527.9 404.9,538.6 405.2,525.7 405.5,536.1 405.8,529.1 406.1,535.8 406.4,527.8 406.7,534.7 407.0,530.3 407.3,535.5 407.6,529.3 407.9,534.3 408.2,525.7 408.5,535.9 408.8,528.3 409.1,539.3 409.4,528.6 409.8,534.2 410.1,530.1 410.4,534.0 410.7,523.4 411.0,534.0 411.3,527.5 411.6,535.4 411.9,529.4 412.2,535.4 412.5,529.2 412.8,533.8 413.1,525.0 413.4,534.1 413.7,520.2 414.0,534.8 414.3,527.9 414.6,534.0 414.9,519.9 415.2,536.3 415.5,527.8 415.8,541.3 416.1,526.9 416.4,532.6 416.7,524.2 417.0,532.2 417.3,524.4 417.6,535.8 417.9,525.3 418.2,539.0 418.5,525.8 418.8,531.5 419.1,525.4 419.4,538.3 419.7,523.2 420.0,531.7 420.3,523.1 420.6,533.8 420.9,525.4 421.2,537.1 421.5,525.6 421.8,534.2 422.1,522.4 422.4,534.1 422.7,525.7 423.0,532.9 423.3,521.9 423.6,533.6 423.9,520.9 424.2,532.8 424.5,523.4 424.8,531.9 425.1,522.4 425.4,532.9 425.7,526.4 426.0,533.4 426.3,523.8 426.6,533.7 426.9,525.0 427.2,536.9 427.5,524.4 427.8,532.5 428.1,525.3 428.4,532.4 428.7,525.8 429.0,531.4 429.3,526.2 429.6,536.4 429.9,527.2 430.2,532.2 430.5,525.8 430.8,534.0 431.1,527.0 431.5,533.0 431.8,524.9 432.1,531.0 432.4,525.6 432.7,531.3 433.0,521.6 433.3,532.7 433.6,524.5 433.9,531.5 434.2,525.7 434.5,531.6 434.8,522.9 435.1,531.7 435.4,522.3 435.7,530.4 436.0,522.7 436.3,534.8 436.6,526.4 436.9,534.8 437.2,521.5 437.5,534.5 437.8,526.2 438.1,530.0 438.4,525.9 438.7,530.8 439.0,521.9 439.3,531.8 439.6,524.6 439.9,530.7 440.2,525.7 440.5,532.9 440.8,523.7 441.1,535.0 441.4,519.9 441.7,531.9 442.0,523.6 442.3,530.0 442.6,523.0 442.9,529.7 443.2,524.0 443.5,532.6 443.8,523.1 444.1,530.3 444.4,521.4 444.7,529.3 445.0,518.6 445.3,533.5 445.6,524.1 445.9,531.6 446.2,524.1 446.5,533.6 446.8,521.7 447.1,532.6 447.4,524.6 447.7,532.2 448.0,524.6 448.3,531.2 448.6,525.1 448.9,529.7 449.2,522.8 449.5,537.8 449.8,523.3 450.1,530.8 450.4,522.1 450.7,533.7 451.0,525.7 451.3,533.5 451.6,524.2 451.9,530.2 452.3,524.4 452.6,533.1 452.9,521.4 453.2,532.0 453.5,523.9 453.8,530.5 454.1,526.5 454.4,532.9 454.7,525.1 455.0,533.2 455.3,520.9 455.6,529.8 455.9,525.9 456.2,530.5 456.5,525.8 456.8,533.0 457.1,525.4 457.4,533.0 457.7,524.0 458.0,531.0 458.3,523.6 458.6,532.1 458.9,525.3 459.2,537.4 459.5,524.6 459.8,536.9 460.1,522.6 460.4,536.7 460.7,522.4 461.0,533.6 461.3,523.7 461.6,531.5 461.9,523.9 462.2,530.9 462.6,526.0 462.9,537.2 463.2,526.1 463.5,531.2 463.8,526.2 464.1,531.6 464.4,527.8 464.7,533.5 465.0,527.6 465.3,531.5 465.6,523.8 465.9,530.9 466.2,523.8 466.5,535.1 466.8,526.9 467.1,531.8 467.4,525.0 467.7,532.5 468.0,521.0 468.3,533.3 468.6,526.8 468.9,533.6 469.2,526.4 469.5,531.4 469.8,522.1 470.1,532.6 470.4,526.7 470.7,532.7 471.0,527.0 471.3,532.5 471.6,524.7 471.9,533.5 472.2,526.2 472.6,531.7 472.9,525.0 473.2,531.8 473.5,526.3 473.8,533.2 474.1,526.3 474.4,533.6 474.7,527.5 475.0,532.0 475.3,527.0 475.6,531.8 475.9,525.3 476.2,532.3 476.5,527.8 476.8,536.8 477.1,523.7 477.4,534.2 477.7,526.0 478.0,538.7 478.3,526.9 478.6,534.6 478.9,526.6 479.2,532.7 479.5,526.5 479.8,532.8 480.1,527.1 480.4,532.6 480.7,525.9 481.0,532.6 481.3,526.0 481.6,533.6 481.9,526.2 482.2,531.3 482.5,520.5 482.8,532.4 483.1,525.0 483.4,537.0 483.7,525.1 484.1,532.7 484.4,527.6 484.7,531.7 485.0,523.8 485.3,531.4 485.6,524.6 485.9,534.2 486.2,524.2 486.5,532.9 486.8,525.8 487.1,531.6 487.4,526.9 487.7,532.7 488.0,525.9 488.3,532.2 488.6,525.9 488.9,535.6 489.2,523.7 489.5,533.6 489.8,525.9 490.1,533.8 490.4,522.0 490.7,530.4 491.0,522.8 491.3,529.4 491.6,522.9 491.9,529.4 492.2,524.3 492.5,532.7 492.8,520.5 493.1,532.1 493.4,523.8 493.7,531.2 494.0,526.3 494.3,529.8 494.6,523.0 494.9,531.2 495.2,524.0 495.5,530.6 495.8,525.4 496.1,532.0 496.5,520.0 496.8,533.2 497.1,526.3 497.4,534.7 497.7,524.3 498.0,532.3 498.3,525.8 498.6,530.3 498.9,522.1 499.2,531.3 499.5,523.7 499.8,532.1 500.1,525.4 500.4,530.4 500.7,525.1 501.0,533.7 501.3,525.6 501.6,532.2 501.9,525.1 502.2,534.1 502.5,524.9 502.8,535.1 503.1,523.8 503.4,528.8 503.7,523.2 504.0,529.9 504.3,523.2 504.6,528.6 504.9,522.1 505.2,531.0 505.5,523.2 505.8,528.6 506.1,521.8 506.4,531.5 506.7,522.8 507.0,531.4 507.3,524.4 507.6,529.2 507.9,524.5 508.2,532.5 508.5,519.5 508.9,530.8 509.2,522.2 509.5,531.7 509.8,523.7 510.1,528.1 510.4,523.2 510.7,529.2 511.0,520.4 511.3,531.2 511.6,523.2 511.9,529.0 512.2,522.3 512.5,529.9 512.8,521.7 513.1,529.6 513.4,523.2 513.7,527.9 514.0,522.8 514.3,532.8 514.6,518.2 514.9,529.4" fill="none" stroke="#b27be2" stroke-width="1.0" stroke-linejoin="round"/>
<path d="M169.5,1027.8 169.8,1025.1 170.1,1013.8 170.4,1012.9 170.7,997.5 171.1,996.4 171.4,984.3 171.7,981.8 172.0,967.8 172.3,969.0 172.6,953.9 172.9,953.3 173.2,940.8 173.6,939.5 173.9,923.8 174.2,923.8 174.5,906.9 174.8,911.0 175.1,898.0 175.4,900.3 175.7,881.9 176.0,883.5 176.3,873.2 176.7,871.9 177.0,861.3 177.3,859.5 177.6,848.2 177.9,847.0 178.2,835.6 178.5,836.5 178.8,821.0 179.1,822.0 179.4,809.6 179.7,807.6 180.0,792.7 180.3,793.8 180.6,781.6 180.9,782.6 181.2,765.8 181.5,770.5 181.8,752.4 182.1,756.0 182.4,741.6 182.7,740.7 183.0,729.2 183.3,729.7 183.6,714.9 183.9,717.1 184.2,703.2 184.5,703.3 184.8,688.7 185.1,689.3 185.4,672.2 185.8,669.5 186.1,656.5 186.4,656.0 186.7,638.7 187.0,635.4 187.3,621.6 187.6,624.1 187.9,612.4 188.2,611.1 188.5,600.9 188.8,598.9 189.2,588.2 189.5,587.7 189.8,572.5 190.1,576.8 190.4,561.7 190.7,565.0 191.0,551.3 191.3,555.0 191.6,543.7 191.9,546.9 192.2,534.2 192.5,538.1 192.8,522.8 193.1,527.9 193.5,511.9 193.8,518.5 194.1,500.0 194.4,507.6 194.7,496.1 195.0,498.3 195.3,487.5 195.6,487.5 195.9,477.6 196.2,480.8 196.5,466.4 196.8,469.0 197.1,451.1 197.4,458.8 197.8,443.2 198.1,448.7 198.4,438.5 198.7,436.8 199.0,424.0 199.3,428.6 199.6,417.9 199.9,423.7 200.2,410.7 200.5,417.2 200.8,402.7 201.1,404.7 201.4,393.2 201.8,397.0 202.1,383.0 202.4,389.1 202.7,379.5 203.0,384.7 203.3,372.0 203.6,374.5 203.9,363.6 204.2,370.8 204.5,354.9 204.8,361.2 205.1,345.6 205.4,352.9 205.7,337.6 206.1,343.9 206.4,331.2 206.7,333.6 207.0,324.8 207.3,329.2 207.6,316.8 207.9,318.2 208.2,310.4 208.5,312.5 208.8,303.5 209.1,305.4 209.4,295.2 209.7,298.3 210.0,289.4 210.4,292.8 210.7,284.8 211.0,289.7 211.3,278.0 211.6,286.4 211.9,272.9 212.2,273.9 212.5,265.0 212.8,269.7 213.1,259.3 213.4,262.7 213.7,255.2 214.0,258.6 214.3,251.7 214.6,256.4 214.9,241.5 215.2,250.8 215.5,238.5 215.9,244.0 216.2,235.4 216.5,239.5 216.8,232.6 217.1,236.5 217.4,223.8 217.7,229.8 218.0,222.3 218.3,226.1 218.6,215.2 218.9,221.1 219.2,212.6 219.5,217.5 219.8,208.4 220.1,214.7 220.4,205.8 220.7,208.7 221.0,202.2 221.3,205.4 221.6,198.1 221.9,202.6 222.3,197.0 222.6,202.8 222.9,183.3 223.2,197.0 223.5,182.9 223.8,194.7 224.1,183.8 224.4,188.4 224.7,177.4 225.0,184.3 225.3,174.8 225.6,182.7 225.9,175.2 226.2,180.4 226.6,171.2 226.9,177.7 227.2,169.6 227.5,174.3 227.8,166.5 228.1,168.8 228.4,161.9 228.7,170.7 229.0,160.7 229.3,164.0 229.6,158.2 230.0,160.7 230.3,154.6 230.6,158.1 230.9,149.9 231.2,156.6 231.5,149.5 231.8,154.6 232.1,146.1 232.4,152.3 232.7,141.6 233.0,149.5 233.3,137.0 233.6,144.7 233.9,140.2 234.2,146.5 234.5,137.0 234.8,146.2 235.1,137.2 235.4,145.7 235.7,136.1 236.0,148.2 236.3,141.6 236.6,151.0 236.9,139.9 237.2,147.9 237.5,138.0 237.8,147.2 238.1,136.2 238.4,145.3 238.7,141.2 239.0,146.0 239.3,138.0 239.6,147.9 239.9,138.6 240.2,148.9 240.5,140.2 240.8,144.4 241.1,138.1 241.4,143.8 241.7,134.2 242.0,146.4 242.3,138.8 242.7,142.1 243.0,135.9 243.3,142.1 243.7,130.1 244.0,139.7 244.4,133.7 244.7,139.2 245.0,126.3 245.3,137.6 245.6,130.2 245.9,136.0 246.2,128.8 246.5,136.6 246.8,128.1 247.1,135.7 247.4,129.6 247.8,134.3 248.1,129.6 248.4,134.8 248.7,127.9 249.0,136.2 249.3,128.2 249.6,132.9 249.9,125.3 250.2,132.0 250.5,123.8 250.8,130.7 251.1,120.4 251.4,131.6 251.7,121.8 252.0,135.8 252.3,115.7 252.6,130.2 252.9,122.7 253.2,133.7 253.6,124.9 253.9,134.4 254.2,126.7 254.5,132.3 254.8,121.8 255.1,130.5 255.4,120.9 255.7,132.5 256.0,123.0 256.3,133.9 256.6,125.5 256.9,132.2 257.2,125.3 257.5,131.6 257.8,122.1 258.1,133.6 258.4,124.7 258.7,132.8 259.0,127.5 259.3,132.6 259.7,123.9 260.0,132.9 260.3,125.5 260.6,134.7 260.9,127.4 261.2,131.8 261.5,126.3 261.8,134.6 262.1,128.7 262.4,134.1 262.7,125.7 263.0,133.5 263.3,125.5 263.6,140.1 263.9,126.8 264.2,136.3 264.5,128.2 264.8,134.1 265.1,128.8 265.4,134.6 265.7,129.3 266.0,138.2 266.3,124.1 266.7,134.2 267.0,130.8 267.3,140.3 267.6,126.8 267.9,136.4 268.2,130.2 268.5,135.3 268.8,131.1 269.1,137.3 269.4,128.5 269.7,138.2 270.0,128.4 270.3,136.0 270.6,131.8 270.9,141.2 271.2,132.7 271.5,137.6 271.8,130.8 272.1,139.5 272.4,128.5 272.7,137.5 273.0,132.9 273.3,139.0 273.6,132.2 273.9,138.3 274.2,133.1 274.5,142.4 274.8,131.3 275.1,137.7 275.4,133.3 275.7,138.0 276.0,132.1 276.3,138.7 276.6,121.9 276.9,143.0 277.2,132.3 277.5,140.3 277.8,127.1 278.1,139.7 278.4,135.1 278.7,138.9 279.0,135.4 279.3,139.7 279.6,132.6 279.9,140.7 280.2,133.1 280.5,139.2 280.8,133.5 281.1,156.7 281.4,132.6 281.7,141.4 282.0,134.5 282.3,139.8 282.6,128.1 282.9,141.3 283.2,133.9 283.5,145.3 283.9,132.1 284.2,141.1 284.5,135.1 284.8,141.3 285.1,134.5 285.4,147.6 285.7,135.9 286.0,142.5 286.3,134.7 286.6,144.1 286.9,138.0 287.2,142.9 287.5,137.5 287.8,143.0 288.1,137.3 288.4,142.5 288.7,131.3 289.0,143.9 289.3,134.0 289.6,145.0 289.9,137.1 290.2,144.2 290.5,136.4 290.8,145.4 291.1,137.2 291.4,146.0 291.7,135.4 292.0,143.6 292.3,137.5 292.6,147.9 292.9,136.5 293.2,144.5 293.5,138.9 293.8,145.1 294.1,140.1 294.4,147.0 294.7,136.3 295.0,144.9 295.3,141.4 295.6,148.9 295.9,140.1 296.2,146.6 296.5,140.5 296.8,148.4 297.1,139.3 297.4,148.5 297.7,142.0 298.0,148.4 298.3,140.5 298.6,150.0 298.9,141.1 299.2,145.9 299.5,141.8 299.8,147.5 300.1,141.7 300.4,148.6 300.7,140.7 301.0,150.1 301.3,141.6 301.6,149.6 301.9,136.4 302.2,150.6 302.5,142.3 302.8,153.1 303.1,143.1 303.4,147.1 303.7,141.7 304.0,148.6 304.3,142.1 304.6,148.7 304.9,139.4 305.2,148.5 305.5,140.3 305.8,150.0 306.1,143.9 306.4,147.8 306.7,143.1 307.0,148.4 307.3,142.6 307.6,148.4 307.9,143.9 308.2,151.4 308.5,143.0 308.8,151.7 309.1,145.2 309.4,154.1 309.7,141.2 310.0,155.2 310.3,146.5 310.6,153.8 310.9,146.5 311.2,150.5 311.5,145.3 311.8,151.5 312.1,145.1 312.4,151.8 312.7,144.7 313.0,152.6 313.3,145.5 313.6,155.6 313.9,145.9 314.2,153.0 314.5,142.8 314.8,151.7 315.1,146.9 315.4,156.3 315.7,146.5 316.0,155.3 316.3,149.2 316.6,153.2 316.9,149.4 317.2,153.0 317.5,148.7 317.8,156.1 318.1,146.3 318.4,157.1 318.7,150.0 319.0,158.8 319.3,147.7 319.6,154.5 319.9,148.5 320.2,156.7 320.5,149.2 320.8,155.4 321.1,150.4 321.4,154.5 321.7,148.9 322.0,156.1 322.3,150.3 322.6,160.6 322.9,149.8 323.2,173.3 323.5,150.4 323.8,161.1 324.1,147.8 324.4,155.3 324.7,145.5 325.0,157.3 325.3,150.7 325.6,156.7 325.9,150.9 326.2,157.6 326.5,151.2 326.8,157.4 327.1,152.0 327.4,157.0 327.7,151.9 328.0,157.8 328.3,152.7 328.7,159.2 329.0,154.8 329.3,160.9 329.6,147.9 329.9,159.4 330.2,154.4 330.5,163.9 330.8,153.3 331.1,161.0 331.4,157.1 331.7,163.5 332.0,154.7 332.3,164.6 332.6,157.3 332.9,163.2 333.2,158.2 333.5,163.8 333.8,159.0 334.1,166.6 334.4,158.0 334.7,165.9 335.0,159.8 335.3,166.9 335.7,153.6 336.0,164.6 336.3,158.2 336.6,164.9 336.9,160.8 337.2,167.6 337.5,162.1 337.8,166.1 338.1,159.6 338.4,169.3 338.7,157.1 339.0,167.8 339.3,151.4 339.6,176.8 339.9,160.7 340.2,169.9 340.5,160.8 340.8,170.6 341.1,160.3 341.4,172.4 341.7,164.8 342.0,171.9 342.3,163.4 342.7,171.8 343.0,163.7 343.3,171.6 343.6,165.1 343.9,177.3 344.2,163.1 344.5,170.7 344.8,166.3 345.1,170.8 345.4,157.0 345.7,174.1 346.0,165.2 346.3,183.5 346.6,166.1 346.9,173.5 347.2,166.4 347.5,171.9 347.8,167.3 348.1,172.2 348.4,167.0 348.7,172.6 349.0,169.1 349.4,174.8 349.7,168.8 350.0,173.9 350.3,169.5 350.6,174.9 350.9,168.6 351.2,179.1 351.5,169.8 351.8,179.6 352.1,168.9 352.4,180.9 352.7,171.7 353.0,177.8 353.3,170.7 353.6,177.2 353.9,168.9 354.2,176.5 354.5,169.1 354.8,176.7 355.1,173.0 355.4,178.6 355.7,168.6 356.0,176.5 356.3,171.8 356.6,179.1 356.9,171.0 357.2,176.9 357.5,169.1 357.8,177.2 358.1,168.1 358.4,177.7 358.7,172.3 359.0,178.7 359.3,171.7 359.6,180.7 359.9,172.5 360.2,178.6 360.5,172.8 360.8,179.9 361.1,172.7 361.4,179.6 361.7,175.4 362.0,182.0 362.3,169.7 362.6,180.4 362.9,175.3 363.2,185.0 363.5,174.5 363.8,179.9 364.1,175.5 364.4,180.1 364.7,170.8 365.0,185.2 365.3,173.8 365.6,183.7 365.9,173.0 366.2,181.0 366.5,177.3 366.8,181.5 367.1,170.9 367.4,183.5 367.7,174.9 368.0,182.8 368.3,170.2 368.6,184.1 368.9,177.1 369.2,181.7 369.5,174.2 369.8,182.0 370.1,175.7 370.4,184.3 370.7,177.0 371.0,184.0 371.3,179.3 371.6,184.9 371.9,176.3 372.2,184.9 372.5,177.2 372.8,184.7 373.1,175.9 373.4,188.2 373.7,178.8 374.0,186.9 374.3,180.5 374.6,185.9 374.9,178.2 375.2,186.8 375.5,181.1 375.8,187.8 376.1,182.0 376.4,186.3 376.7,181.0 377.0,188.0 377.3,179.7 377.6,186.0 377.9,181.2 378.2,188.3 378.5,172.2 378.8,186.1 379.1,181.8 379.4,191.5 379.7,183.1 380.0,190.6 380.3,177.3 380.6,188.8 380.9,178.1 381.2,191.1 381.5,182.6 381.8,190.9 382.1,183.1 382.4,188.8 382.7,181.1 383.0,190.9 383.3,182.5 383.6,190.3 383.9,182.6 384.2,189.3 384.5,185.2 384.8,191.6 385.1,181.2 385.4,190.8 385.7,183.4 386.0,190.0 386.3,186.1 386.6,192.1 386.9,186.1 387.3,191.9 387.6,182.6 387.9,193.1 388.2,174.3 388.5,191.3 388.8,186.1 389.1,190.9 389.4,186.6 389.7,192.0 390.0,183.0 390.3,192.4 390.6,185.0 390.9,193.3 391.2,182.0 391.5,196.6 391.8,185.3 392.1,191.8 392.4,186.0 392.7,192.9 393.0,186.5 393.3,193.1 393.6,186.4 393.9,196.8 394.2,187.0 394.5,198.7 394.8,187.1 395.1,198.6 395.4,190.6 395.7,195.1 396.0,186.9 396.3,194.7 396.6,190.0 396.9,200.1 397.2,190.0 397.5,203.2 397.8,188.4 398.1,199.6 398.4,189.1 398.7,196.8 399.0,190.2 399.3,199.3 399.6,190.9 399.9,196.8 400.2,188.6 400.5,195.7 400.9,189.1 401.2,198.7 401.5,188.5 401.8,196.2 402.1,181.0 402.4,199.4 402.7,192.6 403.0,203.7 403.3,190.8 403.6,197.3 403.9,192.7 404.2,198.7 404.5,192.0 404.8,198.4 405.1,193.4 405.4,198.4 405.7,192.8 406.0,197.9 406.3,186.9 406.6,200.1 406.9,192.9 407.2,199.2 407.5,192.1 407.8,199.3 408.1,192.7 408.4,203.2 408.7,188.5 409.0,198.6 409.3,194.1 409.6,202.2 409.9,194.1 410.2,201.9 410.5,194.3 410.8,199.5 411.1,194.6 411.4,199.9 411.7,184.5 412.0,200.4 412.3,195.1 412.6,199.7 412.9,191.7 413.2,202.9 413.5,194.1 413.8,200.5 414.1,193.2 414.4,203.3 414.8,194.6 415.1,202.5 415.4,195.1 415.7,200.4 416.0,195.5 416.3,203.1 416.6,193.9 416.9,200.1 417.2,192.7 417.5,207.9 417.8,196.5 418.1,200.8 418.4,195.5 418.7,206.6 419.0,197.6 419.3,206.2 419.6,198.0 419.9,204.9 420.2,192.4 420.5,201.3 420.8,194.8 421.1,206.9 421.4,196.6 421.7,205.2 422.0,196.9 422.3,203.7 422.6,197.0 422.9,202.2 423.2,197.6 423.5,202.9 423.8,195.5 424.1,203.9 424.4,194.4 424.7,204.3 425.0,194.5 425.3,204.5 425.6,198.4 425.9,207.0 426.2,199.2 426.5,202.8 426.8,195.3 427.1,204.2 427.4,195.1 427.7,204.3 428.0,198.4 428.4,203.6 428.7,196.2 429.0,205.9 429.3,198.8 429.6,203.1 429.9,197.9 430.2,203.3 430.5,195.4 430.8,204.8 431.1,199.2 431.4,203.3 431.7,199.6 432.0,204.9 432.3,196.6 432.6,205.4 432.9,199.9 433.2,203.9 433.5,199.3 433.8,204.6 434.1,200.7 434.4,207.3 434.7,198.0 435.0,208.1 435.3,199.8 435.6,208.5 435.9,199.2 436.2,209.4 436.5,201.3 436.8,206.0 437.1,200.7 437.4,206.8 437.7,201.5 438.0,206.1 438.3,200.6 438.6,209.4 438.9,201.3 439.2,207.7 439.5,190.7 439.8,209.0 440.1,202.1 440.4,213.0 440.7,199.9 441.0,207.9 441.3,198.6 441.6,206.1 441.9,202.7 442.2,208.3 442.5,202.5 442.8,206.6 443.1,200.3 443.4,208.2 443.7,198.8 444.0,208.8 444.3,203.5 444.6,208.2 445.0,203.8 445.3,211.9 445.6,203.0 445.9,208.4 446.2,200.3 446.5,208.5 446.8,197.6 447.1,214.6 447.4,200.5 447.7,207.8 448.0,202.2 448.3,209.0 448.6,202.2 448.9,209.7 449.2,204.2 449.5,212.2 449.8,199.9 450.1,212.6 450.4,193.6 450.7,210.0 451.0,197.5 451.3,209.2 451.6,197.9 451.9,209.2 452.2,203.4 452.5,209.3 452.8,199.3 453.1,209.8 453.4,203.4 453.7,208.2 454.0,199.9 454.3,208.9 454.6,204.1 454.9,208.2 455.2,205.0 455.5,209.2 455.8,200.6 456.1,212.5 456.5,202.0 456.8,211.3 457.1,206.4 457.4,212.2 457.7,203.9 458.0,214.5 458.3,208.7 458.6,214.7 458.9,209.4 459.2,216.2 459.5,208.7 459.9,215.6 460.2,212.3 460.5,219.5 460.8,209.0 461.1,218.4 461.4,210.2 461.7,221.7 462.0,217.3 462.3,222.2 462.7,215.7 463.0,224.7 463.3,220.5 463.6,228.9" fill="none" stroke="#cf9a0c" stroke-width="1.0" stroke-linejoin="round"/>
<path d="M463.6,226 L465,240 L466.4,300 L467,1018" stroke="#cf9a0c" stroke-width="1.25" fill="none"/>
</g>
<line x1="1055" y1="79.3" x2="1116.5" y2="79.3" stroke="#4d4d4d" stroke-width="1.3"/>
<line x1="1055" y1="125.0" x2="1116.5" y2="125.0" stroke="#f0383c" stroke-width="1.3"/>
<line x1="1055" y1="176.4" x2="1116.5" y2="176.4" stroke="#1a6fe3" stroke-width="1.3"/>
<line x1="1055" y1="227.9" x2="1116.5" y2="227.9" stroke="#35a96c" stroke-width="1.3"/>
<line x1="1055" y1="279.3" x2="1116.5" y2="279.3" stroke="#b27be2" stroke-width="1.3"/>
<line x1="1055" y1="330.8" x2="1116.5" y2="330.8" stroke="#cf9a0c" stroke-width="1.3"/>
<rect x="238.50" y="1995.10" width="75.10" height="230.60" fill="#cab2d6" stroke="#000" stroke-width="3.2"/>
<rect x="313.60" y="1961.90" width="79.30" height="263.80" fill="#80fffb" stroke="#000" stroke-width="3.2"/>
<rect x="429.40" y="1970.30" width="75.60" height="255.40" fill="#cab2d6" stroke="#000" stroke-width="3.2"/>
<rect x="505.00" y="1918.80" width="74.90" height="306.90" fill="#80fffb" stroke="#000" stroke-width="3.2"/>
<rect x="619.80" y="1921.90" width="75.70" height="303.80" fill="#cab2d6" stroke="#000" stroke-width="3.2"/>
<rect x="695.50" y="1883.40" width="74.80" height="342.30" fill="#80fffb" stroke="#000" stroke-width="3.2"/>
<rect x="807.60" y="1875.10" width="78.80" height="350.60" fill="#cab2d6" stroke="#000" stroke-width="3.2"/>
<rect x="886.40" y="1828.50" width="74.80" height="397.20" fill="#80fffb" stroke="#000" stroke-width="3.2"/>
<rect x="998.50" y="1791.70" width="75.10" height="434.00" fill="#cab2d6" stroke="#000" stroke-width="3.2"/>
<rect x="1073.60" y="1731.10" width="78.30" height="494.60" fill="#80fffb" stroke="#000" stroke-width="3.2"/>
<rect x="1189.40" y="1485.50" width="75.70" height="740.20" fill="#cab2d6" stroke="#000" stroke-width="3.2"/>
<rect x="1265.10" y="1401.80" width="74.80" height="823.90" fill="#80fffb" stroke="#000" stroke-width="3.2"/>
<path fill-rule="evenodd" fill="#000" d="M219,1303.1 H1359.8 Q1362.8,1303.1 1362.8,1306.1 V2228.9 H216 V1306.1 Q216,1303.1 219,1303.1 Z M223.8,1309.7 V2222.3 H1354.9 V1309.7 Z"/>
<path d="M219.9,1463.20 L238.5,1463.20" stroke="#000" stroke-width="6.8" stroke-linecap="round" fill="none"/>
<path d="M219.9,1614.30 L238.5,1614.30" stroke="#000" stroke-width="6.8" stroke-linecap="round" fill="none"/>
<path d="M219.9,1766.40 L238.5,1766.40" stroke="#000" stroke-width="6.8" stroke-linecap="round" fill="none"/>
<path d="M219.9,1918.20 L238.5,1918.20" stroke="#000" stroke-width="6.8" stroke-linecap="round" fill="none"/>
<path d="M219.9,2074.00 L238.5,2074.00" stroke="#000" stroke-width="6.8" stroke-linecap="round" fill="none"/>
<path d="M313.60,2225.7 L313.60,2208.3" stroke="#000" stroke-width="6.6" stroke-linecap="round" fill="none"/>
<path d="M505.00,2225.7 L505.00,2208.3" stroke="#000" stroke-width="6.6" stroke-linecap="round" fill="none"/>
<path d="M695.50,2225.7 L695.50,2208.3" stroke="#000" stroke-width="6.6" stroke-linecap="round" fill="none"/>
<path d="M886.40,2225.7 L886.40,2208.3" stroke="#000" stroke-width="6.6" stroke-linecap="round" fill="none"/>
<path d="M1073.60,2225.7 L1073.60,2208.3" stroke="#000" stroke-width="6.6" stroke-linecap="round" fill="none"/>
<path d="M1265.10,2225.7 L1265.10,2208.3" stroke="#000" stroke-width="6.6" stroke-linecap="round" fill="none"/>
<rect x="577.1" y="1327.1" width="105.4" height="108.5" fill="#000"/>
<rect x="580.8" y="1330.8" width="98.0" height="47.7" fill="#cab2d6"/>
<rect x="580.8" y="1385.4" width="98.0" height="46.6" fill="#80fffb"/>
<g style="filter:grayscale(1)">
<text transform="matrix(0.5019 0 0 0.4914 120.04 1048.30)" font-size="100" font-family="Liberation Sans" font-weight="bold" stroke="#000" stroke-width="2.5" stroke-linejoin="round" >0</text>
<text transform="matrix(0.5019 0 0 0.4914 119.38 879.53)" font-size="100" font-family="Liberation Sans" font-weight="bold" stroke="#000" stroke-width="2.5" stroke-linejoin="round" >5</text>
<text transform="matrix(0.5019 0 0 0.4914 92.18 710.77)" font-size="100" font-family="Liberation Sans" font-weight="bold" stroke="#000" stroke-width="2.5" stroke-linejoin="round"  clip-path="url(#c1)">10</text>
<text transform="matrix(0.5019 0 0 0.4914 91.53 542.00)" font-size="100" font-family="Liberation Sans" font-weight="bold" stroke="#000" stroke-width="2.5" stroke-linejoin="round"  clip-path="url(#c1)">15</text>
<text transform="matrix(0.5019 0 0 0.4914 92.18 373.23)" font-size="100" font-family="Liberation Sans" font-weight="bold" stroke="#000" stroke-width="2.5" stroke-linejoin="round" >20</text>
<text transform="matrix(0.5019 0 0 0.4914 91.53 204.47)" font-size="100" font-family="Liberation Sans" font-weight="bold" stroke="#000" stroke-width="2.5" stroke-linejoin="round" >25</text>
<text transform="matrix(0.5019 0 0 0.4914 92.18 35.70)" font-size="100" font-family="Liberation Sans" font-weight="bold" stroke="#000" stroke-width="2.5" stroke-linejoin="round" >30</text>
<text transform="matrix(0.5019 0 0 0.4914 133.53 1092.60)" font-size="100" font-family="Liberation Sans" font-weight="bold" stroke="#000" stroke-width="2.5" stroke-linejoin="round" >0.0</text>
<text transform="matrix(0.5019 0 0 0.4914 330.70 1092.60)" font-size="100" font-family="Liberation Sans" font-weight="bold" stroke="#000" stroke-width="2.5" stroke-linejoin="round" >0.2</text>
<text transform="matrix(0.5019 0 0 0.4914 527.04 1092.60)" font-size="100" font-family="Liberation Sans" font-weight="bold" stroke="#000" stroke-width="2.5" stroke-linejoin="round" >0.4</text>
<text transform="matrix(0.5019 0 0 0.4914 725.02 1092.60)" font-size="100" font-family="Liberation Sans" font-weight="bold" stroke="#000" stroke-width="2.5" stroke-linejoin="round" >0.6</text>
<text transform="matrix(0.5019 0 0 0.4914 922.08 1092.60)" font-size="100" font-family="Liberation Sans" font-weight="bold" stroke="#000" stroke-width="2.5" stroke-linejoin="round" >0.8</text>
<text transform="matrix(0.5019 0 0 0.4914 1118.94 1092.60)" font-size="100" font-family="Liberation Sans" font-weight="bold" stroke="#000" stroke-width="2.5" stroke-linejoin="round"  clip-path="url(#c1)">1.0</text>
<text transform="matrix(0.5019 0 0 0.4914 1316.11 1092.60)" font-size="100" font-family="Liberation Sans" font-weight="bold" stroke="#000" stroke-width="2.5" stroke-linejoin="round"  clip-path="url(#c1)">1.2</text>
<text transform="matrix(0.5036 0 0 0.4772 808.82 1198.43)" font-size="100" font-family="Liberation Sans" font-weight="bold" stroke="#000" stroke-width="2.5" stroke-linejoin="round" >Strain</text>
<text transform="matrix(0 -0.5966 0.6273 0 44.92 718.74)" font-size="100" font-family="Liberation Sans" font-weight="bold" stroke="#000" stroke-width="2.5" stroke-linejoin="round" >Stress (Mpa)</text>
<text transform="matrix(0.5240 0 0 0.4885 210.71 91.15)" font-size="100" font-family="Liberation Sans" stroke="#000" stroke-width="1.8" stroke-linejoin="round" >(a)</text>
<text transform="matrix(0.3591 0 0 0.3136 1123.92 86.91)" font-size="100" font-family="Liberation Serif" font-weight="bold" style="font-kerning:none" stroke="#000" stroke-width="3" stroke-linejoin="round" >PVA/ PVP blend</text>
<text transform="matrix(0.3523 0 0 0.3391 1116.17 133.40)" font-size="100" font-family="Liberation Serif" font-weight="bold" style="font-kerning:none" stroke="#000" stroke-width="3" stroke-linejoin="round" >0.06</text>
<text transform="matrix(0.3383 0 0 0.3391 1189.11 133.40)" font-size="100" font-family="Liberation Serif" font-weight="bold" style="font-kerning:none" stroke="#000" stroke-width="3" stroke-linejoin="round" letter-spacing="6" >wt</text>
<text transform="matrix(0.3984 0 0 0.3391 1236.11 133.40)" font-size="100" font-family="Liberation Serif" font-weight="bold" style="font-kerning:none" stroke="#000" stroke-width="3" stroke-linejoin="round" >%</text>
<text transform="matrix(0.3657 0 0 0.3176 1303.17 132.84)" font-size="100" font-family="Liberation Sans" font-weight="bold" stroke="#000" stroke-width="4.5" stroke-linejoin="round" >Fe<tspan dy="19" font-size="93">2</tspan><tspan dy="-19" font-size="100">O</tspan><tspan dy="19" font-size="93">3</tspan></text>
<text transform="matrix(0.3523 0 0 0.3391 1125.87 184.60)" font-size="100" font-family="Liberation Serif" font-weight="bold" style="font-kerning:none" stroke="#000" stroke-width="3" stroke-linejoin="round" >0.3</text>
<text transform="matrix(0.3339 0 0 0.3391 1190.40 184.60)" font-size="100" font-family="Liberation Serif" font-weight="bold" style="font-kerning:none" stroke="#000" stroke-width="3" stroke-linejoin="round" letter-spacing="6" >wt</text>
<text transform="matrix(0.3984 0 0 0.3391 1236.91 184.60)" font-size="100" font-family="Liberation Serif" font-weight="bold" style="font-kerning:none" stroke="#000" stroke-width="3" stroke-linejoin="round" >%</text>
<text transform="matrix(0.3657 0 0 0.3176 1303.17 184.04)" font-size="100" font-family="Liberation Sans" font-weight="bold" stroke="#000" stroke-width="4.5" stroke-linejoin="round" >Fe<tspan dy="19" font-size="93">2</tspan><tspan dy="-19" font-size="100">O</tspan><tspan dy="19" font-size="93">3</tspan></text>
<text transform="matrix(0.3523 0 0 0.3391 1125.87 235.60)" font-size="100" font-family="Liberation Serif" font-weight="bold" style="font-kerning:none" stroke="#000" stroke-width="3" stroke-linejoin="round" >0.6</text>
<text transform="matrix(0.3339 0 0 0.3391 1190.40 235.60)" font-size="100" font-family="Liberation Serif" font-weight="bold" style="font-kerning:none" stroke="#000" stroke-width="3" stroke-linejoin="round" letter-spacing="6" >wt</text>
<text transform="matrix(0.3984 0 0 0.3391 1236.91 235.60)" font-size="100" font-family="Liberation Serif" font-weight="bold" style="font-kerning:none" stroke="#000" stroke-width="3" stroke-linejoin="round" >%</text>
<text transform="matrix(0.3657 0 0 0.3176 1303.17 235.04)" font-size="100" font-family="Liberation Sans" font-weight="bold" stroke="#000" stroke-width="4.5" stroke-linejoin="round" >Fe<tspan dy="19" font-size="93">2</tspan><tspan dy="-19" font-size="100">O</tspan><tspan dy="19" font-size="93">3</tspan></text>
<text transform="matrix(0.3523 0 0 0.3391 1125.89 287.30)" font-size="100" font-family="Liberation Serif" font-weight="bold" style="font-kerning:none" stroke="#000" stroke-width="3" stroke-linejoin="round" >3</text>
<text transform="matrix(0.3339 0 0 0.3391 1190.40 287.30)" font-size="100" font-family="Liberation Serif" font-weight="bold" style="font-kerning:none" stroke="#000" stroke-width="3" stroke-linejoin="round" letter-spacing="6" >wt</text>
<text transform="matrix(0.3984 0 0 0.3391 1236.91 287.30)" font-size="100" font-family="Liberation Serif" font-weight="bold" style="font-kerning:none" stroke="#000" stroke-width="3" stroke-linejoin="round" >%</text>
<text transform="matrix(0.3657 0 0 0.3176 1303.17 286.74)" font-size="100" font-family="Liberation Sans" font-weight="bold" stroke="#000" stroke-width="4.5" stroke-linejoin="round" >Fe<tspan dy="19" font-size="93">2</tspan><tspan dy="-19" font-size="100">O</tspan><tspan dy="19" font-size="93">3</tspan></text>
<text transform="matrix(0.3523 0 0 0.3391 1126.02 339.30)" font-size="100" font-family="Liberation Serif" font-weight="bold" style="font-kerning:none" stroke="#000" stroke-width="3" stroke-linejoin="round" >6</text>
<text transform="matrix(0.3339 0 0 0.3391 1190.40 339.30)" font-size="100" font-family="Liberation Serif" font-weight="bold" style="font-kerning:none" stroke="#000" stroke-width="3" stroke-linejoin="round" letter-spacing="6" >wt</text>
<text transform="matrix(0.3984 0 0 0.3391 1236.91 339.30)" font-size="100" font-family="Liberation Serif" font-weight="bold" style="font-kerning:none" stroke="#000" stroke-width="3" stroke-linejoin="round" >%</text>
<text transform="matrix(0.3657 0 0 0.3176 1303.17 338.74)" font-size="100" font-family="Liberation Sans" font-weight="bold" stroke="#000" stroke-width="4.5" stroke-linejoin="round" >Fe<tspan dy="19" font-size="93">2</tspan><tspan dy="-19" font-size="100">O</tspan><tspan dy="19" font-size="93">3</tspan></text>
<text transform="matrix(0.4309 0 0 0.4219 149.21 1320.36)" font-size="100" font-family="Liberation Sans" font-weight="bold" stroke="#000" stroke-width="2.5" stroke-linejoin="round" letter-spacing="5" >30</text>
<text transform="matrix(0.4309 0 0 0.4219 148.65 1472.46)" font-size="100" font-family="Liberation Sans" font-weight="bold" stroke="#000" stroke-width="2.5" stroke-linejoin="round" letter-spacing="5" >25</text>
<text transform="matrix(0.4309 0 0 0.4219 149.21 1627.86)" font-size="100" font-family="Liberation Sans" font-weight="bold" stroke="#000" stroke-width="2.5" stroke-linejoin="round" letter-spacing="5" >20</text>
<text transform="matrix(0.4309 0 0 0.4219 148.65 1779.86)" font-size="100" font-family="Liberation Sans" font-weight="bold" stroke="#000" stroke-width="2.5" stroke-linejoin="round" letter-spacing="5"  clip-path="url(#c1)">15</text>
<text transform="matrix(0.4309 0 0 0.4219 149.21 1931.96)" font-size="100" font-family="Liberation Sans" font-weight="bold" stroke="#000" stroke-width="2.5" stroke-linejoin="round" letter-spacing="5"  clip-path="url(#c1)">10</text>
<text transform="matrix(0.4309 0 0 0.4219 174.72 2084.35)" font-size="100" font-family="Liberation Sans" font-weight="bold" stroke="#000" stroke-width="2.5" stroke-linejoin="round" letter-spacing="5" >5</text>
<text transform="matrix(0.4309 0 0 0.4219 175.28 2235.86)" font-size="100" font-family="Liberation Sans" font-weight="bold" stroke="#000" stroke-width="2.5" stroke-linejoin="round" letter-spacing="5" >0</text>
<text transform="matrix(0.4220 0 0 0.4040 194.55 2276.40)" font-size="100" font-family="Liberation Sans" font-weight="bold" stroke="#000" stroke-width="2.5" stroke-linejoin="round" letter-spacing="5" >Pure blend</text>
<text transform="matrix(0.4220 0 0 0.4040 460.21 2276.40)" font-size="100" font-family="Liberation Sans" font-weight="bold" stroke="#000" stroke-width="2.5" stroke-linejoin="round" letter-spacing="5" >0.06</text>
<text transform="matrix(0.4220 0 0 0.4040 663.48 2276.40)" font-size="100" font-family="Liberation Sans" font-weight="bold" stroke="#000" stroke-width="2.5" stroke-linejoin="round" letter-spacing="5" >0.3</text>
<text transform="matrix(0.4220 0 0 0.4040 854.38 2276.40)" font-size="100" font-family="Liberation Sans" font-weight="bold" stroke="#000" stroke-width="2.5" stroke-linejoin="round" letter-spacing="5" >0.6</text>
<text transform="matrix(0.4220 0 0 0.4040 1061.63 2276.40)" font-size="100" font-family="Liberation Sans" font-weight="bold" stroke="#000" stroke-width="2.5" stroke-linejoin="round" letter-spacing="5" >3</text>
<text transform="matrix(0.4220 0 0 0.4040 1252.86 2276.40)" font-size="100" font-family="Liberation Sans" font-weight="bold" stroke="#000" stroke-width="2.5" stroke-linejoin="round" letter-spacing="5" >6</text>
<text transform="matrix(0.4200 0 0 0.4042 666.40 2351.00)" font-size="100" font-family="Liberation Sans" font-weight="bold" stroke="#000" stroke-width="2.5" stroke-linejoin="round" letter-spacing="5" >wt % Fe<tspan dy="26" font-size="68">2</tspan><tspan dy="-26" font-size="100">O</tspan><tspan dy="26" font-size="68">3</tspan><tspan dy="-26" font-size="100"> NPs</tspan></text>
<text transform="matrix(0 -0.3958 0.4755 0 130.71 2197.88)" font-size="100" font-family="Liberation Sans" font-weight="bold" stroke="#000" stroke-width="2.5" stroke-linejoin="round" letter-spacing="5" >Ultimate</text>
<text transform="matrix(0 -0.4039 0.4755 0 130.71 2011.69)" font-size="100" font-family="Liberation Sans" font-weight="bold" stroke="#000" stroke-width="2.5" stroke-linejoin="round" letter-spacing="5" >and</text>
<text transform="matrix(0 -0.4211 0.4755 0 130.71 1925.75)" font-size="100" font-family="Liberation Sans" font-weight="bold" stroke="#000" stroke-width="2.5" stroke-linejoin="round" letter-spacing="5" >Yield</text>
<text transform="matrix(0 -0.3977 0.4755 0 130.71 1790.39)" font-size="100" font-family="Liberation Sans" font-weight="bold" stroke="#000" stroke-width="2.5" stroke-linejoin="round" letter-spacing="5" >tensile</text>
<text transform="matrix(0 -0.4074 0.4755 0 130.71 1640.66)" font-size="100" font-family="Liberation Sans" font-weight="bold" stroke="#000" stroke-width="2.5" stroke-linejoin="round" letter-spacing="5" >strength</text>
<text transform="matrix(0 -0.4136 0.4755 0 130.71 1448.15)" font-size="100" font-family="Liberation Sans" font-weight="bold" stroke="#000" stroke-width="2.5" stroke-linejoin="round" letter-spacing="5" >(MPa)</text>
<text transform="matrix(0.4463 0 0 0.4166 256.93 1368.73)" font-size="100" font-family="Liberation Sans" font-weight="bold" stroke="#000" stroke-width="2.5" stroke-linejoin="round" >(b)</text>
<text transform="matrix(0.4657 0 0 0.4230 695.66 1367.80)" font-size="100" font-family="Liberation Sans" stroke="#000" stroke-width="2.4" stroke-linejoin="round" >Yield</text>
<text transform="matrix(0.4565 0 0 0.4230 809.64 1367.80)" font-size="100" font-family="Liberation Sans" stroke="#000" stroke-width="2.4" stroke-linejoin="round" >strength</text>
<text transform="matrix(0.4553 0 0 0.4230 693.78 1422.60)" font-size="100" font-family="Liberation Sans" stroke="#000" stroke-width="2.4" stroke-linejoin="round" >ultimate</text>
<text transform="matrix(0.4374 0 0 0.4230 872.26 1422.60)" font-size="100" font-family="Liberation Sans" stroke="#000" stroke-width="2.4" stroke-linejoin="round" >tensile</text>
<text transform="matrix(0.4546 0 0 0.4230 1016.15 1422.60)" font-size="100" font-family="Liberation Sans" stroke="#000" stroke-width="2.4" stroke-linejoin="round" >strength</text>
</g>
</svg>
</body></html>
